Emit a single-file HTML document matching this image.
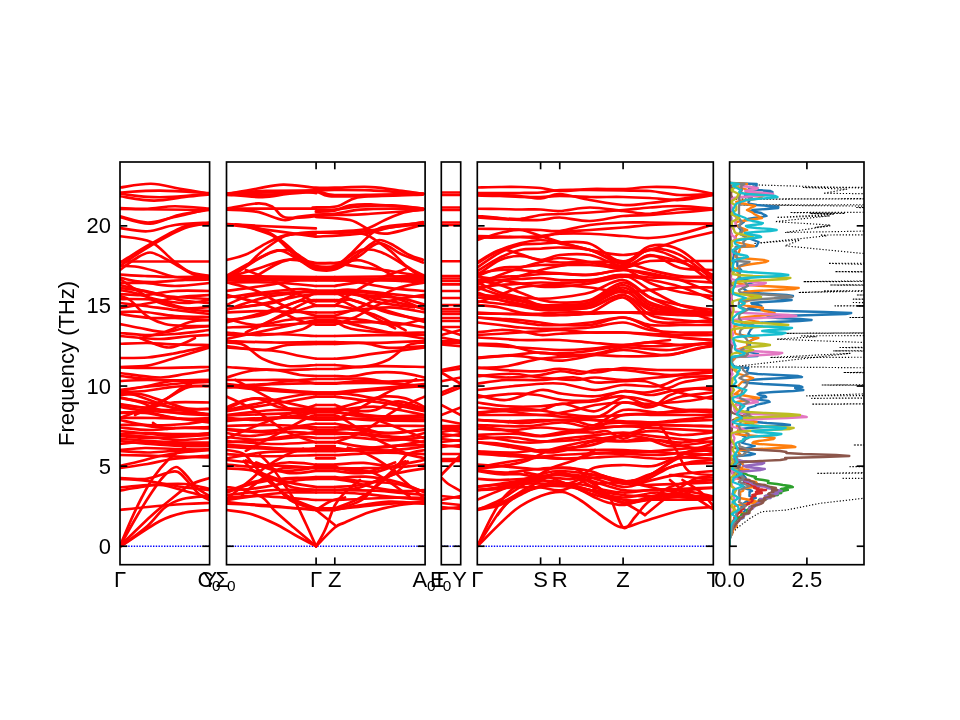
<!DOCTYPE html><html><head><meta charset="utf-8"><style>html,body{margin:0;padding:0;background:#fff;width:960px;height:720px;overflow:hidden}svg{display:block;will-change:transform}text{font-family:"Liberation Sans",sans-serif;fill:#000}</style></head><body>
<svg width="960" height="720" viewBox="0 0 960 720">
<rect width="960" height="720" fill="#fff"/>
<defs>
<clipPath id="c0"><rect x="120.00" y="162.00" width="89.60" height="402.70"/></clipPath>
<clipPath id="c1"><rect x="226.50" y="162.00" width="198.60" height="402.70"/></clipPath>
<clipPath id="c2"><rect x="441.30" y="162.00" width="19.40" height="402.70"/></clipPath>
<clipPath id="c3"><rect x="477.30" y="162.00" width="236.00" height="402.70"/></clipPath>
<clipPath id="c4"><rect x="729.60" y="162.00" width="134.40" height="402.70"/></clipPath>
</defs>
<g clip-path="url(#c0)">
<line x1="120.00" y1="546.25" x2="209.60" y2="546.25" stroke="#0000ff" stroke-width="1.4" stroke-dasharray="1.4 1.35"/>
<g fill="none" stroke="#ff0000" stroke-width="2.70" stroke-linecap="round" stroke-linejoin="round">
<path d="M120.00 187.50 C125.17 186.88 141.00 183.54 151.00 183.75 C161.00 183.96 170.23 187.08 180.00 188.75 C189.77 190.42 204.67 192.92 209.60 193.75"/>
<path d="M120.00 192.50 C126.67 192.18 145.07 190.50 160.00 190.60 C174.93 190.70 201.33 192.68 209.60 193.10"/>
<path d="M120.00 193.75 C124.58 194.28 138.75 196.38 147.50 196.90 C156.25 197.43 162.15 197.43 172.50 196.90 C182.85 196.38 203.42 194.28 209.60 193.75"/>
<path d="M120.00 196.25 C125.62 196.97 142.92 200.49 153.75 200.60 C164.58 200.71 175.69 197.93 185.00 196.90 C194.31 195.87 205.50 194.82 209.60 194.40"/>
<path d="M120.00 208.10 C124.58 208.21 138.33 209.06 147.50 208.75 C156.67 208.44 164.65 206.25 175.00 206.25 C185.35 206.25 203.83 208.33 209.60 208.75"/>
<path d="M120.00 209.00 L209.60 210.00"/>
<path d="M120.00 216.25 C124.58 217.29 138.75 222.29 147.50 222.50 C156.25 222.71 162.15 219.79 172.50 217.50 C182.85 215.21 203.42 210.21 209.60 208.75"/>
<path d="M120.00 217.00 C125.00 218.12 140.21 224.08 150.00 223.75 C159.79 223.42 168.82 217.33 178.75 215.00 C188.68 212.67 204.46 210.62 209.60 209.75"/>
<path d="M120.00 228.10 C124.58 228.62 138.33 231.77 147.50 231.25 C156.67 230.73 164.65 226.46 175.00 225.00 C185.35 223.54 203.83 222.92 209.60 222.50"/>
<path d="M120.00 236.25 C125.17 237.19 142.25 237.94 151.00 241.90 C159.75 245.86 166.00 254.98 172.50 260.00 C179.00 265.02 183.82 269.33 190.00 272.00 C196.18 274.67 206.33 275.33 209.60 276.00"/>
<path d="M120.00 263.00 C121.25 262.17 122.33 261.21 127.50 258.00 C132.67 254.79 141.42 249.04 151.00 243.75 C160.58 238.46 175.23 229.69 185.00 226.25 C194.77 222.81 205.50 223.62 209.60 223.10"/>
<path d="M120.00 266.00 C121.67 264.83 124.83 262.42 130.00 259.00 C135.17 255.58 141.83 250.67 151.00 245.50 C160.17 240.33 175.23 231.62 185.00 228.00 C194.77 224.38 205.50 224.50 209.60 223.80"/>
<path d="M120.00 270.00 C122.50 268.17 130.00 261.92 135.00 259.00 C140.00 256.08 144.83 252.50 150.00 252.50 C155.17 252.50 161.00 256.58 166.00 259.00 C171.00 261.42 175.17 264.33 180.00 267.00 C184.83 269.67 190.07 273.33 195.00 275.00 C199.93 276.67 207.17 276.67 209.60 277.00"/>
<path d="M120.00 261.50 L209.60 261.50"/>
<path d="M120.00 266.00 C122.50 266.08 129.17 265.67 135.00 266.50 C140.83 267.33 148.33 269.25 155.00 271.00 C161.67 272.75 165.90 275.83 175.00 277.00 C184.10 278.17 203.83 277.83 209.60 278.00"/>
<path d="M120.00 274.50 C124.17 274.75 135.83 275.58 145.00 276.00 C154.17 276.42 164.23 276.92 175.00 277.00 C185.77 277.08 203.83 276.58 209.60 276.50"/>
<path d="M120.00 277.50 C122.50 278.08 129.17 280.25 135.00 281.00 C140.83 281.75 146.67 282.17 155.00 282.00 C163.33 281.83 175.90 280.42 185.00 280.00 C194.10 279.58 205.50 279.58 209.60 279.50"/>
<path d="M120.00 279.00 C122.50 280.67 129.17 285.33 135.00 289.00 C140.83 292.67 148.33 298.00 155.00 301.00 C161.67 304.00 168.33 305.50 175.00 307.00 C181.67 308.50 189.23 309.33 195.00 310.00 C200.77 310.67 207.17 310.83 209.60 311.00"/>
<path d="M120.00 283.00 C124.17 283.00 135.83 282.50 145.00 283.00 C154.17 283.50 164.23 286.00 175.00 286.00 C185.77 286.00 203.83 283.50 209.60 283.00"/>
<path d="M120.00 285.00 C123.33 285.83 132.50 288.17 140.00 290.00 C147.50 291.83 153.40 294.50 165.00 296.00 C176.60 297.50 202.17 298.50 209.60 299.00"/>
<path d="M120.00 290.00 C122.50 290.50 129.17 291.50 135.00 293.00 C140.83 294.50 146.67 297.33 155.00 299.00 C163.33 300.67 175.90 302.83 185.00 303.00 C194.10 303.17 205.50 300.50 209.60 300.00"/>
<path d="M120.00 294.00 C124.17 294.17 135.83 295.50 145.00 295.00 C154.17 294.50 164.23 291.67 175.00 291.00 C185.77 290.33 203.83 291.00 209.60 291.00"/>
<path d="M120.00 296.00 C121.67 296.67 126.67 297.67 130.00 300.00 C133.33 302.33 136.67 307.00 140.00 310.00 C143.33 313.00 145.83 315.67 150.00 318.00 C154.17 320.33 159.17 322.67 165.00 324.00 C170.83 325.33 177.57 325.67 185.00 326.00 C192.43 326.33 205.50 326.00 209.60 326.00"/>
<path d="M120.00 299.00 C125.83 299.17 144.17 298.50 155.00 300.00 C165.83 301.50 175.90 306.83 185.00 308.00 C194.10 309.17 205.50 307.17 209.60 307.00"/>
<path d="M120.00 303.00 C124.17 303.50 135.83 304.83 145.00 306.00 C154.17 307.17 164.23 308.67 175.00 310.00 C185.77 311.33 203.83 313.33 209.60 314.00"/>
<path d="M120.00 312.00 C124.17 312.00 135.83 311.33 145.00 312.00 C154.17 312.67 164.23 315.17 175.00 316.00 C185.77 316.83 203.83 316.83 209.60 317.00"/>
<path d="M120.00 314.00 C125.00 314.67 140.83 317.33 150.00 318.00 C159.17 318.67 165.07 317.67 175.00 318.00 C184.93 318.33 203.83 319.67 209.60 320.00"/>
<path d="M120.00 324.00 C123.33 324.67 132.50 326.67 140.00 328.00 C147.50 329.33 157.50 332.00 165.00 332.00 C172.50 332.00 177.57 329.00 185.00 328.00 C192.43 327.00 205.50 326.33 209.60 326.00"/>
<path d="M120.00 333.00 C124.17 333.33 135.83 334.83 145.00 335.00 C154.17 335.17 164.23 334.83 175.00 334.00 C185.77 333.17 203.83 330.67 209.60 330.00"/>
<path d="M120.00 336.00 C126.67 336.50 148.33 339.00 160.00 339.00 C171.67 339.00 181.73 336.67 190.00 336.00 C198.27 335.33 206.33 335.17 209.60 335.00"/>
<path d="M120.00 288.00 C125.00 288.67 140.00 290.00 150.00 292.00 C160.00 294.00 170.07 298.17 180.00 300.00 C189.93 301.83 204.67 302.50 209.60 303.00"/>
<path d="M120.00 308.00 C125.00 307.17 140.00 304.83 150.00 303.00 C160.00 301.17 170.07 298.33 180.00 297.00 C189.93 295.67 204.67 295.33 209.60 295.00"/>
<path d="M140.00 338.00 C144.17 337.00 156.67 334.67 165.00 332.00 C173.33 329.33 182.57 324.00 190.00 322.00 C197.43 320.00 206.33 320.33 209.60 320.00"/>
<path d="M120.00 343.75 C124.58 343.62 138.75 342.89 147.50 343.00 C156.25 343.11 162.15 344.07 172.50 344.40 C182.85 344.73 203.42 344.90 209.60 345.00"/>
<path d="M140.00 338.00 C142.50 339.00 150.21 342.42 155.00 344.00 C159.79 345.58 164.25 347.50 168.75 347.50 C173.25 347.50 177.62 345.58 182.00 344.00 C186.38 342.42 192.83 339.00 195.00 338.00"/>
<path d="M120.00 358.00 C124.58 357.92 138.75 358.21 147.50 357.50 C156.25 356.79 162.15 355.67 172.50 353.75 C182.85 351.83 203.42 347.29 209.60 346.00"/>
<path d="M120.00 367.00 C124.58 366.77 138.75 366.98 147.50 365.60 C156.25 364.23 162.15 361.77 172.50 358.75 C182.85 355.73 203.42 349.38 209.60 347.50"/>
<path d="M120.00 367.50 C126.67 367.58 145.07 368.08 160.00 368.00 C174.93 367.92 201.33 367.17 209.60 367.00"/>
<path d="M120.00 373.00 C126.67 373.75 149.17 377.33 160.00 377.50 C170.83 377.67 176.73 375.25 185.00 374.00 C193.27 372.75 205.50 370.67 209.60 370.00"/>
<path d="M120.00 376.00 C126.67 376.67 145.07 379.33 160.00 380.00 C174.93 380.67 201.33 380.00 209.60 380.00"/>
<path d="M120.00 381.00 C124.58 380.83 132.57 380.00 147.50 380.00 C162.43 380.00 199.25 380.83 209.60 381.00"/>
<path d="M120.00 391.00 C124.58 390.17 138.75 387.67 147.50 386.00 C156.25 384.33 162.15 382.00 172.50 381.00 C182.85 380.00 203.42 380.17 209.60 380.00"/>
<path d="M120.00 392.50 C122.50 392.92 127.71 392.92 135.00 395.00 C142.29 397.08 155.42 402.33 163.75 405.00 C172.08 407.67 177.36 409.33 185.00 411.00 C192.64 412.67 205.50 414.33 209.60 415.00"/>
<path d="M120.00 397.50 C123.50 398.33 134.33 400.42 141.00 402.50 C147.67 404.58 152.67 408.08 160.00 410.00 C167.33 411.92 176.73 413.17 185.00 414.00 C193.27 414.83 205.50 414.83 209.60 415.00"/>
<path d="M120.00 405.00 C124.58 405.42 138.75 407.92 147.50 407.50 C156.25 407.08 162.15 403.33 172.50 402.50 C182.85 401.67 203.42 402.50 209.60 402.50"/>
<path d="M120.00 412.50 C124.58 412.50 138.75 411.67 147.50 412.50 C156.25 413.33 162.15 415.83 172.50 417.50 C182.85 419.17 203.42 421.67 209.60 422.50"/>
<path d="M120.00 420.00 C124.58 420.83 136.67 424.33 147.50 425.00 C158.33 425.67 174.65 424.83 185.00 424.00 C195.35 423.17 205.50 420.67 209.60 420.00"/>
<path d="M120.00 427.50 C125.00 427.92 140.00 429.92 150.00 430.00 C160.00 430.08 170.07 428.25 180.00 428.00 C189.93 427.75 204.67 428.42 209.60 428.50"/>
<path d="M120.00 431.00 C125.00 431.50 140.00 433.17 150.00 434.00 C160.00 434.83 170.07 436.17 180.00 436.00 C189.93 435.83 204.67 433.50 209.60 433.00"/>
<path d="M120.00 435.00 C125.00 435.33 140.00 436.17 150.00 437.00 C160.00 437.83 170.07 439.83 180.00 440.00 C189.93 440.17 204.67 438.33 209.60 438.00"/>
<path d="M120.00 438.75 C125.00 439.12 139.17 440.38 150.00 441.00 C160.83 441.62 175.07 442.25 185.00 442.50 C194.93 442.75 205.50 442.50 209.60 442.50"/>
<path d="M120.00 441.00 C125.00 441.50 140.00 443.17 150.00 444.00 C160.00 444.83 170.07 445.67 180.00 446.00 C189.93 446.33 204.67 446.00 209.60 446.00"/>
<path d="M120.00 451.00 C124.58 451.25 138.75 452.50 147.50 452.50 C156.25 452.50 162.15 451.58 172.50 451.00 C182.85 450.42 203.42 449.33 209.60 449.00"/>
<path d="M120.00 455.00 C126.67 455.17 145.07 455.58 160.00 456.00 C174.93 456.42 201.33 457.25 209.60 457.50"/>
<path d="M120.00 466.00 C123.50 465.17 134.33 462.67 141.00 461.00 C147.67 459.33 152.67 457.50 160.00 456.00 C167.33 454.50 176.73 453.00 185.00 452.00 C193.27 451.00 205.50 450.33 209.60 450.00"/>
<path d="M120.00 468.00 C124.58 467.33 138.75 465.50 147.50 464.00 C156.25 462.50 162.15 460.42 172.50 459.00 C182.85 457.58 203.42 456.08 209.60 455.50"/>
<path d="M120.00 478.00 C124.17 478.17 137.17 479.83 145.00 479.00 C152.83 478.17 161.50 474.17 167.00 473.00 C172.50 471.83 174.17 470.17 178.00 472.00 C181.83 473.83 186.33 480.17 190.00 484.00 C193.67 487.83 196.73 492.33 200.00 495.00 C203.27 497.67 208.00 499.17 209.60 500.00"/>
<path d="M120.00 546.00 C122.83 541.00 131.67 525.00 137.00 516.00 C142.33 507.00 147.50 498.67 152.00 492.00 C156.50 485.33 160.00 480.17 164.00 476.00 C168.00 471.83 172.33 467.17 176.00 467.00 C179.67 466.83 182.50 471.50 186.00 475.00 C189.50 478.50 193.07 484.50 197.00 488.00 C200.93 491.50 207.50 494.67 209.60 496.00"/>
<path d="M120.00 479.00 C124.58 479.33 136.67 479.58 147.50 481.00 C158.33 482.42 174.65 486.00 185.00 487.50 C195.35 489.00 205.50 489.58 209.60 490.00"/>
<path d="M120.00 487.50 C124.58 487.08 136.67 485.58 147.50 485.00 C158.33 484.42 174.65 483.33 185.00 484.00 C195.35 484.67 205.50 488.17 209.60 489.00"/>
<path d="M120.00 510.00 C124.58 509.50 136.67 508.00 147.50 507.00 C158.33 506.00 174.65 504.67 185.00 504.00 C195.35 503.33 205.50 503.17 209.60 503.00"/>
<path d="M120.00 490.60 C122.50 490.17 128.33 488.93 135.00 488.00 C141.67 487.07 151.67 484.50 160.00 485.00 C168.33 485.50 176.73 488.92 185.00 491.00 C193.27 493.08 205.50 496.42 209.60 497.50"/>
<path d="M121.25 546.00 C127.71 541.83 149.38 526.58 160.00 521.00 C170.62 515.42 176.73 514.33 185.00 512.50 C193.27 510.67 205.50 510.42 209.60 510.00"/>
<path d="M121.25 546.00 C125.62 542.67 140.21 532.42 147.50 526.00 C154.79 519.58 159.17 512.00 165.00 507.50 C170.83 503.00 175.07 500.92 182.50 499.00 C189.93 497.08 205.08 496.50 209.60 496.00"/>
<path d="M120.00 546.00 C121.83 541.67 127.33 528.17 131.00 520.00 C134.67 511.83 138.33 504.00 142.00 497.00 C145.67 490.00 148.67 484.17 153.00 478.00 C157.33 471.83 162.67 465.17 168.00 460.00 C173.33 454.83 182.17 449.17 185.00 447.00"/>
<path d="M120.00 546.00 C125.00 541.17 141.67 524.67 150.00 517.00 C158.33 509.33 163.33 505.33 170.00 500.00 C176.67 494.67 183.40 488.67 190.00 485.00 C196.60 481.33 206.33 479.17 209.60 478.00"/>
<path d="M120.00 390.00 C122.50 389.67 129.17 388.67 135.00 388.00 C140.83 387.33 146.67 386.83 155.00 386.00 C163.33 385.17 176.00 383.67 185.00 383.00 C194.00 382.33 205.00 382.17 209.00 382.00"/>
<path d="M120.00 392.00 C124.17 391.83 137.50 391.67 145.00 391.00 C152.50 390.33 158.33 388.83 165.00 388.00 C171.67 387.17 177.67 386.33 185.00 386.00 C192.33 385.67 205.00 386.00 209.00 386.00"/>
<path d="M120.00 395.00 C123.33 394.83 133.33 393.17 140.00 394.00 C146.67 394.83 152.50 397.67 160.00 400.00 C167.50 402.33 176.83 406.50 185.00 408.00 C193.17 409.50 205.00 408.83 209.00 409.00"/>
<path d="M120.00 398.00 C124.17 398.67 137.50 400.67 145.00 402.00 C152.50 403.33 158.33 404.67 165.00 406.00 C171.67 407.33 177.67 408.50 185.00 410.00 C192.33 411.50 205.00 414.17 209.00 415.00"/>
<path d="M135.00 415.00 C139.17 413.00 151.67 407.83 160.00 403.00 C168.33 398.17 179.83 389.00 185.00 386.00 C190.17 383.00 190.00 385.17 191.00 385.00"/>
<path d="M120.00 404.00 C124.17 404.67 137.50 407.00 145.00 408.00 C152.50 409.00 158.33 409.67 165.00 410.00 C171.67 410.33 177.67 410.17 185.00 410.00 C192.33 409.83 205.00 409.17 209.00 409.00"/>
<path d="M120.00 407.00 C123.33 407.50 132.50 409.17 140.00 410.00 C147.50 410.83 155.83 411.50 165.00 412.00 C174.17 412.50 187.67 412.67 195.00 413.00 C202.33 413.33 206.67 413.83 209.00 414.00"/>
<path d="M120.00 413.00 C124.17 413.00 135.83 412.17 145.00 413.00 C154.17 413.83 164.33 416.83 175.00 418.00 C185.67 419.17 203.33 419.67 209.00 420.00"/>
<path d="M120.00 418.00 C125.83 418.00 144.17 417.83 155.00 418.00 C165.83 418.17 176.00 419.00 185.00 419.00 C194.00 419.00 205.00 418.17 209.00 418.00"/>
<path d="M120.00 425.00 C123.33 425.00 134.17 424.67 140.00 425.00 C145.83 425.33 149.17 426.50 155.00 427.00 C160.83 427.50 166.00 428.00 175.00 428.00 C184.00 428.00 203.33 427.17 209.00 427.00"/>
<path d="M120.00 434.00 C124.17 433.83 135.83 433.00 145.00 433.00 C154.17 433.00 164.33 433.83 175.00 434.00 C185.67 434.17 203.33 434.00 209.00 434.00"/>
<path d="M120.00 436.00 C124.17 436.33 135.83 437.83 145.00 438.00 C154.17 438.17 164.33 437.50 175.00 437.00 C185.67 436.50 203.33 435.33 209.00 435.00"/>
<path d="M120.00 444.00 C124.17 443.67 135.83 442.00 145.00 442.00 C154.17 442.00 164.33 443.67 175.00 444.00 C185.67 444.33 203.33 444.00 209.00 444.00"/>
<path d="M120.00 450.00 C124.17 449.67 135.83 448.17 145.00 448.00 C154.17 447.83 164.33 448.67 175.00 449.00 C185.67 449.33 203.33 449.83 209.00 450.00"/>
<path d="M153.00 423.00 C154.17 423.67 157.67 426.00 160.00 427.00 C162.33 428.00 164.50 428.83 167.00 429.00 C169.50 429.17 173.67 428.17 175.00 428.00"/>
<path d="M120.00 418.00 C123.50 416.67 133.33 413.17 141.00 410.00 C148.67 406.83 158.25 402.75 166.00 399.00 C173.75 395.25 180.23 389.67 187.50 387.50 C194.77 385.33 205.92 386.25 209.60 386.00"/>
</g></g>
<g clip-path="url(#c1)">
<line x1="226.50" y1="546.25" x2="425.10" y2="546.25" stroke="#0000ff" stroke-width="1.4" stroke-dasharray="1.4 1.35"/>
<g fill="none" stroke="#ff0000" stroke-width="2.70" stroke-linecap="round" stroke-linejoin="round">
<path d="M226.50 276.00 L316.10 277.00"/>
<path d="M425.10 276.00 L334.80 277.00"/>
<path d="M316.10 277.00 L334.80 277.00"/>
<path d="M226.50 278.00 L316.10 279.00"/>
<path d="M425.10 278.00 L334.80 279.00"/>
<path d="M316.10 279.00 L334.80 279.00"/>
<path d="M226.50 280.00 L316.10 280.50"/>
<path d="M425.10 280.00 L334.80 280.50"/>
<path d="M316.10 280.50 L334.80 280.50"/>
<path d="M226.50 282.50 C234.58 282.50 260.07 281.92 275.00 282.50 C289.93 283.08 309.25 285.42 316.10 286.00"/>
<path d="M425.10 282.50 C416.95 282.13 391.27 279.72 376.22 280.30 C361.17 280.89 341.70 285.05 334.80 286.00"/>
<path d="M316.10 286.00 L334.80 286.00"/>
<path d="M226.50 291.00 C232.50 290.17 250.25 287.83 262.50 286.00 C274.75 284.17 291.07 281.00 300.00 280.00 C308.93 279.00 313.42 280.00 316.10 280.00"/>
<path d="M425.10 291.00 C419.05 290.47 401.16 289.47 388.82 287.80 C376.47 286.14 360.03 282.31 351.03 281.01 C342.02 279.71 337.50 280.17 334.80 280.00"/>
<path d="M316.10 280.00 L334.80 280.00"/>
<path d="M226.50 297.50 C232.50 296.67 250.25 293.92 262.50 292.50 C274.75 291.08 291.07 289.25 300.00 289.00 C308.93 288.75 313.42 290.67 316.10 291.00"/>
<path d="M425.10 297.50 C419.05 296.89 401.16 295.14 388.82 293.85 C376.47 292.56 360.03 290.23 351.03 289.76 C342.02 289.28 337.50 290.79 334.80 291.00"/>
<path d="M316.10 291.00 L334.80 291.00"/>
<path d="M226.50 305.00 C230.42 303.50 239.83 298.08 250.00 296.00 C260.17 293.92 276.48 293.33 287.50 292.50 C298.52 291.67 311.33 291.25 316.10 291.00"/>
<path d="M425.10 305.00 C421.15 303.88 411.66 299.94 401.42 298.30 C391.17 296.66 374.73 296.36 363.62 295.14 C352.52 293.93 339.60 291.69 334.80 291.00"/>
<path d="M316.10 291.00 L334.80 291.00"/>
<path d="M226.50 309.00 C231.42 308.33 243.75 307.17 256.00 305.00 C268.25 302.83 289.98 297.83 300.00 296.00 C310.02 294.17 313.42 294.33 316.10 294.00"/>
<path d="M425.10 309.00 C420.14 307.86 407.72 304.62 395.37 302.16 C383.02 299.70 361.12 295.59 351.03 294.23 C340.93 292.87 337.50 294.04 334.80 294.00"/>
<path d="M316.10 294.00 L334.80 294.00"/>
<path d="M237.50 307.50 C243.75 306.67 264.58 305.00 275.00 302.50 C285.42 300.00 293.15 294.25 300.00 292.50 C306.85 290.75 313.42 292.08 316.10 292.00"/>
<path d="M414.01 307.27 C407.72 306.37 386.72 304.40 376.22 301.88 C365.72 299.36 357.93 293.81 351.03 292.17 C344.12 290.52 337.50 292.03 334.80 292.00"/>
<path d="M316.10 292.00 L334.80 292.00"/>
<path d="M226.50 312.50 C232.50 312.25 247.57 311.00 262.50 311.00 C277.43 311.00 307.17 312.25 316.10 312.50"/>
<path d="M425.10 312.50 C419.05 311.65 403.87 307.42 388.82 307.42 C373.77 307.42 343.80 311.65 334.80 312.50"/>
<path d="M316.10 312.50 L334.80 312.50"/>
<path d="M226.50 320.00 C232.50 319.17 250.25 318.17 262.50 315.00 C274.75 311.83 291.07 302.58 300.00 301.00 C308.93 299.42 313.42 304.75 316.10 305.50"/>
<path d="M425.10 320.00 C419.05 318.81 401.16 316.22 388.82 312.86 C376.47 309.49 360.03 301.02 351.03 299.80 C342.02 298.57 337.50 304.55 334.80 305.50"/>
<path d="M316.10 305.50 L334.80 305.50"/>
<path d="M226.50 318.75 C231.42 319.79 245.83 324.79 256.00 325.00 C266.17 325.21 277.48 321.25 287.50 320.00 C297.52 318.75 311.33 317.92 316.10 317.50"/>
<path d="M425.10 318.75 C420.14 319.80 405.62 324.82 395.37 325.04 C385.12 325.25 373.72 321.29 363.62 320.04 C353.53 318.78 339.60 317.92 334.80 317.50"/>
<path d="M316.10 317.50 L334.80 317.50"/>
<path d="M226.50 327.50 C232.50 327.25 247.57 326.83 262.50 326.00 C277.43 325.17 307.17 323.08 316.10 322.50"/>
<path d="M425.10 327.50 C419.05 326.65 403.87 323.22 388.82 322.39 C373.77 321.56 343.80 322.48 334.80 322.50"/>
<path d="M316.10 322.50 L334.80 322.50"/>
<path d="M226.50 332.50 C232.50 332.92 250.25 335.42 262.50 335.00 C274.75 334.58 291.07 332.33 300.00 330.00 C308.93 327.67 313.42 322.50 316.10 321.00"/>
<path d="M425.10 332.50 C419.05 332.53 401.16 333.34 388.82 332.70 C376.47 332.07 360.03 330.66 351.03 328.71 C342.02 326.76 337.50 322.29 334.80 321.00"/>
<path d="M316.10 321.00 L334.80 321.00"/>
<path d="M226.50 335.00 C234.58 334.83 260.07 333.83 275.00 334.00 C289.93 334.17 309.25 335.67 316.10 336.00"/>
<path d="M425.10 335.00 C416.95 335.03 391.27 335.02 376.22 335.19 C361.17 335.36 341.70 335.86 334.80 336.00"/>
<path d="M316.10 336.00 L334.80 336.00"/>
<path d="M226.50 341.00 C234.58 341.25 260.07 342.33 275.00 342.50 C289.93 342.67 309.25 342.08 316.10 342.00"/>
<path d="M425.10 341.00 C416.95 341.31 391.27 342.69 376.22 342.86 C361.17 343.02 341.70 342.14 334.80 342.00"/>
<path d="M316.10 342.00 L334.80 342.00"/>
<path d="M226.50 346.00 C232.50 346.67 252.33 350.17 262.50 350.00 C272.67 349.83 278.57 346.00 287.50 345.00 C296.43 344.00 311.33 344.17 316.10 344.00"/>
<path d="M425.10 346.00 C419.05 346.31 399.06 348.35 388.82 347.87 C378.57 347.39 372.63 343.76 363.62 343.11 C354.62 342.47 339.60 343.85 334.80 344.00"/>
<path d="M316.10 344.00 L334.80 344.00"/>
<path d="M226.50 342.50 C229.38 342.92 237.75 342.29 243.75 345.00 C249.75 347.71 255.21 355.25 262.50 358.75 C269.79 362.25 278.57 364.96 287.50 366.00 C296.43 367.04 311.33 365.17 316.10 365.00"/>
<path d="M425.10 342.50 C422.20 342.98 413.76 342.58 407.72 345.41 C401.67 348.23 396.17 355.90 388.82 359.43 C381.47 362.96 372.63 365.67 363.62 366.60 C354.62 367.53 339.60 365.27 334.80 365.00"/>
<path d="M316.10 365.00 L334.80 365.00"/>
<path d="M226.50 347.50 C234.58 348.08 262.75 349.58 275.00 351.00 C287.25 352.42 293.15 354.71 300.00 356.00 C306.85 357.29 313.42 358.29 316.10 358.75"/>
<path d="M425.10 347.50 C416.95 348.49 388.57 351.82 376.22 353.45 C363.88 355.09 357.93 356.44 351.03 357.32 C344.12 358.21 337.50 358.51 334.80 358.75"/>
<path d="M316.10 358.75 L334.80 358.75"/>
<path d="M226.50 367.00 C234.58 367.50 260.07 369.67 275.00 370.00 C289.93 370.33 309.25 369.17 316.10 369.00"/>
<path d="M425.10 367.00 C416.95 366.85 391.27 365.75 376.22 366.09 C361.17 366.42 341.70 368.51 334.80 369.00"/>
<path d="M316.10 369.00 L334.80 369.00"/>
<path d="M226.50 377.50 C230.42 376.42 241.92 372.25 250.00 371.00 C258.08 369.75 266.67 369.33 275.00 370.00 C283.33 370.67 293.15 374.00 300.00 375.00 C306.85 376.00 313.42 375.83 316.10 376.00"/>
<path d="M425.10 377.50 C421.15 376.72 409.56 373.64 401.42 372.80 C393.27 371.95 384.62 371.84 376.22 372.43 C367.82 373.01 357.93 375.71 351.03 376.31 C344.12 376.90 337.50 376.05 334.80 376.00"/>
<path d="M316.10 376.00 L334.80 376.00"/>
<path d="M226.50 380.00 C232.50 380.00 251.29 380.00 262.50 380.00 C273.71 380.00 284.82 379.38 293.75 380.00 C302.68 380.62 312.38 383.12 316.10 383.75"/>
<path d="M425.10 380.00 C419.05 380.25 400.11 381.32 388.82 381.51 C377.52 381.70 366.33 380.75 357.32 381.12 C348.32 381.49 338.55 383.31 334.80 383.75"/>
<path d="M316.10 383.75 L334.80 383.75"/>
<path d="M226.50 386.00 C232.50 386.67 250.25 388.92 262.50 390.00 C274.75 391.08 291.07 392.08 300.00 392.50 C308.93 392.92 313.42 392.50 316.10 392.50"/>
<path d="M425.10 386.00 C419.05 386.46 401.16 387.81 388.82 388.78 C376.47 389.75 360.03 391.20 351.03 391.82 C342.02 392.44 337.50 392.39 334.80 392.50"/>
<path d="M316.10 392.50 L334.80 392.50"/>
<path d="M226.50 387.50 C232.50 387.08 252.33 386.08 262.50 385.00 C272.67 383.92 278.57 382.00 287.50 381.00 C296.43 380.00 311.33 379.33 316.10 379.00"/>
<path d="M425.10 387.50 C419.05 386.65 399.06 383.84 388.82 382.37 C378.57 380.90 372.63 379.24 363.62 378.68 C354.62 378.11 339.60 378.95 334.80 379.00"/>
<path d="M316.10 379.00 L334.80 379.00"/>
<path d="M226.50 409.00 C230.42 407.33 244.00 400.50 250.00 399.00 C256.00 397.50 257.33 398.58 262.50 400.00 C267.67 401.42 272.07 406.00 281.00 407.50 C289.93 409.00 310.25 408.75 316.10 409.00"/>
<path d="M425.10 409.00 C421.15 407.78 407.46 402.60 401.42 401.68 C395.37 400.77 394.03 401.94 388.82 403.48 C383.61 405.03 379.18 410.03 370.17 410.95 C361.17 411.87 340.70 409.32 334.80 409.00"/>
<path d="M316.10 409.00 L334.80 409.00"/>
<path d="M226.50 410.00 C232.50 408.75 250.25 405.00 262.50 402.50 C274.75 400.00 291.07 396.42 300.00 395.00 C308.93 393.58 313.42 394.17 316.10 394.00"/>
<path d="M425.10 410.00 C419.05 408.54 401.16 403.87 388.82 401.25 C376.47 398.64 360.03 395.51 351.03 394.30 C342.02 393.09 337.50 394.05 334.80 394.00"/>
<path d="M316.10 394.00 L334.80 394.00"/>
<path d="M226.50 415.00 C234.58 414.17 260.07 410.67 275.00 410.00 C289.93 409.33 309.25 410.83 316.10 411.00"/>
<path d="M425.10 415.00 C416.95 413.63 391.27 407.44 376.22 406.77 C361.17 406.10 341.70 410.29 334.80 411.00"/>
<path d="M316.10 411.00 L334.80 411.00"/>
<path d="M226.50 417.50 C232.50 417.92 247.57 420.83 262.50 420.00 C277.43 419.17 307.17 413.75 316.10 412.50"/>
<path d="M425.10 417.50 C419.05 417.40 403.87 417.76 388.82 416.93 C373.77 416.09 343.80 413.24 334.80 412.50"/>
<path d="M316.10 412.50 L334.80 412.50"/>
<path d="M226.50 421.00 C234.58 420.42 260.07 418.08 275.00 417.50 C289.93 416.92 309.25 417.50 316.10 417.50"/>
<path d="M425.10 421.00 C416.95 420.88 391.27 420.84 376.22 420.26 C361.17 419.67 341.70 417.96 334.80 417.50"/>
<path d="M316.10 417.50 L334.80 417.50"/>
<path d="M226.50 426.00 C234.58 425.83 260.07 424.75 275.00 425.00 C289.93 425.25 309.25 427.08 316.10 427.50"/>
<path d="M425.10 426.00 C416.95 425.97 391.27 425.57 376.22 425.82 C361.17 426.07 341.70 427.22 334.80 427.50"/>
<path d="M316.10 427.50 L334.80 427.50"/>
<path d="M226.50 429.00 C232.50 429.33 250.25 431.17 262.50 431.00 C274.75 430.83 291.07 428.17 300.00 428.00 C308.93 427.83 313.42 429.67 316.10 430.00"/>
<path d="M425.10 429.00 C419.05 429.72 401.16 433.29 388.82 433.34 C376.47 433.39 360.03 429.87 351.03 429.31 C342.02 428.76 337.50 429.89 334.80 430.00"/>
<path d="M316.10 430.00 L334.80 430.00"/>
<path d="M226.50 433.00 C230.42 433.50 239.83 436.17 250.00 436.00 C260.17 435.83 276.48 432.33 287.50 432.00 C298.52 431.67 311.33 433.67 316.10 434.00"/>
<path d="M425.10 433.00 C421.15 433.72 411.66 437.26 401.42 437.35 C391.17 437.44 374.73 434.11 363.62 433.55 C352.52 432.99 339.60 433.92 334.80 434.00"/>
<path d="M316.10 434.00 L334.80 434.00"/>
<path d="M226.50 437.00 C232.50 437.50 250.25 440.00 262.50 440.00 C274.75 440.00 291.07 437.33 300.00 437.00 C308.93 436.67 313.42 437.83 316.10 438.00"/>
<path d="M425.10 437.00 C419.05 437.55 401.16 440.25 388.82 440.28 C376.47 440.30 360.03 437.53 351.03 437.16 C342.02 436.78 337.50 437.86 334.80 438.00"/>
<path d="M316.10 438.00 L334.80 438.00"/>
<path d="M226.50 441.00 C234.58 441.50 260.07 443.83 275.00 444.00 C289.93 444.17 309.25 442.33 316.10 442.00"/>
<path d="M425.10 441.00 C416.95 442.13 391.27 447.59 376.22 447.75 C361.17 447.92 341.70 442.96 334.80 442.00"/>
<path d="M316.10 442.00 L334.80 442.00"/>
<path d="M226.50 445.00 C232.50 445.33 250.25 446.17 262.50 447.00 C274.75 447.83 291.07 449.83 300.00 450.00 C308.93 450.17 313.42 448.33 316.10 448.00"/>
<path d="M425.10 445.00 C419.05 445.18 401.16 445.33 388.82 446.07 C376.47 446.82 360.03 449.16 351.03 449.48 C342.02 449.80 337.50 448.25 334.80 448.00"/>
<path d="M316.10 448.00 L334.80 448.00"/>
<path d="M226.50 450.00 C229.38 450.67 238.83 451.08 243.75 454.00 C248.67 456.92 250.79 462.33 256.00 467.50 C261.21 472.67 269.33 479.58 275.00 485.00 C280.67 490.42 283.15 495.83 290.00 500.00 C296.85 504.17 311.75 508.33 316.10 510.00"/>
<path d="M425.10 450.00 C422.20 450.71 412.67 451.26 407.72 454.24 C402.76 457.21 400.62 462.66 395.37 467.86 C390.12 473.05 381.93 480.00 376.22 485.41 C370.51 490.82 368.01 496.23 361.10 500.33 C354.20 504.43 339.18 508.39 334.80 510.00"/>
<path d="M316.10 510.00 L334.80 510.00"/>
<path d="M226.50 460.00 C230.42 460.42 244.00 461.67 250.00 462.50 C256.00 463.33 256.25 464.42 262.50 465.00 C268.75 465.58 278.57 465.50 287.50 466.00 C296.43 466.50 311.33 467.67 316.10 468.00"/>
<path d="M425.10 460.00 C421.15 460.74 407.46 463.18 401.42 464.43 C395.37 465.69 395.12 466.88 388.82 467.51 C382.52 468.14 372.63 468.14 363.62 468.22 C354.62 468.30 339.60 468.04 334.80 468.00"/>
<path d="M316.10 468.00 L334.80 468.00"/>
<path d="M243.75 461.00 C245.79 462.92 250.79 469.33 256.00 472.50 C261.21 475.67 268.71 477.50 275.00 480.00 C281.29 482.50 286.90 485.83 293.75 487.50 C300.60 489.17 312.38 489.58 316.10 490.00"/>
<path d="M407.72 461.54 C405.66 463.50 400.62 470.08 395.37 473.31 C390.12 476.55 382.56 478.46 376.22 480.94 C369.88 483.42 364.23 486.66 357.32 488.17 C350.42 489.68 338.55 489.69 334.80 490.00"/>
<path d="M316.10 490.00 L334.80 490.00"/>
<path d="M316.10 446.00 L334.80 446.00"/>
<path d="M226.50 490.00 C230.42 489.83 241.92 489.83 250.00 489.00 C258.08 488.17 266.67 486.50 275.00 485.00 C283.33 483.50 293.15 481.00 300.00 480.00 C306.85 479.00 313.42 479.17 316.10 479.00"/>
<path d="M425.10 490.00 C421.15 490.19 409.56 491.48 401.42 491.12 C393.27 490.77 384.62 489.47 376.22 487.87 C367.82 486.27 357.93 483.03 351.03 481.55 C344.12 480.07 337.50 479.42 334.80 479.00"/>
<path d="M316.10 479.00 L334.80 479.00"/>
<path d="M226.50 495.00 C230.42 494.58 241.92 493.33 250.00 492.50 C258.08 491.67 263.98 490.42 275.00 490.00 C286.02 489.58 309.25 490.00 316.10 490.00"/>
<path d="M425.10 495.00 C421.15 494.66 409.56 493.69 401.42 492.95 C393.27 492.22 387.32 491.11 376.22 490.61 C365.12 490.12 341.70 490.10 334.80 490.00"/>
<path d="M316.10 490.00 L334.80 490.00"/>
<path d="M226.50 500.00 C232.50 499.17 252.33 496.25 262.50 495.00 C272.67 493.75 278.57 492.92 287.50 492.50 C296.43 492.08 311.33 492.50 316.10 492.50"/>
<path d="M425.10 500.00 C419.05 499.43 399.06 497.58 388.82 496.56 C378.57 495.54 372.63 494.56 363.62 493.88 C354.62 493.20 339.60 492.73 334.80 492.50"/>
<path d="M316.10 492.50 L334.80 492.50"/>
<path d="M226.50 503.75 C232.50 503.96 250.25 504.17 262.50 505.00 C274.75 505.83 291.07 507.92 300.00 508.75 C308.93 509.58 313.42 509.79 316.10 510.00"/>
<path d="M425.10 503.75 C419.05 503.38 401.16 501.03 388.82 501.54 C376.47 502.05 360.03 505.40 351.03 506.81 C342.02 508.22 337.50 509.47 334.80 510.00"/>
<path d="M316.10 510.00 L334.80 510.00"/>
<path d="M316.10 546.25 C312.58 544.38 301.85 538.75 295.00 535.00 C288.15 531.25 282.50 527.29 275.00 523.75 C267.50 520.21 258.08 516.04 250.00 513.75 C241.92 511.46 230.42 510.62 226.50 510.00"/>
<path d="M316.10 546.25 C312.38 543.12 300.60 533.38 293.75 527.50 C286.90 521.62 280.21 516.00 275.00 511.00 C269.79 506.00 267.71 501.00 262.50 497.50 C257.29 494.00 249.75 491.75 243.75 490.00 C237.75 488.25 229.38 487.50 226.50 487.00"/>
<path d="M316.10 546.25 C314.42 542.54 309.73 531.88 306.00 524.00 C302.27 516.12 297.92 506.33 293.75 499.00 C289.58 491.67 284.96 485.67 281.00 480.00 C277.04 474.33 273.50 469.17 270.00 465.00 C266.50 460.83 261.67 456.67 260.00 455.00"/>
<path d="M316.10 546.25 C317.58 543.54 321.85 536.88 325.00 530.00 C328.15 523.12 331.67 511.25 335.00 505.00 C338.33 498.75 340.83 496.67 345.00 492.50 C349.17 488.33 357.50 482.08 360.00 480.00"/>
<path d="M316.10 546.25 C319.22 543.12 329.98 531.46 334.80 527.50 C339.62 523.54 339.13 525.08 345.00 522.50 C350.87 519.92 360.83 514.92 370.00 512.00 C379.17 509.08 390.82 506.50 400.00 505.00 C409.18 503.50 420.92 503.33 425.10 503.00"/>
<path d="M316.10 510.00 C318.58 508.50 326.18 503.08 331.00 501.00 C335.82 498.92 342.67 498.08 345.00 497.50"/>
<path d="M316.10 510.00 L334.80 525.00"/>
<path d="M227.08 193.96 C231.94 193.09 246.88 190.31 256.25 188.75 C265.62 187.19 273.40 184.76 283.33 184.58 C293.26 184.41 307.29 187.19 315.83 187.71 C324.38 188.23 325.42 187.81 334.58 187.71 C343.75 187.60 359.58 186.56 370.83 187.08 C382.08 187.60 393.40 189.69 402.08 190.83 C410.76 191.98 419.44 193.44 422.92 193.96"/>
<path d="M227.08 193.33 C233.68 192.92 251.88 191.32 266.67 190.83 C281.46 190.35 304.51 190.56 315.83 190.42 C327.15 190.28 325.42 190.00 334.58 190.00 C343.75 190.00 356.11 189.83 370.83 190.42 C385.56 191.01 414.24 193.02 422.92 193.54"/>
<path d="M227.08 194.58 C232.99 195.00 252.43 197.19 262.50 197.08 C272.57 196.98 278.61 194.83 287.50 193.96 C296.39 193.09 308.89 191.53 315.83 191.88 C322.78 192.22 320.00 195.35 329.17 196.04 C338.33 196.74 355.21 196.28 370.83 196.04 C386.46 195.80 414.24 194.83 422.92 194.58"/>
<path d="M227.08 195.00 C231.94 194.65 244.44 193.44 256.25 192.92 C268.06 192.40 287.99 192.22 297.92 191.88 C307.85 191.53 309.72 190.31 315.83 190.83 C321.94 191.35 323.68 194.38 334.58 195.00 C345.49 195.62 366.53 194.72 381.25 194.58 C395.97 194.44 415.97 194.24 422.92 194.17"/>
<path d="M227.08 208.54 C232.29 207.67 250.69 203.58 258.33 203.33 C265.97 203.09 268.40 204.72 272.92 207.08 C277.43 209.44 278.26 215.97 285.42 217.50 C292.57 219.03 310.76 216.46 315.83 216.25"/>
<path d="M227.08 208.54 L315.83 208.54"/>
<path d="M315.83 209.58 C318.96 209.58 327.15 210.10 334.58 209.58 C342.01 209.06 350.90 207.15 360.42 206.46 C369.93 205.76 381.25 205.07 391.67 205.42 C402.08 205.76 417.71 208.02 422.92 208.54"/>
<path d="M227.08 209.58 C231.94 209.93 246.88 209.93 256.25 211.67 C265.62 213.40 276.39 219.13 283.33 220.00 C290.28 220.87 292.50 217.74 297.92 216.88 C303.33 216.01 309.72 215.31 315.83 214.79 C321.94 214.27 327.15 214.62 334.58 213.75 C342.01 212.88 350.90 210.45 360.42 209.58 C369.93 208.72 381.25 208.61 391.67 208.54 C402.08 208.47 417.71 209.06 422.92 209.17"/>
<path d="M315.83 211.67 C318.96 211.49 328.89 211.67 334.58 210.62 C340.28 209.58 343.96 206.46 350.00 205.42 C356.04 204.38 358.68 203.85 370.83 204.38 C382.99 204.90 414.24 207.85 422.92 208.54"/>
<path d="M315.83 214.79 C321.53 214.79 340.83 214.97 350.00 214.79 C359.17 214.62 358.68 214.55 370.83 213.75 C382.99 212.95 414.24 210.62 422.92 210.00"/>
<path d="M227.08 224.17 C233.68 224.51 251.88 225.56 266.67 226.25 C281.46 226.94 307.64 227.99 315.83 228.33"/>
<path d="M315.83 232.50 C321.53 232.50 340.83 232.85 350.00 232.50 C359.17 232.15 358.68 232.15 370.83 230.42 C382.99 228.68 414.24 223.47 422.92 222.08"/>
<path d="M227.08 224.58 C231.94 225.21 241.46 226.32 256.25 228.33 C271.04 230.35 305.90 235.28 315.83 236.67"/>
<path d="M315.83 236.67 C321.53 236.32 340.83 235.28 350.00 234.58 C359.17 233.89 363.89 233.72 370.83 232.50 C377.78 231.28 382.99 228.68 391.67 227.29 C400.35 225.90 417.71 224.69 422.92 224.17"/>
<path d="M315.83 216.88 C321.53 217.40 340.83 217.74 350.00 220.00 C359.17 222.26 364.58 228.16 370.83 230.42 C377.08 232.67 378.82 234.51 387.50 233.54 C396.18 232.57 417.01 226.08 422.92 224.58"/>
<path d="M235.42 224.38 C239.93 225.24 254.51 226.63 262.50 229.58 C270.49 232.53 276.39 236.88 283.33 242.08 C290.28 247.29 298.75 256.84 304.17 260.83 C309.58 264.83 310.76 265.17 315.83 266.04 C320.90 266.91 328.89 267.95 334.58 266.04 C340.28 264.13 344.65 259.27 350.00 254.58 C355.35 249.90 361.46 242.43 366.67 237.92 C371.88 233.40 373.61 229.86 381.25 227.50 C388.89 225.14 405.56 224.44 412.50 223.75 C419.44 223.06 421.18 223.40 422.92 223.33"/>
<path d="M245.83 226.46 C250.35 228.02 265.28 231.49 272.92 235.83 C280.56 240.17 285.76 247.64 291.67 252.50 C297.57 257.36 304.31 262.40 308.33 265.00 C312.36 267.60 311.46 267.60 315.83 268.12 C320.21 268.65 328.19 270.03 334.58 268.12 C340.97 266.22 348.12 260.66 354.17 256.67 C360.21 252.67 366.67 246.94 370.83 244.17 C375.00 241.39 375.69 240.00 379.17 240.00 C382.64 240.00 386.81 241.74 391.67 244.17 C396.53 246.60 403.13 251.98 408.33 254.58 C413.54 257.19 420.49 258.92 422.92 259.79"/>
<path d="M227.08 259.79 C230.21 258.92 239.24 257.36 245.83 254.58 C252.43 251.81 260.42 246.25 266.67 243.12 C272.92 240.00 277.08 237.40 283.33 235.83 C289.58 234.27 298.75 234.10 304.17 233.75 C309.58 233.40 313.89 233.75 315.83 233.75"/>
<path d="M227.08 275.42 C230.90 273.33 241.67 267.08 250.00 262.92 C258.33 258.75 269.79 251.46 277.08 250.42 C284.38 249.38 288.54 254.06 293.75 256.67 C298.96 259.27 304.65 263.89 308.33 266.04 C312.01 268.19 311.46 268.99 315.83 269.58 C320.21 270.17 327.50 271.74 334.58 269.58 C341.67 267.43 350.90 261.08 358.33 256.67 C365.76 252.26 371.88 243.47 379.17 243.12 C386.46 242.78 394.79 251.35 402.08 254.58 C409.38 257.81 419.44 261.18 422.92 262.50"/>
<path d="M227.08 277.50 C231.94 276.11 246.18 272.12 256.25 269.17 C266.32 266.22 277.57 260.76 287.50 259.79 C297.43 258.82 307.99 262.74 315.83 263.33 C323.68 263.92 327.15 262.71 334.58 263.33 C342.01 263.96 350.90 265.76 360.42 267.08 C369.93 268.40 381.25 269.69 391.67 271.25 C402.08 272.81 417.71 275.59 422.92 276.46"/>
<path d="M227.08 309.58 C233.68 307.50 251.88 300.21 266.67 297.08 C281.46 293.96 307.64 291.88 315.83 290.83"/>
<path d="M424.51 309.54 C417.86 307.10 399.53 298.06 384.62 294.94 C369.71 291.81 343.33 291.50 335.07 290.81"/>
<path d="M316.10 290.83 L334.80 290.83"/>
<path d="M227.08 322.08 C233.68 320.35 254.86 315.14 266.67 311.67 C278.47 308.19 289.72 304.44 297.92 301.25 C306.11 298.06 312.85 293.96 315.83 292.50"/>
<path d="M424.51 322.05 C417.86 320.04 396.52 313.64 384.62 310.00 C372.72 306.37 361.38 303.17 353.13 300.25 C344.87 297.33 338.08 293.78 335.07 292.48"/>
<path d="M316.10 292.50 L334.80 292.50"/>
<path d="M245.83 332.50 C251.04 330.07 266.67 322.08 277.08 317.92 C287.50 313.75 301.88 309.51 308.33 307.50 C314.79 305.49 314.58 306.11 315.83 305.83"/>
<path d="M405.62 330.39 C400.37 327.76 384.62 318.59 374.12 314.62 C363.62 310.66 349.14 308.07 342.63 306.60 C336.12 305.13 336.33 305.93 335.07 305.80"/>
<path d="M316.10 305.83 L334.80 305.83"/>
<path d="M227.08 282.50 C231.94 283.89 246.18 286.67 256.25 290.83 C266.32 295.00 277.57 303.33 287.50 307.50 C297.43 311.67 311.11 314.44 315.83 315.83"/>
<path d="M424.51 282.46 C419.61 283.54 405.27 285.11 395.12 288.99 C384.97 292.86 373.63 301.23 363.62 305.70 C353.62 310.17 339.83 314.13 335.07 315.81"/>
<path d="M316.10 315.83 L334.80 315.83"/>
<path d="M227.08 295.00 C233.68 296.74 254.86 301.25 266.67 305.42 C278.47 309.58 289.72 316.81 297.92 320.00 C306.11 323.19 312.85 323.82 315.83 324.58"/>
<path d="M424.51 294.93 C417.86 296.16 396.52 298.41 384.62 302.27 C372.72 306.13 361.38 314.39 353.13 318.10 C344.87 321.81 338.08 323.48 335.07 324.55"/>
<path d="M316.10 324.58 L334.80 324.58"/>
<path d="M245.83 270.00 C251.04 272.08 266.67 277.64 277.08 282.50 C287.50 287.36 301.88 296.04 308.33 299.17 C314.79 302.29 314.58 300.90 315.83 301.25"/>
<path d="M405.62 268.89 C400.37 270.87 384.62 275.79 374.12 280.76 C363.62 285.73 349.14 295.28 342.63 298.69 C336.12 302.10 336.33 300.81 335.07 301.23"/>
<path d="M316.10 301.25 L334.80 301.25"/>
<path d="M256.25 328.33 C261.46 325.56 278.82 316.18 287.50 311.67 C296.18 307.15 303.61 303.16 308.33 301.25 C313.06 299.34 314.58 300.38 315.83 300.21"/>
<path d="M395.12 328.33 C389.87 325.56 372.37 316.18 363.62 311.67 C354.88 307.15 347.39 303.16 342.63 301.25 C337.87 299.34 336.33 300.38 335.07 300.21"/>
<path d="M316.10 300.21 L334.80 300.21"/>
<path d="M227.08 338.75 C233.68 337.36 251.88 333.54 266.67 330.42 C281.46 327.29 307.64 321.74 315.83 320.00"/>
<path d="M424.51 338.77 C417.86 337.56 399.53 334.61 384.62 331.49 C369.71 328.36 343.33 321.92 335.07 320.01"/>
<path d="M316.10 320.00 L334.80 320.00"/>
<path d="M227.08 386.25 C233.68 385.90 251.88 384.69 266.67 384.17 C281.46 383.65 307.64 383.30 315.83 383.12"/>
<path d="M424.51 386.23 C417.86 385.71 399.53 383.62 384.62 383.10 C369.71 382.58 343.33 383.11 335.07 383.11"/>
<path d="M316.10 383.12 L334.80 383.12"/>
<path d="M227.08 384.17 C237.15 385.21 272.71 389.03 287.50 390.42 C302.29 391.81 311.11 392.15 315.83 392.50"/>
<path d="M424.51 384.15 C414.36 385.04 378.53 388.15 363.62 389.54 C348.72 390.93 339.83 392.00 335.07 392.49"/>
<path d="M316.10 392.50 L334.80 392.50"/>
<path d="M227.08 407.08 C230.21 405.87 239.24 401.18 245.83 399.79 C252.43 398.40 259.72 398.23 266.67 398.75 C273.61 399.27 279.31 401.18 287.50 402.92 C295.69 404.65 311.11 408.12 315.83 409.17"/>
<path d="M424.51 407.04 C421.36 405.59 412.26 400.10 405.62 398.33 C398.97 396.57 391.62 396.02 384.62 396.46 C377.62 396.89 371.88 398.84 363.62 400.96 C355.36 403.07 339.83 407.78 335.07 409.14"/>
<path d="M316.10 409.17 L334.80 409.17"/>
<path d="M227.08 411.25 C233.68 410.21 251.88 407.43 266.67 405.00 C281.46 402.57 307.64 398.06 315.83 396.67"/>
<path d="M424.51 411.21 C417.86 409.87 399.53 405.59 384.62 403.16 C369.71 400.73 343.33 397.73 335.07 396.65"/>
<path d="M316.10 396.67 L334.80 396.67"/>
<path d="M227.08 415.42 C237.15 415.07 272.71 414.03 287.50 413.33 C302.29 412.64 311.11 411.60 315.83 411.25"/>
<path d="M424.51 415.49 C414.36 415.62 378.53 416.98 363.62 416.28 C348.72 415.58 339.83 412.12 335.07 411.28"/>
<path d="M316.10 411.25 L334.80 411.25"/>
<path d="M227.08 419.58 C237.15 419.24 272.71 417.50 287.50 417.50 C302.29 417.50 311.11 419.24 315.83 419.58"/>
<path d="M424.51 419.61 C414.36 419.42 378.53 418.50 363.62 418.50 C348.72 418.50 339.83 419.41 335.07 419.59"/>
<path d="M316.10 419.58 L334.80 419.58"/>
<path d="M227.08 430.00 C233.68 430.35 256.60 432.43 266.67 432.08 C276.74 431.74 279.31 429.31 287.50 427.92 C295.69 426.53 311.11 424.44 315.83 423.75"/>
<path d="M424.51 430.02 C417.86 430.51 394.77 433.17 384.62 432.94 C374.47 432.72 371.88 430.18 363.62 428.65 C355.36 427.12 339.83 424.57 335.07 423.76"/>
<path d="M316.10 423.75 L334.80 423.75"/>
<path d="M227.08 442.50 C231.94 442.15 241.46 442.15 256.25 440.42 C271.04 438.68 305.90 433.47 315.83 432.08"/>
<path d="M424.51 442.45 C419.61 441.73 410.02 439.87 395.12 438.14 C380.21 436.41 345.08 433.07 335.07 432.06"/>
<path d="M316.10 432.08 L334.80 432.08"/>
<path d="M227.08 446.67 C233.68 447.01 251.88 448.40 266.67 448.75 C281.46 449.10 307.64 448.75 315.83 448.75"/>
<path d="M424.51 446.70 C417.86 447.35 399.53 450.22 384.62 450.56 C369.71 450.90 343.33 449.07 335.07 448.77"/>
<path d="M316.10 448.75 L334.80 448.75"/>
<path d="M235.42 380.00 C240.62 382.78 256.25 391.11 266.67 396.67 C277.08 402.22 289.72 409.51 297.92 413.33 C306.11 417.15 312.85 418.54 315.83 419.58"/>
<path d="M416.11 379.17 C410.86 381.64 395.12 388.58 384.62 394.01 C374.12 399.44 361.38 407.47 353.13 411.73 C344.87 415.99 338.08 418.25 335.07 419.56"/>
<path d="M316.10 419.58 L334.80 419.58"/>
<path d="M227.08 396.67 C231.94 399.10 246.18 405.35 256.25 411.25 C266.32 417.15 277.57 426.88 287.50 432.08 C297.43 437.29 311.11 440.76 315.83 442.50"/>
<path d="M424.51 396.65 C419.61 398.94 405.27 404.65 395.12 410.42 C384.97 416.19 373.63 425.92 363.62 431.27 C353.62 436.62 339.83 440.62 335.07 442.49"/>
<path d="M316.10 442.50 L334.80 442.50"/>
<path d="M245.83 450.83 C251.04 448.06 266.67 439.72 277.08 434.17 C287.50 428.61 301.88 420.62 308.33 417.50 C314.79 414.38 314.58 415.76 315.83 415.42"/>
<path d="M405.62 453.29 C400.37 450.74 384.62 443.79 374.12 438.00 C363.62 432.21 349.14 422.31 342.63 418.55 C336.12 414.80 336.33 415.97 335.07 415.45"/>
<path d="M316.10 415.42 L334.80 415.42"/>
<path d="M227.08 438.33 C233.68 435.56 251.88 427.22 266.67 421.67 C281.46 416.11 307.64 407.78 315.83 405.00"/>
<path d="M424.51 438.36 C417.86 435.76 399.53 428.33 384.62 422.77 C369.71 417.21 343.33 407.97 335.07 405.01"/>
<path d="M316.10 405.00 L334.80 405.00"/>
<path d="M227.08 464.58 C231.94 464.93 246.18 467.01 256.25 466.67 C266.32 466.32 277.57 462.85 287.50 462.50 C297.43 462.15 311.11 464.24 315.83 464.58"/>
<path d="M424.51 464.59 C419.61 465.00 405.27 467.35 395.12 467.06 C384.97 466.78 373.63 463.30 363.62 462.88 C353.62 462.47 339.83 464.30 335.07 464.59"/>
<path d="M316.10 464.58 L334.80 464.58"/>
<path d="M245.83 460.42 C251.04 462.15 266.67 469.44 277.08 470.83 C287.50 472.22 301.88 469.62 308.33 468.75 C314.79 467.88 314.58 466.15 315.83 465.62"/>
<path d="M405.62 461.34 C400.37 463.17 384.62 470.98 374.12 472.28 C363.62 473.58 349.14 470.25 342.63 469.15 C336.12 468.04 336.33 466.22 335.07 465.64"/>
<path d="M316.10 465.62 L334.80 465.62"/>
<path d="M256.25 462.50 C261.46 464.24 277.57 471.53 287.50 472.92 C297.43 474.31 311.11 471.18 315.83 470.83"/>
<path d="M395.12 462.50 C389.87 464.24 373.63 471.53 363.62 472.92 C353.62 474.31 339.83 471.18 335.07 470.83"/>
<path d="M316.10 470.83 L334.80 470.83"/>
<path d="M227.08 491.67 C231.94 489.93 246.18 483.33 256.25 481.25 C266.32 479.17 277.57 479.86 287.50 479.17 C297.43 478.47 311.11 477.43 315.83 477.08"/>
<path d="M424.51 491.72 C419.61 490.37 405.27 485.33 395.12 483.62 C384.97 481.91 373.63 482.56 363.62 481.48 C353.62 480.39 339.83 477.84 335.07 477.11"/>
<path d="M316.10 477.08 L334.80 477.08"/>
<path d="M227.08 497.92 C231.94 497.57 241.46 495.49 256.25 495.83 C271.04 496.18 305.90 499.31 315.83 500.00"/>
<path d="M424.51 497.96 C419.61 497.93 410.02 497.40 395.12 497.74 C380.21 498.08 345.08 499.64 335.07 500.02"/>
<path d="M316.10 500.00 L334.80 500.00"/>
<path d="M227.08 502.08 C233.68 502.78 251.88 505.03 266.67 506.25 C281.46 507.47 307.64 508.85 315.83 509.38"/>
<path d="M424.51 502.04 C417.86 502.38 399.53 502.89 384.62 504.11 C369.71 505.33 343.33 508.48 335.07 509.35"/>
<path d="M316.10 509.38 L334.80 509.38"/>
<path d="M256.25 470.83 C261.46 475.00 277.57 489.58 287.50 495.83 C297.43 502.08 311.11 506.25 315.83 508.33"/>
<path d="M395.12 470.83 C389.87 475.00 373.63 489.58 363.62 495.83 C353.62 502.08 339.83 506.25 335.07 508.33"/>
<path d="M316.10 508.33 L334.80 508.33"/>
<path d="M316.10 458.33 L334.80 458.33"/>
<path d="M227.08 454.17 C233.68 454.51 251.88 456.08 266.67 456.25 C281.46 456.42 307.64 455.38 315.83 455.21"/>
<path d="M424.51 454.09 C417.86 453.83 399.53 452.38 384.62 452.56 C369.71 452.74 343.33 454.74 335.07 455.17"/>
<path d="M316.10 455.21 L334.80 455.21"/>
<path d="M227.08 458.33 C233.68 457.29 251.88 453.30 266.67 452.08 C281.46 450.87 307.64 451.22 315.83 451.04"/>
<path d="M424.51 458.30 C417.86 457.02 399.53 451.84 384.62 450.63 C369.71 449.41 343.33 450.96 335.07 451.03"/>
<path d="M316.10 451.04 L334.80 451.04"/>
<path d="M226.56 492.50 C230.94 491.05 242.97 486.12 252.82 483.75 C262.66 481.38 275.06 479.20 285.63 478.28 C296.21 477.37 311.15 478.28 316.26 478.28"/>
<path d="M425.04 492.50 C420.63 490.80 408.50 484.91 398.58 482.27 C388.66 479.63 376.16 477.32 365.51 476.66 C354.85 475.99 339.78 478.01 334.64 478.28"/>
<path d="M316.10 478.28 L334.80 478.28"/>
<path d="M226.56 499.07 C230.21 496.15 242.24 486.67 248.44 481.57 C254.64 476.46 257.56 472.82 263.75 468.44 C269.95 464.06 279.07 458.60 285.63 455.31 C292.19 452.03 300.22 449.84 303.13 448.75"/>
<path d="M425.04 499.06 C421.36 495.88 409.24 485.43 402.99 479.96 C396.74 474.48 393.80 470.65 387.55 466.21 C381.31 461.76 372.12 456.37 365.51 453.29 C358.89 450.21 350.81 448.66 347.87 447.74"/>
<path d="M241.88 494.69 C247.35 490.68 264.48 475.19 274.69 470.63 C284.90 466.07 296.21 467.71 303.13 467.35 C310.06 466.98 314.07 468.26 316.26 468.44"/>
<path d="M409.60 496.51 C404.09 492.78 386.82 478.75 376.53 474.15 C366.24 469.54 354.85 469.85 347.87 468.90 C340.89 467.95 336.84 468.52 334.64 468.44"/>
<path d="M316.10 468.44 L334.80 468.44"/>
<path d="M226.56 468.44 C230.94 468.80 242.97 468.44 252.82 470.63 C262.66 472.82 275.06 478.83 285.63 481.57 C296.21 484.30 311.15 486.12 316.26 487.04"/>
<path d="M425.04 468.45 C420.63 469.21 408.50 470.40 398.58 473.03 C388.66 475.65 376.16 481.87 365.51 484.21 C354.85 486.54 339.78 486.56 334.64 487.04"/>
<path d="M316.10 487.04 L334.80 487.04"/>
<path d="M227.00 276.00 C230.00 274.50 239.50 270.83 245.00 267.00 C250.50 263.17 255.00 257.17 260.00 253.00 C265.00 248.83 270.83 244.83 275.00 242.00 C279.17 239.17 280.83 237.50 285.00 236.00 C289.17 234.50 294.83 233.67 300.00 233.00 C305.17 232.33 313.33 232.17 316.00 232.00"/>
<path d="M424.60 275.97 C421.57 274.33 412.00 270.16 406.46 266.10 C400.91 262.05 396.38 255.89 391.34 251.63 C386.30 247.37 380.42 243.35 376.22 240.53 C372.02 237.71 370.34 236.07 366.14 234.69 C361.94 233.30 356.25 232.65 351.03 232.21 C345.80 231.76 337.50 232.03 334.80 232.00"/>
<path d="M316.10 232.00 L334.80 232.00"/>
<path d="M250.00 280.00 C254.17 277.50 268.33 268.42 275.00 265.00 C281.67 261.58 285.83 260.33 290.00 259.50 C294.17 258.67 295.67 259.42 300.00 260.00 C304.33 260.58 313.33 262.50 316.00 263.00"/>
<path d="M401.42 280.91 C397.22 278.47 382.94 269.64 376.22 266.23 C369.50 262.83 365.30 261.41 361.10 260.49 C356.90 259.56 355.41 260.25 351.03 260.67 C346.64 261.08 337.50 262.61 334.80 263.00"/>
<path d="M316.10 263.00 L334.80 263.00"/>
<path d="M227.00 280.00 C230.83 277.33 242.83 268.50 250.00 264.00 C257.17 259.50 264.17 255.33 270.00 253.00 C275.83 250.67 280.83 250.00 285.00 250.00 C289.17 250.00 289.83 250.17 295.00 253.00 C300.17 255.83 312.50 264.67 316.00 267.00"/>
<path d="M424.60 279.99 C420.73 277.22 408.64 268.02 401.42 263.39 C394.19 258.75 387.14 254.52 381.26 252.17 C375.38 249.81 370.34 249.21 366.14 249.26 C361.94 249.30 361.29 249.48 356.06 252.44 C350.84 255.39 338.34 264.57 334.80 267.00"/>
<path d="M316.10 267.00 L334.80 267.00"/>
<path d="M312.50 207.50 C316.67 207.29 330.00 207.92 337.50 206.25 C345.00 204.58 347.50 199.38 357.50 197.50 C367.50 195.62 386.46 195.62 397.50 195.00 C408.54 194.38 419.38 193.96 423.75 193.75"/>
<path d="M315.00 232.50 C319.38 232.29 332.71 231.88 341.25 231.25 C349.79 230.62 358.96 230.62 366.25 228.75 C373.54 226.88 378.75 222.71 385.00 220.00 C391.25 217.29 397.29 214.33 403.75 212.50 C410.21 210.67 420.42 209.58 423.75 209.00"/>
<path d="M226.50 193.75 C230.42 193.96 241.92 194.90 250.00 195.00 C258.08 195.10 266.67 194.90 275.00 194.38 C283.33 193.85 293.15 192.08 300.00 191.88 C306.85 191.67 313.44 192.92 316.12 193.12"/>
</g></g>
<g clip-path="url(#c2)">
<line x1="441.30" y1="546.25" x2="460.70" y2="546.25" stroke="#0000ff" stroke-width="1.4" stroke-dasharray="1.4 1.35"/>
<g fill="none" stroke="#ff0000" stroke-width="2.70" stroke-linecap="round" stroke-linejoin="round">
<path d="M441.30 192.50 L460.70 192.50"/>
<path d="M441.30 195.00 L460.70 195.00"/>
<path d="M441.30 207.50 L460.70 207.50"/>
<path d="M441.30 210.00 L460.70 210.00"/>
<path d="M441.30 222.50 L460.70 222.50"/>
<path d="M441.30 225.00 L460.70 225.00"/>
<path d="M441.30 261.25 L460.70 261.25"/>
<path d="M441.30 276.00 L460.70 276.00"/>
<path d="M441.30 278.50 L460.70 278.50"/>
<path d="M441.30 281.00 L460.70 281.00"/>
<path d="M441.30 284.40 L460.70 284.40"/>
<path d="M441.30 291.00 L460.70 291.00"/>
<path d="M441.30 298.00 L460.70 298.00"/>
<path d="M441.30 305.00 L460.70 305.00"/>
<path d="M441.30 309.00 L460.70 309.00"/>
<path d="M441.30 311.50 L460.70 311.50"/>
<path d="M441.30 314.00 L460.70 314.00"/>
<path d="M441.30 318.00 L460.70 318.00"/>
<path d="M441.30 321.00 L460.70 321.00"/>
<path d="M441.30 327.00 L460.70 327.00"/>
<path d="M441.30 328.75 L460.70 335.00"/>
<path d="M441.30 335.00 L460.70 330.00"/>
<path d="M441.30 337.50 L460.70 341.00"/>
<path d="M441.30 341.00 L460.70 341.00"/>
<path d="M441.30 343.00 L460.70 343.00"/>
<path d="M441.30 344.40 L460.70 346.25"/>
<path d="M441.30 370.00 L460.70 366.25"/>
<path d="M441.30 371.25 L460.70 368.75"/>
<path d="M441.30 372.50 L460.70 383.75"/>
<path d="M441.30 381.25 L460.70 377.50"/>
<path d="M441.30 392.50 L460.70 385.00"/>
<path d="M441.30 395.00 L460.70 387.50"/>
<path d="M441.30 405.00 L460.70 415.00"/>
<path d="M441.30 415.00 L460.70 407.50"/>
<path d="M441.30 420.00 L460.70 423.75"/>
<path d="M441.30 427.50 L460.70 427.50"/>
<path d="M441.30 429.00 L460.70 429.00"/>
<path d="M441.30 426.00 L460.70 426.00"/>
<path d="M441.30 428.00 L460.70 432.00"/>
<path d="M441.30 432.00 L460.70 429.00"/>
<path d="M441.30 434.00 L460.70 436.00"/>
<path d="M441.30 437.00 L460.70 434.00"/>
<path d="M441.30 439.00 L460.70 441.00"/>
<path d="M441.30 442.00 L460.70 440.00"/>
<path d="M441.30 445.00 L460.70 447.00"/>
<path d="M441.30 447.00 L460.70 445.00"/>
<path d="M441.30 454.00 L460.70 454.00"/>
<path d="M441.30 459.00 L460.70 459.00"/>
<path d="M441.30 461.00 L460.70 461.00"/>
<path d="M441.30 475.00 L460.70 455.00"/>
<path d="M441.30 477.50 C442.42 478.54 444.77 481.50 448.00 483.75 C451.23 486.00 458.58 489.79 460.70 491.00"/>
<path d="M441.30 496.00 L460.70 498.00"/>
<path d="M441.30 500.00 L460.70 496.00"/>
<path d="M441.30 503.00 L460.70 505.00"/>
<path d="M441.30 507.00 L460.70 509.00"/>
<path d="M441.30 509.00 L460.70 507.00"/>
</g></g>
<g clip-path="url(#c3)">
<line x1="477.30" y1="546.25" x2="713.30" y2="546.25" stroke="#0000ff" stroke-width="1.4" stroke-dasharray="1.4 1.35"/>
<g fill="none" stroke="#ff0000" stroke-width="2.70" stroke-linecap="round" stroke-linejoin="round">
<path d="M477.30 187.50 C481.08 187.42 492.88 187.08 500.00 187.00 C507.12 186.92 513.23 186.83 520.00 187.00 C526.77 187.17 533.98 187.33 540.60 188.00 C547.23 188.67 551.52 190.83 559.75 191.00 C567.98 191.17 579.44 189.33 590.00 189.00 C600.56 188.67 613.10 189.33 623.10 189.00 C633.10 188.67 640.52 187.17 650.00 187.00 C659.48 186.83 669.45 186.88 680.00 188.00 C690.55 189.12 707.75 192.79 713.30 193.75"/>
<path d="M477.30 193.00 C481.08 193.00 492.88 193.00 500.00 193.00 C507.12 193.00 513.23 193.08 520.00 193.00 C526.77 192.92 533.98 193.00 540.60 192.50 C547.23 192.00 551.52 190.42 559.75 190.00 C567.98 189.58 579.44 189.92 590.00 190.00 C600.56 190.08 613.10 190.33 623.10 190.50 C633.10 190.67 640.52 190.25 650.00 191.00 C659.48 191.75 669.45 194.50 680.00 195.00 C690.55 195.50 707.75 194.17 713.30 194.00"/>
<path d="M477.30 194.40 C481.08 194.50 492.88 194.73 500.00 195.00 C507.12 195.27 513.23 195.42 520.00 196.00 C526.77 196.58 533.98 198.83 540.60 198.50 C547.23 198.17 551.52 193.75 559.75 194.00 C567.98 194.25 579.44 198.17 590.00 200.00 C600.56 201.83 613.10 204.50 623.10 205.00 C633.10 205.50 640.52 204.00 650.00 203.00 C659.48 202.00 669.45 200.43 680.00 199.00 C690.55 197.57 707.75 195.17 713.30 194.40"/>
<path d="M477.30 195.50 C481.08 195.58 492.88 195.75 500.00 196.00 C507.12 196.25 513.23 196.83 520.00 197.00 C526.77 197.17 533.98 197.17 540.60 197.00 C547.23 196.83 551.52 196.00 559.75 196.00 C567.98 196.00 579.44 196.83 590.00 197.00 C600.56 197.17 613.10 196.83 623.10 197.00 C633.10 197.17 640.52 197.50 650.00 198.00 C659.48 198.50 669.45 200.50 680.00 200.00 C690.55 199.50 707.75 195.83 713.30 195.00"/>
<path d="M477.30 208.75 C481.08 208.79 492.88 208.88 500.00 209.00 C507.12 209.12 513.23 209.42 520.00 209.50 C526.77 209.58 533.98 209.25 540.60 209.50 C547.23 209.75 551.52 211.33 559.75 211.00 C567.98 210.67 579.44 207.50 590.00 207.50 C600.56 207.50 613.10 209.96 623.10 211.00 C633.10 212.04 640.52 214.08 650.00 213.75 C659.48 213.42 669.45 209.83 680.00 209.00 C690.55 208.17 707.75 208.79 713.30 208.75"/>
<path d="M477.30 216.00 C481.08 216.33 492.88 217.50 500.00 218.00 C507.12 218.50 513.23 219.50 520.00 219.00 C526.77 218.50 533.98 215.83 540.60 215.00 C547.23 214.17 551.52 214.42 559.75 214.00 C567.98 213.58 579.44 213.17 590.00 212.50 C600.56 211.83 613.10 210.83 623.10 210.00 C633.10 209.17 640.52 208.17 650.00 207.50 C659.48 206.83 669.45 205.79 680.00 206.00 C690.55 206.21 707.75 208.29 713.30 208.75"/>
<path d="M477.30 217.50 C481.08 217.75 492.88 218.58 500.00 219.00 C507.12 219.42 513.23 219.83 520.00 220.00 C526.77 220.17 533.98 220.42 540.60 220.00 C547.23 219.58 551.52 217.33 559.75 217.50 C567.98 217.67 579.44 221.25 590.00 221.00 C600.56 220.75 613.10 217.00 623.10 216.00 C633.10 215.00 640.52 215.58 650.00 215.00 C659.48 214.42 669.45 213.42 680.00 212.50 C690.55 211.58 707.75 210.00 713.30 209.50"/>
<path d="M477.30 228.75 C481.08 228.79 492.88 228.88 500.00 229.00 C507.12 229.12 513.23 229.33 520.00 229.50 C526.77 229.67 533.98 229.75 540.60 230.00 C547.23 230.25 551.52 231.83 559.75 231.00 C567.98 230.17 579.44 226.42 590.00 225.00 C600.56 223.58 613.10 222.92 623.10 222.50 C633.10 222.08 640.52 222.42 650.00 222.50 C659.48 222.58 669.45 222.79 680.00 223.00 C690.55 223.21 707.75 223.62 713.30 223.75"/>
<path d="M477.30 236.00 C481.08 236.08 492.88 236.33 500.00 236.50 C507.12 236.67 513.23 236.83 520.00 237.00 C526.77 237.17 533.98 238.25 540.60 237.50 C547.23 236.75 551.52 233.75 559.75 232.50 C567.98 231.25 579.44 230.83 590.00 230.00 C600.56 229.17 613.10 228.33 623.10 227.50 C633.10 226.67 640.52 225.58 650.00 225.00 C659.48 224.42 669.45 224.21 680.00 224.00 C690.55 223.79 707.75 223.79 713.30 223.75"/>
<path d="M477.30 237.50 C481.08 237.50 492.88 237.58 500.00 237.50 C507.12 237.42 513.23 237.25 520.00 237.00 C526.77 236.75 533.98 236.54 540.60 236.00 C547.23 235.46 551.52 234.12 559.75 233.75 C567.98 233.38 579.44 233.38 590.00 233.75 C600.56 234.12 613.10 235.29 623.10 236.00 C633.10 236.71 640.52 238.33 650.00 238.00 C659.48 237.67 669.45 236.27 680.00 234.00 C690.55 231.73 707.75 226.00 713.30 224.40"/>
<path d="M477.30 240.00 C481.08 238.83 492.88 234.67 500.00 233.00 C507.12 231.33 513.23 229.50 520.00 230.00 C526.77 230.50 533.98 234.00 540.60 236.00 C547.23 238.00 551.52 239.67 559.75 242.00 C567.98 244.33 579.44 247.83 590.00 250.00 C600.56 252.17 613.10 255.00 623.10 255.00 C633.10 255.00 640.52 252.50 650.00 250.00 C659.48 247.50 669.45 243.00 680.00 240.00 C690.55 237.00 707.75 233.33 713.30 232.00"/>
<path d="M477.30 267.50 C481.08 265.00 492.88 256.25 500.00 252.50 C507.12 248.75 513.23 246.46 520.00 245.00 C526.77 243.54 533.98 244.17 540.60 243.75 C547.23 243.33 551.52 242.50 559.75 242.50 C567.98 242.50 579.44 240.42 590.00 243.75 C600.56 247.08 613.10 262.12 623.10 262.50 C633.10 262.88 640.52 248.08 650.00 246.00 C659.48 243.92 669.45 244.75 680.00 250.00 C690.55 255.25 707.75 272.92 713.30 277.50"/>
<path d="M477.30 271.00 C481.08 268.75 492.88 261.00 500.00 257.50 C507.12 254.00 513.23 251.46 520.00 250.00 C526.77 248.54 533.98 249.17 540.60 248.75 C547.23 248.33 551.52 247.29 559.75 247.50 C567.98 247.71 579.44 247.25 590.00 250.00 C600.56 252.75 613.10 264.17 623.10 264.00 C633.10 263.83 640.52 250.50 650.00 249.00 C659.48 247.50 669.45 249.83 680.00 255.00 C690.55 260.17 707.75 275.83 713.30 280.00"/>
<path d="M477.30 262.50 C481.08 260.42 492.88 251.42 500.00 250.00 C507.12 248.58 513.23 252.33 520.00 254.00 C526.77 255.67 533.98 259.83 540.60 260.00 C547.23 260.17 551.52 255.83 559.75 255.00 C567.98 254.17 579.44 253.17 590.00 255.00 C600.56 256.83 613.10 265.83 623.10 266.00 C633.10 266.17 640.52 256.67 650.00 256.00 C659.48 255.33 669.45 258.83 680.00 262.00 C690.55 265.17 707.75 272.83 713.30 275.00"/>
<path d="M477.30 275.00 C481.08 272.50 492.88 263.17 500.00 260.00 C507.12 256.83 513.23 256.00 520.00 256.00 C526.77 256.00 533.98 258.92 540.60 260.00 C547.23 261.08 551.52 262.08 559.75 262.50 C567.98 262.92 579.44 261.46 590.00 262.50 C600.56 263.54 613.10 270.00 623.10 268.75 C633.10 267.50 640.52 255.12 650.00 255.00 C659.48 254.88 669.45 265.50 680.00 268.00 C690.55 270.50 707.75 269.67 713.30 270.00"/>
<path d="M477.30 276.00 C481.08 274.67 492.88 269.50 500.00 268.00 C507.12 266.50 513.23 267.50 520.00 267.00 C526.77 266.50 533.98 265.33 540.60 265.00 C547.23 264.67 551.52 265.00 559.75 265.00 C567.98 265.00 579.44 264.58 590.00 265.00 C600.56 265.42 613.10 268.17 623.10 267.50 C633.10 266.83 640.52 262.08 650.00 261.00 C659.48 259.92 669.45 261.00 680.00 261.00 C690.55 261.00 707.75 261.00 713.30 261.00"/>
<path d="M477.30 280.00 C481.08 279.50 492.88 277.67 500.00 277.00 C507.12 276.33 513.23 276.50 520.00 276.00 C526.77 275.50 533.98 274.38 540.60 274.00 C547.23 273.62 551.52 273.58 559.75 273.75 C567.98 273.92 579.44 275.62 590.00 275.00 C600.56 274.38 613.10 270.00 623.10 270.00 C633.10 270.00 640.52 273.33 650.00 275.00 C659.48 276.67 669.45 278.75 680.00 280.00 C690.55 281.25 707.75 282.08 713.30 282.50"/>
<path d="M477.30 282.50 C481.08 282.08 492.88 280.58 500.00 280.00 C507.12 279.42 513.23 279.33 520.00 279.00 C526.77 278.67 533.98 277.83 540.60 278.00 C547.23 278.17 551.52 279.67 559.75 280.00 C567.98 280.33 579.44 280.83 590.00 280.00 C600.56 279.17 613.10 275.42 623.10 275.00 C633.10 274.58 640.52 277.08 650.00 277.50 C659.48 277.92 669.45 277.50 680.00 277.50 C690.55 277.50 707.75 277.50 713.30 277.50"/>
<path d="M477.30 290.00 C481.08 288.67 492.88 284.33 500.00 282.00 C507.12 279.67 513.23 278.00 520.00 276.00 C526.77 274.00 533.98 271.67 540.60 270.00 C547.23 268.33 551.52 267.33 559.75 266.00 C567.98 264.67 579.44 262.58 590.00 262.00 C600.56 261.42 613.10 261.17 623.10 262.50 C633.10 263.83 640.52 267.75 650.00 270.00 C659.48 272.25 669.45 274.83 680.00 276.00 C690.55 277.17 707.75 276.83 713.30 277.00"/>
<path d="M477.30 285.00 C481.08 283.33 492.88 277.83 500.00 275.00 C507.12 272.17 513.23 270.17 520.00 268.00 C526.77 265.83 533.98 263.67 540.60 262.00 C547.23 260.33 551.52 258.00 559.75 258.00 C567.98 258.00 579.44 260.33 590.00 262.00 C600.56 263.67 613.10 264.50 623.10 268.00 C633.10 271.50 640.52 279.00 650.00 283.00 C659.48 287.00 669.45 289.83 680.00 292.00 C690.55 294.17 707.75 295.33 713.30 296.00"/>
<path d="M477.30 280.00 C481.08 280.83 492.88 282.92 500.00 285.00 C507.12 287.08 513.23 290.00 520.00 292.50 C526.77 295.00 533.98 298.33 540.60 300.00 C547.23 301.67 551.52 302.50 559.75 302.50 C567.98 302.50 579.44 303.33 590.00 300.00 C600.56 296.67 613.10 282.92 623.10 282.50 C633.10 282.08 640.52 293.75 650.00 297.50 C659.48 301.25 669.45 302.92 680.00 305.00 C690.55 307.08 707.75 309.17 713.30 310.00"/>
<path d="M477.30 282.50 C481.08 284.17 492.88 290.00 500.00 292.50 C507.12 295.00 513.23 295.42 520.00 297.50 C526.77 299.58 533.98 303.54 540.60 305.00 C547.23 306.46 551.52 306.67 559.75 306.25 C567.98 305.83 579.44 306.04 590.00 302.50 C600.56 298.96 613.10 285.00 623.10 285.00 C633.10 285.00 640.52 298.33 650.00 302.50 C659.48 306.67 669.45 308.33 680.00 310.00 C690.55 311.67 707.75 312.08 713.30 312.50"/>
<path d="M477.30 287.50 C481.08 288.75 492.88 292.92 500.00 295.00 C507.12 297.08 513.23 298.12 520.00 300.00 C526.77 301.88 533.98 305.00 540.60 306.25 C547.23 307.50 551.52 307.71 559.75 307.50 C567.98 307.29 579.44 307.92 590.00 305.00 C600.56 302.08 613.10 289.17 623.10 290.00 C633.10 290.83 640.52 305.83 650.00 310.00 C659.48 314.17 669.45 314.17 680.00 315.00 C690.55 315.83 707.75 315.00 713.30 315.00"/>
<path d="M477.30 292.50 C481.08 293.75 492.88 297.92 500.00 300.00 C507.12 302.08 513.23 303.75 520.00 305.00 C526.77 306.25 533.98 306.88 540.60 307.50 C547.23 308.12 551.52 308.75 559.75 308.75 C567.98 308.75 579.44 309.79 590.00 307.50 C600.56 305.21 613.10 293.75 623.10 295.00 C633.10 296.25 640.52 310.83 650.00 315.00 C659.48 319.17 669.45 318.75 680.00 320.00 C690.55 321.25 707.75 322.08 713.30 322.50"/>
<path d="M477.30 305.00 C481.08 305.42 492.88 306.25 500.00 307.50 C507.12 308.75 513.23 311.25 520.00 312.50 C526.77 313.75 533.98 314.58 540.60 315.00 C547.23 315.42 551.52 315.42 559.75 315.00 C567.98 314.58 579.44 315.42 590.00 312.50 C600.56 309.58 613.10 296.25 623.10 297.50 C633.10 298.75 640.52 315.83 650.00 320.00 C659.48 324.17 669.45 322.50 680.00 322.50 C690.55 322.50 707.75 320.42 713.30 320.00"/>
<path d="M477.30 313.75 C481.08 313.75 492.88 313.75 500.00 313.75 C507.12 313.75 513.23 313.75 520.00 313.75 C526.77 313.75 533.98 313.96 540.60 313.75 C547.23 313.54 551.52 312.71 559.75 312.50 C567.98 312.29 579.44 312.50 590.00 312.50 C600.56 312.50 613.10 312.29 623.10 312.50 C633.10 312.71 640.52 313.33 650.00 313.75 C659.48 314.17 669.45 314.79 680.00 315.00 C690.55 315.21 707.75 315.00 713.30 315.00"/>
<path d="M477.30 317.50 C481.08 317.71 492.88 318.33 500.00 318.75 C507.12 319.17 513.23 319.38 520.00 320.00 C526.77 320.62 533.98 321.67 540.60 322.50 C547.23 323.33 551.52 325.00 559.75 325.00 C567.98 325.00 579.44 323.75 590.00 322.50 C600.56 321.25 613.10 317.08 623.10 317.50 C633.10 317.92 640.52 323.75 650.00 325.00 C659.48 326.25 669.45 325.00 680.00 325.00 C690.55 325.00 707.75 325.00 713.30 325.00"/>
<path d="M477.30 322.50 C481.08 322.92 492.88 324.17 500.00 325.00 C507.12 325.83 513.23 326.88 520.00 327.50 C526.77 328.12 533.98 328.54 540.60 328.75 C547.23 328.96 551.52 328.96 559.75 328.75 C567.98 328.54 579.44 328.54 590.00 327.50 C600.56 326.46 613.10 322.08 623.10 322.50 C633.10 322.92 640.52 328.33 650.00 330.00 C659.48 331.67 669.45 332.08 680.00 332.50 C690.55 332.92 707.75 332.50 713.30 332.50"/>
<path d="M477.30 335.00 C481.08 334.79 492.88 334.17 500.00 333.75 C507.12 333.33 513.23 332.92 520.00 332.50 C526.77 332.08 533.98 331.67 540.60 331.25 C547.23 330.83 551.52 329.79 559.75 330.00 C567.98 330.21 579.44 332.08 590.00 332.50 C600.56 332.92 613.10 332.08 623.10 332.50 C633.10 332.92 640.52 334.17 650.00 335.00 C659.48 335.83 669.45 336.67 680.00 337.50 C690.55 338.33 707.75 339.58 713.30 340.00"/>
<path d="M477.30 337.50 C481.08 337.71 492.88 338.33 500.00 338.75 C507.12 339.17 513.23 339.79 520.00 340.00 C526.77 340.21 533.98 340.00 540.60 340.00 C547.23 340.00 551.52 339.58 559.75 340.00 C567.98 340.42 579.44 341.67 590.00 342.50 C600.56 343.33 613.10 345.00 623.10 345.00 C633.10 345.00 640.52 342.50 650.00 342.50 C659.48 342.50 669.45 345.00 680.00 345.00 C690.55 345.00 707.75 342.92 713.30 342.50"/>
<path d="M477.30 302.50 C481.08 301.25 492.88 297.50 500.00 295.00 C507.12 292.50 513.23 289.08 520.00 287.50 C526.77 285.92 533.98 285.92 540.60 285.50 C547.23 285.08 551.52 284.67 559.75 285.00 C567.98 285.33 579.44 286.25 590.00 287.50 C600.56 288.75 613.10 292.08 623.10 292.50 C633.10 292.92 640.52 290.83 650.00 290.00 C659.48 289.17 669.45 287.92 680.00 287.50 C690.55 287.08 707.75 287.50 713.30 287.50"/>
<path d="M477.30 287.50 C481.08 287.08 492.88 285.62 500.00 285.00 C507.12 284.38 513.23 284.17 520.00 283.75 C526.77 283.33 533.98 282.62 540.60 282.50 C547.23 282.38 551.52 283.21 559.75 283.00 C567.98 282.79 579.44 282.58 590.00 281.25 C600.56 279.92 613.10 273.54 623.10 275.00 C633.10 276.46 640.52 285.00 650.00 290.00 C659.48 295.00 669.45 301.25 680.00 305.00 C690.55 308.75 707.75 311.25 713.30 312.50"/>
<path d="M477.30 295.00 C481.08 295.21 492.88 295.83 500.00 296.25 C507.12 296.67 513.23 297.08 520.00 297.50 C526.77 297.92 533.98 298.75 540.60 298.75 C547.23 298.75 551.52 298.54 559.75 297.50 C567.98 296.46 579.44 295.42 590.00 292.50 C600.56 289.58 613.10 279.17 623.10 280.00 C633.10 280.83 640.52 292.50 650.00 297.50 C659.48 302.50 669.45 306.25 680.00 310.00 C690.55 313.75 707.75 318.33 713.30 320.00"/>
<path d="M477.30 345.00 C481.08 345.21 492.88 345.83 500.00 346.25 C507.12 346.67 513.23 347.08 520.00 347.50 C526.77 347.92 533.98 348.33 540.60 348.75 C547.23 349.17 551.52 350.00 559.75 350.00 C567.98 350.00 579.44 349.58 590.00 348.75 C600.56 347.92 613.10 345.42 623.10 345.00 C633.10 344.58 640.52 346.25 650.00 346.25 C659.48 346.25 669.45 345.42 680.00 345.00 C690.55 344.58 707.75 343.96 713.30 343.75"/>
<path d="M477.30 263.33 C481.08 261.11 492.88 253.33 500.00 250.00 C507.12 246.67 513.23 245.00 520.00 243.33 C526.77 241.67 533.98 240.00 540.60 240.00 C547.23 240.00 551.52 241.67 559.75 243.33 C567.98 245.00 579.44 247.00 590.00 250.00 C600.56 253.00 613.10 261.33 623.10 261.33 C633.10 261.33 640.52 250.22 650.00 250.00 C659.48 249.78 669.45 254.44 680.00 260.00 C690.55 265.56 707.75 279.44 713.30 283.33"/>
<path d="M477.30 273.33 C481.08 272.78 492.88 270.56 500.00 270.00 C507.12 269.44 513.23 269.67 520.00 270.00 C526.77 270.33 533.98 271.44 540.60 272.00 C547.23 272.56 551.52 272.89 559.75 273.33 C567.98 273.78 579.44 275.22 590.00 274.67 C600.56 274.11 613.10 270.22 623.10 270.00 C633.10 269.78 640.52 271.67 650.00 273.33 C659.48 275.00 669.45 276.67 680.00 280.00 C690.55 283.33 707.75 291.11 713.30 293.33"/>
<path d="M477.30 276.67 C481.08 277.22 492.88 278.89 500.00 280.00 C507.12 281.11 513.23 282.22 520.00 283.33 C526.77 284.44 533.98 286.11 540.60 286.67 C547.23 287.22 551.52 287.22 559.75 286.67 C567.98 286.11 579.44 285.00 590.00 283.33 C600.56 281.67 613.10 277.22 623.10 276.67 C633.10 276.11 640.52 278.33 650.00 280.00 C659.48 281.67 669.45 283.33 680.00 286.67 C690.55 290.00 707.75 297.78 713.30 300.00"/>
<path d="M477.25 343.75 C482.08 343.96 495.69 343.44 506.25 345.00 C516.81 346.56 529.17 351.88 540.62 353.12 C552.08 354.38 565.94 353.02 575.00 352.50 C584.06 351.98 586.98 351.15 595.00 350.00 C603.02 348.85 614.79 346.88 623.12 345.62 C631.46 344.38 637.19 343.44 645.00 342.50 C652.81 341.56 665.83 340.42 670.00 340.00"/>
<path d="M477.25 358.12 C483.12 357.60 501.94 355.94 512.50 355.00 C523.06 354.06 532.29 352.50 540.62 352.50 C548.96 352.50 553.44 354.79 562.50 355.00 C571.56 355.21 584.90 355.00 595.00 353.75 C605.10 352.50 614.79 348.33 623.12 347.50 C631.46 346.67 637.19 348.33 645.00 348.75 C652.81 349.17 661.67 350.62 670.00 350.00 C678.33 349.38 687.92 346.25 695.00 345.00 C702.08 343.75 709.58 342.92 712.50 342.50"/>
<path d="M477.25 357.50 C483.12 357.19 501.94 355.42 512.50 355.62 C523.06 355.83 532.29 357.92 540.62 358.75 C548.96 359.58 553.44 361.25 562.50 360.62 C571.56 360.00 584.90 356.77 595.00 355.00 C605.10 353.23 613.75 350.21 623.12 350.00 C632.50 349.79 643.44 352.92 651.25 353.75 C659.06 354.58 662.71 355.83 670.00 355.00 C677.29 354.17 687.92 350.21 695.00 348.75 C702.08 347.29 709.58 346.67 712.50 346.25"/>
<path d="M477.25 368.12 C482.08 367.81 495.69 367.81 506.25 366.25 C516.81 364.69 529.17 360.42 540.62 358.75 C552.08 357.08 565.94 356.88 575.00 356.25 C584.06 355.62 586.98 355.00 595.00 355.00 C603.02 355.00 612.71 356.15 623.12 356.25 C633.54 356.35 647.60 356.25 657.50 355.62 C667.40 355.00 673.33 354.27 682.50 352.50 C691.67 350.73 707.50 346.25 712.50 345.00"/>
<path d="M477.25 367.50 C483.12 368.02 501.94 370.00 512.50 370.62 C523.06 371.25 532.71 371.56 540.62 371.25 C548.54 370.94 550.94 368.54 560.00 368.75 C569.06 368.96 584.48 372.60 595.00 372.50 C605.52 372.40 612.71 368.54 623.12 368.12 C633.54 367.71 642.60 369.69 657.50 370.00 C672.40 370.31 703.33 370.00 712.50 370.00"/>
<path d="M477.25 375.00 C482.08 375.42 495.69 377.50 506.25 377.50 C516.81 377.50 531.67 376.04 540.62 375.00 C549.58 373.96 553.23 371.46 560.00 371.25 C566.77 371.04 575.42 373.96 581.25 373.75 C587.08 373.54 588.02 370.62 595.00 370.00 C601.98 369.38 610.62 369.17 623.12 370.00 C635.62 370.83 655.10 374.79 670.00 375.00 C684.90 375.21 705.42 371.88 712.50 371.25"/>
<path d="M477.25 376.25 C483.12 375.83 501.94 373.54 512.50 373.75 C523.06 373.96 530.21 376.46 540.62 377.50 C551.04 378.54 565.94 380.00 575.00 380.00 C584.06 380.00 586.98 377.50 595.00 377.50 C603.02 377.50 612.71 380.00 623.12 380.00 C633.54 380.00 647.60 378.33 657.50 377.50 C667.40 376.67 673.33 375.83 682.50 375.00 C691.67 374.17 707.50 372.92 712.50 372.50"/>
<path d="M477.25 383.75 C482.08 383.12 495.69 380.62 506.25 380.00 C516.81 379.38 529.17 380.42 540.62 380.00 C552.08 379.58 565.94 377.08 575.00 377.50 C584.06 377.92 586.98 381.88 595.00 382.50 C603.02 383.12 614.79 381.46 623.12 381.25 C631.46 381.04 637.19 379.79 645.00 381.25 C652.81 382.71 661.67 387.50 670.00 390.00 C678.33 392.50 687.92 394.79 695.00 396.25 C702.08 397.71 709.58 398.33 712.50 398.75"/>
<path d="M477.25 390.00 C483.12 389.38 501.94 387.29 512.50 386.25 C523.06 385.21 532.29 384.17 540.62 383.75 C548.96 383.33 553.44 382.71 562.50 383.75 C571.56 384.79 584.90 389.79 595.00 390.00 C605.10 390.21 612.71 385.62 623.12 385.00 C633.54 384.38 647.60 387.50 657.50 386.25 C667.40 385.00 673.33 379.17 682.50 377.50 C691.67 375.83 707.50 376.46 712.50 376.25"/>
<path d="M477.25 395.00 C482.08 395.83 495.69 400.83 506.25 400.00 C516.81 399.17 531.25 391.04 540.62 390.00 C550.00 388.96 553.44 392.71 562.50 393.75 C571.56 394.79 584.90 396.67 595.00 396.25 C605.10 395.83 614.79 391.88 623.12 391.25 C631.46 390.62 637.19 393.12 645.00 392.50 C652.81 391.88 663.75 389.17 670.00 387.50 C676.25 385.83 675.42 384.17 682.50 382.50 C689.58 380.83 707.50 378.33 712.50 377.50"/>
<path d="M477.25 397.50 C483.12 396.88 502.46 394.17 512.50 393.75 C522.54 393.33 529.17 393.96 537.50 395.00 C545.83 396.04 552.92 399.17 562.50 400.00 C572.08 400.83 584.90 401.46 595.00 400.00 C605.10 398.54 613.75 392.08 623.12 391.25 C632.50 390.42 642.40 395.21 651.25 395.00 C660.10 394.79 666.04 391.25 676.25 390.00 C686.46 388.75 706.46 387.92 712.50 387.50"/>
<path d="M477.25 402.50 C482.08 403.12 495.69 405.62 506.25 406.25 C516.81 406.88 529.17 406.88 540.62 406.25 C552.08 405.62 565.94 403.33 575.00 402.50 C584.06 401.67 586.98 402.29 595.00 401.25 C603.02 400.21 613.75 395.42 623.12 396.25 C632.50 397.08 643.44 406.46 651.25 406.25 C659.06 406.04 662.71 397.92 670.00 395.00 C677.29 392.08 687.92 389.58 695.00 388.75 C702.08 387.92 709.58 389.79 712.50 390.00"/>
<path d="M477.25 407.50 C483.12 407.92 501.94 409.58 512.50 410.00 C523.06 410.42 532.29 411.04 540.62 410.00 C548.96 408.96 553.44 403.54 562.50 403.75 C571.56 403.96 584.90 412.29 595.00 411.25 C605.10 410.21 614.79 399.38 623.12 397.50 C631.46 395.62 637.19 398.33 645.00 400.00 C652.81 401.67 661.67 405.62 670.00 407.50 C678.33 409.38 687.92 410.42 695.00 411.25 C702.08 412.08 709.58 412.29 712.50 412.50"/>
<path d="M477.25 412.50 C482.08 412.29 495.69 410.83 506.25 411.25 C516.81 411.67 529.17 415.21 540.62 415.00 C552.08 414.79 565.94 411.67 575.00 410.00 C584.06 408.33 586.98 406.25 595.00 405.00 C603.02 403.75 614.79 402.71 623.12 402.50 C631.46 402.29 637.19 403.75 645.00 403.75 C652.81 403.75 661.67 403.12 670.00 402.50 C678.33 401.88 687.92 401.04 695.00 400.00 C702.08 398.96 709.58 396.88 712.50 396.25"/>
<path d="M477.25 415.00 C483.12 415.00 501.94 415.00 512.50 415.00 C523.06 415.00 526.88 414.58 540.62 415.00 C554.38 415.42 581.25 419.58 595.00 417.50 C608.75 415.42 614.38 404.17 623.12 402.50 C631.88 400.83 640.73 407.50 647.50 407.50 C654.27 407.50 657.92 404.38 663.75 402.50 C669.58 400.62 674.38 397.92 682.50 396.25 C690.62 394.58 707.50 393.12 712.50 392.50"/>
<path d="M477.25 420.00 C483.12 420.21 501.94 421.25 512.50 421.25 C523.06 421.25 530.21 420.00 540.62 420.00 C551.04 420.00 565.94 420.42 575.00 421.25 C584.06 422.08 586.98 426.88 595.00 425.00 C603.02 423.12 612.71 412.08 623.12 410.00 C633.54 407.92 647.60 412.50 657.50 412.50 C667.40 412.50 673.33 410.42 682.50 410.00 C691.67 409.58 707.50 410.00 712.50 410.00"/>
<path d="M477.25 425.00 C485.21 425.21 510.79 426.67 525.00 426.25 C539.21 425.83 550.83 422.29 562.50 422.50 C574.17 422.71 584.90 428.75 595.00 427.50 C605.10 426.25 612.71 417.08 623.12 415.00 C633.54 412.92 647.60 415.00 657.50 415.00 C667.40 415.00 673.33 415.00 682.50 415.00 C691.67 415.00 707.50 415.00 712.50 415.00"/>
<path d="M595.00 420.00 C599.69 420.21 612.71 420.83 623.12 421.25 C633.54 421.67 647.60 422.50 657.50 422.50 C667.40 422.50 673.33 421.67 682.50 421.25 C691.67 420.83 707.50 420.21 712.50 420.00"/>
<path d="M595.00 425.00 C599.69 424.58 612.71 422.50 623.12 422.50 C633.54 422.50 642.60 424.38 657.50 425.00 C672.40 425.62 703.33 426.04 712.50 426.25"/>
<path d="M477.25 428.75 C483.12 428.96 501.94 430.21 512.50 430.00 C523.06 429.79 530.21 427.50 540.62 427.50 C551.04 427.50 565.94 430.00 575.00 430.00 C584.06 430.00 586.98 428.12 595.00 427.50 C603.02 426.88 612.71 426.67 623.12 426.25 C633.54 425.83 642.60 425.00 657.50 425.00 C672.40 425.00 703.33 426.04 712.50 426.25"/>
<path d="M477.25 435.00 C483.12 434.79 501.94 433.54 512.50 433.75 C523.06 433.96 530.21 436.46 540.62 436.25 C551.04 436.04 565.94 433.12 575.00 432.50 C584.06 431.88 589.58 432.71 595.00 432.50 C600.42 432.29 602.81 430.21 607.50 431.25 C612.19 432.29 617.92 438.54 623.12 438.75 C628.33 438.96 633.02 433.75 638.75 432.50 C644.48 431.25 650.21 430.83 657.50 431.25 C664.79 431.67 673.33 434.79 682.50 435.00 C691.67 435.21 707.50 432.92 712.50 432.50"/>
<path d="M477.25 438.75 C483.12 438.54 501.94 437.08 512.50 437.50 C523.06 437.92 530.21 440.83 540.62 441.25 C551.04 441.67 565.94 440.62 575.00 440.00 C584.06 439.38 586.98 437.29 595.00 437.50 C603.02 437.71 612.71 440.83 623.12 441.25 C633.54 441.67 647.60 439.79 657.50 440.00 C667.40 440.21 673.33 442.92 682.50 442.50 C691.67 442.08 707.50 438.33 712.50 437.50"/>
<path d="M477.25 442.50 C481.04 442.71 492.04 442.92 500.00 443.75 C507.96 444.58 516.67 446.04 525.00 447.50 C533.33 448.96 541.67 452.50 550.00 452.50 C558.33 452.50 567.50 449.38 575.00 447.50 C582.50 445.62 586.98 442.29 595.00 441.25 C603.02 440.21 614.79 441.67 623.12 441.25 C631.46 440.83 637.19 437.92 645.00 438.75 C652.81 439.58 661.67 445.42 670.00 446.25 C678.33 447.08 687.92 444.58 695.00 443.75 C702.08 442.92 709.58 441.67 712.50 441.25"/>
<path d="M477.25 451.25 C483.12 451.46 501.94 452.71 512.50 452.50 C523.06 452.29 530.21 450.42 540.62 450.00 C551.04 449.58 565.94 450.00 575.00 450.00 C584.06 450.00 586.98 450.00 595.00 450.00 C603.02 450.00 613.75 449.79 623.12 450.00 C632.50 450.21 641.35 451.46 651.25 451.25 C661.15 451.04 672.29 449.38 682.50 448.75 C692.71 448.12 707.50 447.71 712.50 447.50"/>
<path d="M477.25 453.75 C483.12 454.17 501.94 455.62 512.50 456.25 C523.06 456.88 530.21 457.08 540.62 457.50 C551.04 457.92 565.94 459.38 575.00 458.75 C584.06 458.12 586.98 454.58 595.00 453.75 C603.02 452.92 612.71 453.54 623.12 453.75 C633.54 453.96 647.60 455.21 657.50 455.00 C667.40 454.79 673.33 453.33 682.50 452.50 C691.67 451.67 707.50 450.42 712.50 450.00"/>
<path d="M477.25 467.50 C483.12 466.46 501.94 462.92 512.50 461.25 C523.06 459.58 532.29 457.92 540.62 457.50 C548.96 457.08 553.44 458.75 562.50 458.75 C571.56 458.75 584.90 457.92 595.00 457.50 C605.10 457.08 612.71 456.04 623.12 456.25 C633.54 456.46 647.60 458.54 657.50 458.75 C667.40 458.96 673.33 457.50 682.50 457.50 C691.67 457.50 707.50 458.54 712.50 458.75"/>
<path d="M477.25 468.75 C481.04 468.33 492.04 467.50 500.00 466.25 C507.96 465.00 516.67 463.96 525.00 461.25 C533.33 458.54 541.67 452.92 550.00 450.00 C558.33 447.08 567.50 445.42 575.00 443.75 C582.50 442.08 585.42 441.88 595.00 440.00 C604.58 438.12 622.08 435.42 632.50 432.50 C642.92 429.58 653.33 424.17 657.50 422.50"/>
<path d="M477.25 478.75 C481.04 478.96 492.04 480.00 500.00 480.00 C507.96 480.00 516.67 479.17 525.00 478.75 C533.33 478.33 541.67 477.50 550.00 477.50 C558.33 477.50 567.50 480.42 575.00 478.75 C582.50 477.08 586.98 469.79 595.00 467.50 C603.02 465.21 613.75 465.21 623.12 465.00 C632.50 464.79 643.44 467.08 651.25 466.25 C659.06 465.42 662.71 462.71 670.00 460.00 C677.29 457.29 687.92 451.88 695.00 450.00 C702.08 448.12 709.58 448.96 712.50 448.75"/>
<path d="M477.25 486.25 C483.12 485.83 501.94 484.79 512.50 483.75 C523.06 482.71 532.29 479.79 540.62 480.00 C548.96 480.21 553.44 485.83 562.50 485.00 C571.56 484.17 584.90 475.62 595.00 475.00 C605.10 474.38 614.79 480.83 623.12 481.25 C631.46 481.67 637.19 480.62 645.00 477.50 C652.81 474.38 663.75 465.83 670.00 462.50 C676.25 459.17 675.42 458.96 682.50 457.50 C689.58 456.04 707.50 454.38 712.50 453.75"/>
<path d="M477.25 490.00 C483.12 489.58 501.94 487.92 512.50 487.50 C523.06 487.08 532.29 487.08 540.62 487.50 C548.96 487.92 553.44 491.67 562.50 490.00 C571.56 488.33 584.90 478.54 595.00 477.50 C605.10 476.46 614.79 483.33 623.12 483.75 C631.46 484.17 637.19 482.71 645.00 480.00 C652.81 477.29 662.71 470.42 670.00 467.50 C677.29 464.58 681.67 463.75 688.75 462.50 C695.83 461.25 708.54 460.42 712.50 460.00"/>
<path d="M477.25 510.00 C481.04 508.33 492.04 504.38 500.00 500.00 C507.96 495.62 516.67 488.96 525.00 483.75 C533.33 478.54 541.67 472.71 550.00 468.75 C558.33 464.79 567.50 463.12 575.00 460.00 C582.50 456.88 591.67 451.67 595.00 450.00"/>
<path d="M497.50 515.00 C500.00 512.08 505.83 502.92 512.50 497.50 C519.17 492.08 529.17 486.67 537.50 482.50 C545.83 478.33 552.92 471.67 562.50 472.50 C572.08 473.33 584.90 484.17 595.00 487.50 C605.10 490.83 613.75 492.08 623.12 492.50 C632.50 492.92 641.35 490.62 651.25 490.00 C661.15 489.38 672.29 489.17 682.50 488.75 C692.71 488.33 707.50 487.71 712.50 487.50"/>
<path d="M477.25 470.00 C482.08 470.42 495.69 472.71 506.25 472.50 C516.81 472.29 529.17 469.38 540.62 468.75 C552.08 468.12 565.94 466.04 575.00 468.75 C584.06 471.46 588.54 480.00 595.00 485.00 C601.46 490.00 609.06 495.83 613.75 498.75 C618.44 501.67 618.96 502.29 623.12 502.50 C627.29 502.71 633.02 501.25 638.75 500.00 C644.48 498.75 650.21 495.83 657.50 495.00 C664.79 494.17 673.33 494.58 682.50 495.00 C691.67 495.42 707.50 497.08 712.50 497.50"/>
<path d="M525.00 472.50 C529.17 473.33 541.67 475.00 550.00 477.50 C558.33 480.00 567.50 484.58 575.00 487.50 C582.50 490.42 586.98 492.50 595.00 495.00 C603.02 497.50 614.79 499.17 623.12 502.50 C631.46 505.83 641.35 512.92 645.00 515.00"/>
<path d="M660.00 425.00 C662.71 429.17 671.46 442.29 676.25 450.00 C681.04 457.71 682.71 467.08 688.75 471.25 C694.79 475.42 708.54 474.38 712.50 475.00"/>
<path d="M645.00 515.00 C649.17 511.67 661.67 501.04 670.00 495.00 C678.33 488.96 687.92 481.67 695.00 478.75 C702.08 475.83 709.58 477.71 712.50 477.50"/>
<path d="M670.00 475.00 C672.08 475.21 675.42 475.42 682.50 476.25 C689.58 477.08 707.50 479.38 712.50 480.00"/>
<path d="M595.00 473.75 C599.69 475.00 614.79 480.62 623.12 481.25 C631.46 481.88 637.19 480.62 645.00 477.50 C652.81 474.38 663.75 466.46 670.00 462.50 C676.25 458.54 675.42 456.88 682.50 453.75 C689.58 450.62 707.50 445.42 712.50 443.75"/>
<path d="M477.30 546.25 C483.58 540.21 504.45 518.38 515.00 510.00 C525.55 501.62 532.68 499.00 540.60 496.00 C548.52 493.00 555.93 491.33 562.50 492.00 C569.07 492.67 574.58 496.83 580.00 500.00 C585.42 503.17 590.42 507.67 595.00 511.00 C599.58 514.33 602.82 517.25 607.50 520.00 C612.18 522.75 616.85 527.33 623.10 527.50 C629.35 527.67 635.10 523.92 645.00 521.00 C654.90 518.08 671.25 512.33 682.50 510.00 C693.75 507.67 707.50 507.50 712.50 507.00"/>
<path d="M477.30 546.25 C481.08 540.38 494.13 518.88 500.00 511.00 C505.87 503.12 507.33 502.67 512.50 499.00 C517.67 495.33 524.75 491.17 531.00 489.00 C537.25 486.83 542.67 486.17 550.00 486.00 C557.33 485.83 567.50 486.08 575.00 488.00 C582.50 489.92 589.58 495.08 595.00 497.50 C600.42 499.92 602.82 501.25 607.50 502.50 C612.18 503.75 617.89 505.25 623.10 505.00 C628.31 504.75 633.02 502.25 638.75 501.00 C644.48 499.75 648.96 499.33 657.50 497.50 C666.04 495.67 680.70 491.58 690.00 490.00 C699.30 488.42 709.42 488.33 713.30 488.00"/>
<path d="M477.30 546.25 C479.75 541.21 487.38 524.38 492.00 516.00 C496.62 507.62 499.50 501.83 505.00 496.00 C510.50 490.17 517.50 484.50 525.00 481.00 C532.50 477.50 540.83 475.50 550.00 475.00 C559.17 474.50 572.50 476.33 580.00 478.00 C587.50 479.67 590.00 481.67 595.00 485.00 C600.00 488.33 605.32 490.92 610.00 498.00 C614.68 505.08 618.93 524.33 623.10 527.50 C627.27 530.67 631.35 520.75 635.00 517.00 C638.65 513.25 641.25 508.67 645.00 505.00 C648.75 501.33 653.33 498.00 657.50 495.00 C661.67 492.00 664.58 489.17 670.00 487.00 C675.42 484.83 682.78 483.17 690.00 482.00 C697.22 480.83 709.42 480.33 713.30 480.00"/>
<path d="M477.25 510.00 C481.04 509.17 492.04 507.92 500.00 505.00 C507.96 502.08 517.71 495.83 525.00 492.50 C532.29 489.17 535.42 486.46 543.75 485.00 C552.08 483.54 566.46 483.33 575.00 483.75 C583.54 484.17 591.67 486.46 595.00 487.50 C598.33 488.54 590.31 488.75 595.00 490.00 C599.69 491.25 614.79 493.96 623.12 495.00 C631.46 496.04 635.10 496.04 645.00 496.25 C654.90 496.46 671.25 496.04 682.50 496.25 C693.75 496.46 707.50 497.29 712.50 497.50"/>
<path d="M477.25 490.00 C481.04 489.79 492.04 489.79 500.00 488.75 C507.96 487.71 514.58 484.38 525.00 483.75 C535.42 483.12 550.83 483.75 562.50 485.00 C574.17 486.25 589.58 490.00 595.00 491.25 C600.42 492.50 590.31 491.46 595.00 492.50 C599.69 493.54 612.71 497.50 623.12 497.50 C633.54 497.50 647.60 492.50 657.50 492.50 C667.40 492.50 673.33 496.46 682.50 497.50 C691.67 498.54 707.50 498.54 712.50 498.75"/>
<path d="M670.00 480.00 C672.08 481.67 678.33 487.08 682.50 490.00 C686.67 492.92 690.00 494.38 695.00 497.50 C700.00 500.62 709.58 506.88 712.50 508.75"/>
<path d="M682.50 480.00 C685.62 482.08 696.25 488.33 701.25 492.50 C706.25 496.67 710.62 502.92 712.50 505.00"/>
<path d="M595.00 483.75 C599.69 483.54 614.79 482.29 623.12 482.50 C631.46 482.71 635.10 484.79 645.00 485.00 C654.90 485.21 671.25 484.17 682.50 483.75 C693.75 483.33 707.50 482.71 712.50 482.50"/>
<path d="M477.30 464.60 C481.08 464.87 492.88 465.67 500.00 466.20 C507.12 466.73 513.23 467.26 520.00 467.80 C526.77 468.33 533.98 469.39 540.60 469.39 C547.23 469.39 551.52 467.53 559.75 467.80 C567.98 468.06 579.44 468.59 590.00 470.99 C600.56 473.39 613.10 481.64 623.10 482.17 C633.10 482.71 640.52 477.11 650.00 474.19 C659.48 471.26 669.45 466.46 680.00 464.60 C690.55 462.74 707.75 463.27 713.30 463.00"/>
<path d="M477.30 470.99 C481.08 471.52 492.88 473.65 500.00 474.19 C507.12 474.72 513.23 473.65 520.00 474.19 C526.77 474.72 533.98 477.38 540.60 477.38 C547.23 477.38 551.52 474.19 559.75 474.19 C567.98 474.19 579.44 475.25 590.00 477.38 C600.56 479.51 613.10 486.43 623.10 486.96 C633.10 487.50 640.52 482.71 650.00 480.58 C659.48 478.45 669.45 475.78 680.00 474.19 C690.55 472.59 707.75 471.52 713.30 470.99"/>
<path d="M477.30 490.16 C481.08 489.63 492.88 488.30 500.00 486.96 C507.12 485.63 513.23 483.77 520.00 482.17 C526.77 480.58 533.98 478.71 540.60 477.38 C547.23 476.05 551.52 473.65 559.75 474.19 C567.98 474.72 579.44 477.91 590.00 480.58 C600.56 483.24 613.10 488.56 623.10 490.16 C633.10 491.76 640.52 490.16 650.00 490.16 C659.48 490.16 669.45 489.09 680.00 490.16 C690.55 491.22 707.75 495.48 713.30 496.55"/>
<path d="M477.30 486.96 C481.08 486.43 492.88 484.83 500.00 483.77 C507.12 482.71 513.23 482.17 520.00 480.58 C526.77 478.98 533.98 475.78 540.60 474.19 C547.23 472.59 551.52 470.99 559.75 470.99 C567.98 470.99 579.44 472.59 590.00 474.19 C600.56 475.78 613.10 478.45 623.10 480.58 C633.10 482.71 640.52 484.83 650.00 486.96 C659.48 489.09 669.45 491.22 680.00 493.35 C690.55 495.48 707.75 498.68 713.30 499.74"/>
<path d="M477.30 499.74 C481.08 498.15 492.88 492.82 500.00 490.16 C507.12 487.50 513.23 485.37 520.00 483.77 C526.77 482.17 533.98 480.84 540.60 480.58 C547.23 480.31 551.52 480.58 559.75 482.17 C567.98 483.77 579.44 487.23 590.00 490.16 C600.56 493.09 613.10 498.15 623.10 499.74 C633.10 501.34 640.52 500.28 650.00 499.74 C659.48 499.21 669.45 497.08 680.00 496.55 C690.55 496.02 707.75 496.55 713.30 496.55"/>
<path d="M477.30 509.33 C481.08 508.26 492.88 505.60 500.00 502.94 C507.12 500.28 513.23 496.02 520.00 493.35 C526.77 490.69 533.98 488.56 540.60 486.96 C547.23 485.37 551.52 483.24 559.75 483.77 C567.98 484.30 579.44 486.96 590.00 490.16 C600.56 493.35 613.10 501.34 623.10 502.94 C633.10 504.54 640.52 500.28 650.00 499.74 C659.48 499.21 669.45 499.74 680.00 499.74 C690.55 499.74 707.75 499.74 713.30 499.74"/>
<path d="M477.30 451.82 C481.08 452.09 492.88 452.89 500.00 453.42 C507.12 453.95 513.23 454.48 520.00 455.02 C526.77 455.55 533.98 456.61 540.60 456.61 C547.23 456.61 551.52 455.55 559.75 455.02 C567.98 454.48 579.44 453.95 590.00 453.42 C600.56 452.89 613.10 452.09 623.10 451.82 C633.10 451.55 640.52 451.55 650.00 451.82 C659.48 452.09 669.45 452.89 680.00 453.42 C690.55 453.95 707.75 454.75 713.30 455.02"/>
<path d="M477.30 442.24 C481.08 442.77 492.88 444.37 500.00 445.43 C507.12 446.50 513.23 447.56 520.00 448.63 C526.77 449.69 533.98 451.82 540.60 451.82 C547.23 451.82 551.52 449.69 559.75 448.63 C567.98 447.56 579.44 447.56 590.00 445.43 C600.56 443.30 613.10 436.91 623.10 435.85 C633.10 434.78 640.52 437.44 650.00 439.04 C659.48 440.64 669.45 443.30 680.00 445.43 C690.55 447.56 707.75 450.76 713.30 451.82"/>
<path d="M477.30 435.85 C481.08 436.38 492.88 437.98 500.00 439.04 C507.12 440.11 513.23 441.70 520.00 442.24 C526.77 442.77 533.98 442.77 540.60 442.24 C547.23 441.70 551.52 440.11 559.75 439.04 C567.98 437.98 579.44 436.91 590.00 435.85 C600.56 434.78 613.10 432.65 623.10 432.65 C633.10 432.65 640.52 434.78 650.00 435.85 C659.48 436.91 669.45 437.98 680.00 439.04 C690.55 440.11 707.75 441.70 713.30 442.24"/>
<path d="M477.30 426.26 C481.08 426.79 492.88 428.39 500.00 429.46 C507.12 430.52 513.23 431.59 520.00 432.65 C526.77 433.72 533.98 435.85 540.60 435.85 C547.23 435.85 551.52 433.72 559.75 432.65 C567.98 431.59 579.44 430.52 590.00 429.46 C600.56 428.39 613.10 426.53 623.10 426.26 C633.10 426.00 640.52 427.33 650.00 427.86 C659.48 428.39 669.45 428.92 680.00 429.46 C690.55 429.99 707.75 430.79 713.30 431.05"/>
<path d="M477.30 419.87 C481.08 420.14 492.88 420.94 500.00 421.47 C507.12 422.00 513.23 423.07 520.00 423.07 C526.77 423.07 533.98 422.00 540.60 421.47 C547.23 420.94 551.52 420.14 559.75 419.87 C567.98 419.61 579.44 419.34 590.00 419.87 C600.56 420.40 613.10 422.53 623.10 423.07 C633.10 423.60 640.52 423.60 650.00 423.07 C659.48 422.53 669.45 420.94 680.00 419.87 C690.55 418.81 707.75 417.21 713.30 416.68"/>
<path d="M477.30 413.48 C481.08 412.95 492.88 411.09 500.00 410.29 C507.12 409.49 513.23 408.69 520.00 408.69 C526.77 408.69 533.98 409.49 540.60 410.29 C547.23 411.09 551.52 412.42 559.75 413.48 C567.98 414.55 579.44 416.41 590.00 416.68 C600.56 416.94 613.10 415.61 623.10 415.08 C633.10 414.55 640.52 414.01 650.00 413.48 C659.48 412.95 669.45 412.42 680.00 411.88 C690.55 411.35 707.75 410.55 713.30 410.29"/>
<path d="M477.30 295.00 C481.08 295.42 492.88 296.46 500.00 297.50 C507.12 298.54 513.23 300.00 520.00 301.25 C526.77 302.50 533.98 304.38 540.60 305.00 C547.23 305.62 551.52 305.42 559.75 305.00 C567.98 304.58 579.44 305.42 590.00 302.50 C600.56 299.58 613.10 287.08 623.10 287.50 C633.10 287.92 640.52 301.25 650.00 305.00 C659.48 308.75 669.45 308.75 680.00 310.00 C690.55 311.25 707.75 312.08 713.30 312.50"/>
<path d="M477.30 297.50 C481.08 297.92 492.88 298.96 500.00 300.00 C507.12 301.04 513.23 302.50 520.00 303.75 C526.77 305.00 533.98 306.88 540.60 307.50 C547.23 308.12 551.52 307.92 559.75 307.50 C567.98 307.08 579.44 307.71 590.00 305.00 C600.56 302.29 613.10 290.83 623.10 291.25 C633.10 291.67 640.52 304.17 650.00 307.50 C659.48 310.83 669.45 310.21 680.00 311.25 C690.55 312.29 707.75 313.33 713.30 313.75"/>
<path d="M477.30 301.25 C481.08 301.67 492.88 302.92 500.00 303.75 C507.12 304.58 513.23 305.21 520.00 306.25 C526.77 307.29 533.98 309.38 540.60 310.00 C547.23 310.62 551.52 310.42 559.75 310.00 C567.98 309.58 579.44 310.00 590.00 307.50 C600.56 305.00 613.10 294.58 623.10 295.00 C633.10 295.42 640.52 307.08 650.00 310.00 C659.48 312.92 669.45 311.67 680.00 312.50 C690.55 313.33 707.75 314.58 713.30 315.00"/>
<path d="M477.30 317.50 C481.08 317.92 492.88 319.17 500.00 320.00 C507.12 320.83 513.23 321.67 520.00 322.50 C526.77 323.33 533.98 324.58 540.60 325.00 C547.23 325.42 551.52 325.00 559.75 325.00 C567.98 325.00 579.44 326.25 590.00 325.00 C600.56 323.75 613.10 317.08 623.10 317.50 C633.10 317.92 640.52 324.17 650.00 327.50 C659.48 330.83 669.45 335.42 680.00 337.50 C690.55 339.58 707.75 339.58 713.30 340.00"/>
<path d="M477.30 312.50 C481.08 312.71 492.88 313.42 500.00 313.75 C507.12 314.08 513.23 314.29 520.00 314.50 C526.77 314.71 533.98 314.92 540.60 315.00 C547.23 315.08 551.52 315.21 559.75 315.00 C567.98 314.79 579.44 314.17 590.00 313.75 C600.56 313.33 613.10 312.71 623.10 312.50 C633.10 312.29 640.52 312.50 650.00 312.50 C659.48 312.50 669.45 312.50 680.00 312.50 C690.55 312.50 707.75 312.50 713.30 312.50"/>
<path d="M477.30 332.50 C481.08 332.08 492.88 330.21 500.00 330.00 C507.12 329.79 513.23 330.42 520.00 331.25 C526.77 332.08 533.98 334.58 540.60 335.00 C547.23 335.42 551.52 334.17 559.75 333.75 C567.98 333.33 579.44 332.71 590.00 332.50 C600.56 332.29 613.10 332.29 623.10 332.50 C633.10 332.71 640.52 333.33 650.00 333.75 C659.48 334.17 669.45 334.79 680.00 335.00 C690.55 335.21 707.75 335.00 713.30 335.00"/>
</g></g>
<g clip-path="url(#c4)">
<path d="M730.83 184.17 L930.00 190.00 L930.00 187.10 L803.33 187.50 L846.67 189.17 L823.33 193.33 L930.00 194.17 L930.00 198.77 L731.67 199.17 L930.00 198.33 L930.00 204.60 L738.33 205.00 L930.00 206.67 L930.00 207.10 L856.67 207.50 L930.00 209.17 L930.00 212.10 L790.00 212.50 L845.00 213.33 L810.00 213.33 L833.33 214.17 L776.67 217.50 L830.00 215.83 L775.00 221.67 L830.00 225.00 L815.00 227.50 L830.00 225.83 L785.00 232.50 L930.00 230.00 L930.00 234.60 L820.00 235.00 L826.67 235.83 L755.00 243.33 L800.00 240.00 L785.00 245.83 L930.00 260.00 L930.00 262.93 L828.33 263.33 L930.00 266.67 L930.00 271.27 L835.00 271.67 L930.00 272.50 L930.00 281.27 L803.33 281.67 L930.00 280.00 L930.00 284.60 L830.00 285.00 L930.00 285.83 L930.00 290.43 L823.33 290.83 L848.33 290.83 L798.33 292.50 L930.00 290.00 L930.00 294.60 L856.67 295.00 L930.00 295.00 L930.00 298.77 L853.33 299.17 L930.00 300.00 L930.00 302.10 L853.33 302.50 L930.00 303.33 L930.00 305.43 L835.00 305.83 L930.00 305.83 L930.00 317.10 L850.00 317.50 L930.00 317.50 L930.00 332.93 L783.33 333.33 L930.00 332.50 L930.00 335.43 L801.67 335.83 L816.67 336.67 L776.67 339.17 L930.00 345.00 L930.00 347.10 L840.00 347.50 L930.00 348.33 L930.00 350.43 L833.33 350.83 L930.00 351.67 L930.00 357.10 L770.00 357.50 L850.00 353.33 L733.33 366.67 L930.00 368.33 L930.00 372.10 L843.33 372.50 L930.00 373.33 L930.00 384.60 L821.67 385.00 L930.00 385.83 L930.00 395.43 L806.67 395.83 L930.00 391.67 L930.00 397.93 L811.67 398.33 L930.00 397.50 L930.00 403.77 L811.67 404.17 L930.00 403.33 L930.00 444.60 L853.33 445.00 L930.00 445.00 L930.00 466.27 L850.00 466.67 L930.00 466.67 L930.00 472.93 L816.67 473.33 L930.00 471.67 L930.00 477.93 L841.67 478.33 L930.00 479.17 L930.00 497.83 L863.33 498.33 L820.00 503.33 L786.67 510.00 L761.67 511.67 L750.00 518.33 L736.67 528.33 L730.83 535.00" fill="none" stroke="#000000" stroke-width="1.15" stroke-dasharray="1.2 1.9" stroke-linejoin="round"/>
<path d="M729.62 182.00 L729.75 183.00 L756.73 184.00 L756.65 185.00 L756.59 186.00 L752.10 187.00 L749.03 188.00 L750.29 189.00 L758.64 190.00 L770.44 191.00 L772.59 192.00 L763.08 193.00 L750.25 194.00 L744.99 195.00 L745.48 196.00 L748.39 197.00 L751.90 198.00 L751.01 199.00 L750.12 200.00 L749.24 201.00 L748.45 202.00 L748.53 203.00 L750.54 204.00 L756.98 205.00 L768.32 206.00 L778.36 207.00 L778.27 208.00 L766.41 209.00 L752.60 210.00 L750.08 211.00 L755.75 212.00 L761.19 213.00 L762.95 214.00 L765.07 215.00 L766.57 216.00 L761.92 217.00 L753.79 218.00 L747.75 219.00 L745.05 220.00 L744.19 221.00 L743.90 222.00 L742.34 223.00 L741.10 224.00 L739.54 225.00 L737.81 226.00 L738.47 227.00 L739.21 228.00 L739.96 229.00 L740.71 230.00 L740.56 231.00 L740.41 232.00 L740.26 233.00 L740.10 234.00 L742.06 235.00 L744.01 236.00 L745.97 237.00 L747.92 238.00 L750.62 239.00 L753.32 240.00 L756.01 241.00 L758.71 242.00 L758.19 243.00 L757.66 244.00 L757.14 245.00 L756.62 246.00 L739.05 247.00 L737.68 248.00 L736.32 249.00 L734.96 250.00 L734.76 251.00 L734.55 252.00 L734.35 253.00 L734.15 254.00 L733.90 255.00 L733.66 256.00 L733.41 257.00 L733.17 258.00 L733.05 259.00 L732.93 260.00 L732.81 261.00 L737.34 262.00 L737.34 263.00 L737.34 264.00 L737.33 265.00 L737.33 266.00 L738.33 267.00 L739.33 268.00 L740.34 269.00 L741.34 270.00 L740.77 271.00 L740.20 272.00 L739.64 273.00 L739.07 274.00 L739.28 275.00 L739.48 276.00 L739.69 277.00 L739.90 278.00 L743.46 279.00 L747.02 280.00 L750.58 281.00 L754.14 282.00 L751.25 283.00 L748.36 284.00 L745.47 285.00 L742.59 286.00 L742.84 287.00 L743.27 288.00 L744.10 289.00 L745.40 290.00 L746.87 291.00 L749.45 292.00 L755.31 293.00 L768.86 294.00 L786.70 295.00 L793.04 296.00 L782.69 297.00 L775.07 298.00 L783.82 299.00 L791.67 300.00 L782.60 301.00 L763.83 302.00 L751.32 303.00 L751.93 304.00 L758.81 305.00 L761.54 306.00 L756.52 307.00 L749.36 308.00 L747.31 309.00 L756.48 310.00 L784.68 311.00 L824.00 312.00 L851.28 313.00 L845.72 314.00 L813.48 315.00 L780.50 316.00 L767.56 317.00 L777.98 318.00 L800.10 319.00 L811.67 320.00 L799.32 321.00 L772.50 322.00 L754.65 323.00 L749.21 324.00 L750.66 325.00 L754.28 326.00 L753.28 327.00 L752.33 328.00 L751.39 329.00 L750.45 330.00 L749.91 331.00 L749.37 332.00 L748.83 333.00 L748.29 334.00 L749.91 335.00 L751.53 336.00 L753.14 337.00 L754.76 338.00 L753.38 339.00 L752.00 340.00 L750.63 341.00 L749.25 342.00 L749.49 343.00 L749.72 344.00 L749.96 345.00 L750.19 346.00 L747.53 347.00 L744.86 348.00 L742.19 349.00 L739.52 350.00 L744.16 351.00 L748.79 352.00 L753.43 353.00 L758.06 354.00 L757.84 355.00 L757.62 356.00 L735.16 357.00 L735.12 358.00 L734.14 359.00 L733.17 360.00 L732.20 361.00 L731.22 362.00 L731.79 363.00 L732.36 364.00 L733.03 365.00 L734.11 366.00 L735.82 367.00 L748.31 368.00 L747.99 369.00 L747.68 370.00 L746.70 371.00 L746.44 372.00 L748.27 373.00 L757.65 374.00 L778.14 375.00 L798.39 376.00 L802.07 377.00 L786.02 378.00 L764.22 379.00 L749.74 380.00 L743.94 381.00 L743.11 382.00 L749.86 383.00 L762.98 384.00 L782.59 385.00 L799.67 386.00 L802.46 387.00 L795.07 388.00 L796.92 389.00 L803.33 390.00 L793.49 391.00 L773.53 392.00 L759.78 393.00 L757.49 394.00 L759.52 395.00 L764.99 396.00 L766.23 397.00 L759.79 398.00 L756.33 399.00 L761.46 400.00 L768.44 401.00 L769.66 402.00 L765.42 403.00 L759.79 404.00 L756.22 405.00 L754.91 406.00 L751.25 407.00 L748.09 408.00 L747.68 409.00 L748.33 410.00 L747.21 411.00 L745.19 412.00 L743.96 413.00 L743.78 414.00 L746.51 415.00 L749.45 416.00 L752.40 417.00 L755.35 418.00 L753.54 419.00 L751.99 420.00 L751.75 421.00 L755.62 422.00 L766.87 423.00 L782.22 424.00 L790.00 425.00 L781.69 426.00 L763.92 427.00 L749.07 428.00 L741.50 429.00 L738.57 430.00 L738.43 431.00 L738.63 432.00 L738.89 433.00 L739.15 434.00 L741.19 435.00 L743.25 436.00 L745.17 437.00 L747.18 438.00 L744.97 439.00 L745.00 440.00 L744.16 441.00 L741.15 442.00 L742.56 443.00 L746.28 444.00 L750.55 445.00 L754.81 446.00 L750.74 447.00 L746.67 448.00 L742.59 449.00 L738.52 450.00 L742.63 451.00 L746.74 452.00 L750.85 453.00 L754.96 454.00 L750.96 455.00 L738.28 456.00 L736.28 457.00 L734.28 458.00 L736.53 459.00 L738.79 460.00 L741.04 461.00 L743.29 462.00 L742.09 463.00 L740.89 464.00 L739.69 465.00 L738.49 466.00 L737.84 467.00 L737.18 468.00 L736.52 469.00 L742.12 470.00 L742.19 471.00 L742.26 472.00 L742.34 473.00 L742.41 474.00 L743.24 475.00 L744.08 476.00 L744.91 477.00 L745.75 478.00 L745.32 479.00 L744.90 480.00 L744.47 481.00 L744.05 482.00 L742.78 483.00 L741.52 484.00 L740.26 485.00 L741.92 486.00 L744.12 487.00 L743.66 488.00 L746.81 489.00 L750.31 490.00 L752.16 491.00 L749.33 492.00 L749.82 493.00 L749.38 494.00 L749.51 495.00 L749.34 496.00 L752.53 497.00 L755.94 498.00 L753.20 499.00 L750.46 500.00 L747.26 501.00 L745.42 502.00 L744.36 503.00 L743.16 504.00 L743.72 505.00 L741.28 506.00 L742.27 507.00 L741.54 508.00 L743.73 509.00 L745.89 510.00 L744.75 511.00 L743.65 512.00 L742.59 513.00 L741.57 514.00 L742.17 515.00 L742.69 516.00 L743.12 517.00 L743.46 518.00 L740.61 519.00 L737.97 520.00 L735.55 521.00 L733.33 522.00 L734.27 523.00 L735.07 524.00 L735.73 525.00 L736.26 526.00 L734.87 527.00 L733.62 528.00 L732.51 529.00 L731.54 530.00 L731.82 531.00 L732.00 532.00 L732.07 533.00 L732.03 534.00 L731.40 535.00 L730.86 536.00 L730.41 537.00 L730.05 538.00 L729.82 539.00 L729.60 540.00 L729.60 541.00 L729.60 542.00 L729.60 543.00 L729.60 544.00 L729.60 545.00 L729.60 546.00" fill="none" stroke="#1f77b4" stroke-width="2.30"  stroke-linejoin="round"/>
<path d="M729.98 182.00 L730.57 183.00 L747.10 184.00 L740.67 185.00 L734.24 186.00 L737.78 187.00 L741.32 188.00 L744.88 189.00 L748.55 190.00 L745.95 191.00 L745.84 192.00 L750.75 193.00 L759.78 194.00 L765.00 195.00 L762.07 196.00 L759.48 197.00 L761.91 198.00 L754.98 199.00 L747.88 200.00 L741.03 201.00 L736.20 202.00 L740.31 203.00 L746.10 204.00 L749.98 205.00 L755.20 206.00 L752.95 207.00 L750.70 208.00 L749.03 209.00 L746.91 210.00 L748.98 211.00 L751.45 212.00 L753.05 213.00 L754.06 214.00 L756.05 215.00 L758.05 216.00 L760.04 217.00 L762.03 218.00 L755.38 219.00 L748.74 220.00 L742.09 221.00 L735.44 222.00 L735.78 223.00 L736.11 224.00 L736.46 225.00 L736.81 226.00 L739.45 227.00 L742.02 228.00 L744.64 229.00 L747.25 230.00 L744.42 231.00 L741.67 232.00 L740.84 233.00 L737.98 234.00 L736.59 235.00 L735.99 236.00 L735.79 237.00 L735.71 238.00 L735.61 239.00 L735.51 240.00 L735.42 241.00 L735.32 242.00 L740.01 243.00 L744.70 244.00 L749.39 245.00 L754.08 246.00 L739.48 247.00 L739.56 248.00 L739.65 249.00 L739.74 250.00 L739.36 251.00 L738.98 252.00 L738.60 253.00 L738.22 254.00 L736.68 255.00 L735.44 256.00 L735.62 257.00 L739.86 258.00 L752.24 259.00 L764.40 260.00 L768.18 261.00 L765.91 262.00 L759.54 263.00 L752.01 264.00 L745.74 265.00 L740.77 266.00 L739.30 267.00 L738.04 268.00 L736.74 269.00 L735.37 270.00 L736.30 271.00 L737.26 272.00 L738.21 273.00 L739.17 274.00 L738.96 275.00 L738.76 276.00 L738.56 277.00 L738.36 278.00 L737.35 279.00 L736.35 280.00 L735.35 281.00 L734.37 282.00 L736.59 283.00 L740.02 284.00 L747.51 285.00 L762.82 286.00 L783.13 287.00 L798.75 288.00 L795.04 289.00 L774.33 290.00 L754.50 291.00 L744.48 292.00 L741.98 293.00 L742.43 294.00 L746.22 295.00 L750.13 296.00 L754.04 297.00 L757.95 298.00 L754.68 299.00 L751.40 300.00 L748.13 301.00 L744.86 302.00 L743.24 303.00 L742.08 304.00 L742.63 305.00 L747.08 306.00 L757.29 307.00 L763.03 308.00 L762.65 309.00 L761.55 310.00 L764.12 311.00 L770.28 312.00 L774.69 313.00 L773.93 314.00 L767.37 315.00 L757.18 316.00 L747.79 317.00 L740.60 318.00 L744.79 319.00 L749.42 320.00 L754.10 321.00 L758.79 322.00 L752.65 323.00 L746.52 324.00 L740.38 325.00 L734.24 326.00 L734.33 327.00 L734.42 328.00 L734.51 329.00 L734.61 330.00 L734.67 331.00 L734.80 332.00 L735.17 333.00 L736.17 334.00 L740.71 335.00 L746.61 336.00 L752.50 337.00 L758.40 338.00 L755.43 339.00 L752.47 340.00 L749.51 341.00 L746.55 342.00 L746.83 343.00 L747.12 344.00 L747.41 345.00 L747.70 346.00 L744.78 347.00 L741.86 348.00 L738.94 349.00 L736.01 350.00 L737.05 351.00 L738.08 352.00 L739.12 353.00 L740.15 354.00 L744.02 355.00 L747.88 356.00 L734.98 357.00 L734.94 358.00 L734.19 359.00 L732.96 360.00 L731.72 361.00 L730.58 362.00 L730.57 363.00 L730.57 364.00 L730.58 365.00 L730.63 366.00 L730.77 367.00 L734.37 368.00 L734.32 369.00 L734.27 370.00 L735.57 371.00 L736.88 372.00 L738.18 373.00 L739.48 374.00 L742.92 375.00 L746.35 376.00 L749.78 377.00 L753.21 378.00 L750.37 379.00 L747.53 380.00 L744.69 381.00 L741.85 382.00 L740.88 383.00 L739.91 384.00 L738.94 385.00 L737.97 386.00 L738.56 387.00 L739.16 388.00 L739.75 389.00 L740.34 390.00 L738.97 391.00 L737.61 392.00 L736.24 393.00 L734.87 394.00 L740.89 395.00 L746.92 396.00 L752.94 397.00 L758.97 398.00 L753.49 399.00 L748.02 400.00 L742.54 401.00 L737.06 402.00 L736.64 403.00 L736.23 404.00 L735.81 405.00 L735.39 406.00 L735.63 407.00 L735.88 408.00 L736.12 409.00 L736.37 410.00 L740.39 411.00 L744.41 412.00 L748.43 413.00 L752.45 414.00 L748.45 415.00 L744.46 416.00 L740.47 417.00 L736.48 418.00 L741.49 419.00 L746.51 420.00 L751.53 421.00 L756.55 422.00 L751.60 423.00 L746.66 424.00 L741.71 425.00 L736.76 426.00 L737.28 427.00 L737.80 428.00 L738.32 429.00 L738.84 430.00 L737.71 431.00 L736.60 432.00 L735.64 433.00 L735.49 434.00 L744.21 435.00 L756.05 436.00 L768.18 437.00 L774.62 438.00 L773.41 439.00 L766.38 440.00 L758.44 441.00 L753.67 442.00 L752.43 443.00 L758.78 444.00 L774.54 445.00 L792.07 446.00 L795.45 447.00 L779.65 448.00 L757.53 449.00 L742.09 450.00 L737.63 451.00 L737.56 452.00 L738.72 453.00 L740.09 454.00 L739.43 455.00 L736.47 456.00 L736.61 457.00 L735.77 458.00 L735.92 459.00 L737.46 460.00 L739.43 461.00 L741.39 462.00 L741.97 463.00 L742.55 464.00 L743.13 465.00 L743.71 466.00 L742.56 467.00 L741.41 468.00 L740.26 469.00 L748.62 470.00 L745.47 471.00 L742.32 472.00 L739.17 473.00 L736.02 474.00 L735.58 475.00 L735.14 476.00 L734.70 477.00 L734.26 478.00 L739.69 479.00 L745.11 480.00 L750.54 481.00 L755.97 482.00 L756.66 483.00 L757.36 484.00 L758.06 485.00 L758.76 486.00 L752.75 487.00 L746.74 488.00 L742.30 489.00 L743.41 490.00 L742.74 491.00 L740.26 492.00 L739.86 493.00 L740.29 494.00 L740.16 495.00 L740.04 496.00 L739.92 497.00 L739.79 498.00 L745.00 499.00 L750.21 500.00 L754.77 501.00 L759.07 502.00 L752.20 503.00 L745.66 504.00 L739.45 505.00 L734.52 506.00 L734.37 507.00 L733.69 508.00 L734.34 509.00 L733.48 510.00 L736.46 511.00 L739.56 512.00 L742.43 513.00 L745.05 514.00 L742.73 515.00 L740.54 516.00 L738.49 517.00 L736.58 518.00 L735.88 519.00 L735.21 520.00 L734.57 521.00 L733.98 522.00 L734.89 523.00 L735.67 524.00 L736.31 525.00 L736.82 526.00 L735.72 527.00 L734.71 528.00 L733.79 529.00 L732.96 530.00 L732.83 531.00 L732.65 532.00 L732.42 533.00 L732.15 534.00 L731.38 535.00 L730.75 536.00 L730.26 537.00 L729.90 538.00 L729.74 539.00 L729.60 540.00 L729.60 541.00 L729.60 542.00 L729.60 543.00 L729.60 544.00 L729.60 545.00 L729.60 546.00" fill="none" stroke="#ff7f0e" stroke-width="2.30"  stroke-linejoin="round"/>
<path d="M729.60 182.00 L729.60 183.00 L729.92 184.00 L729.93 185.00 L729.93 186.00 L730.05 187.00 L730.17 188.00 L730.29 189.00 L730.41 190.00 L730.29 191.00 L730.17 192.00 L730.06 193.00 L729.94 194.00 L729.94 195.00 L729.94 196.00 L729.93 197.00 L729.93 198.00 L729.99 199.00 L730.06 200.00 L730.13 201.00 L730.19 202.00 L730.18 203.00 L730.16 204.00 L730.15 205.00 L730.14 206.00 L730.09 207.00 L730.05 208.00 L730.00 209.00 L729.96 210.00 L730.00 211.00 L730.03 212.00 L730.07 213.00 L730.11 214.00 L730.32 215.00 L730.54 216.00 L730.75 217.00 L730.97 218.00 L730.71 219.00 L730.45 220.00 L730.19 221.00 L729.93 222.00 L729.93 223.00 L729.94 224.00 L729.94 225.00 L729.95 226.00 L729.94 227.00 L729.93 228.00 L729.92 229.00 L729.91 230.00 L729.93 231.00 L729.94 232.00 L729.96 233.00 L729.98 234.00 L729.96 235.00 L729.95 236.00 L729.93 237.00 L729.92 238.00 L730.29 239.00 L730.66 240.00 L731.03 241.00 L731.40 242.00 L731.06 243.00 L730.72 244.00 L730.37 245.00 L730.03 246.00 L729.91 247.00 L730.05 248.00 L730.19 249.00 L730.33 250.00 L730.18 251.00 L730.03 252.00 L729.88 253.00 L729.73 254.00 L729.85 255.00 L729.97 256.00 L730.10 257.00 L730.22 258.00 L730.13 259.00 L730.04 260.00 L729.95 261.00 L730.25 262.00 L730.34 263.00 L730.42 264.00 L730.51 265.00 L730.59 266.00 L730.58 267.00 L730.56 268.00 L730.55 269.00 L730.53 270.00 L730.40 271.00 L730.26 272.00 L730.13 273.00 L730.00 274.00 L729.99 275.00 L729.98 276.00 L729.98 277.00 L729.97 278.00 L730.12 279.00 L730.27 280.00 L730.42 281.00 L730.57 282.00 L730.41 283.00 L730.25 284.00 L730.09 285.00 L729.93 286.00 L729.92 287.00 L729.92 288.00 L729.91 289.00 L729.91 290.00 L730.13 291.00 L730.35 292.00 L730.56 293.00 L730.78 294.00 L730.70 295.00 L730.63 296.00 L730.55 297.00 L730.47 298.00 L730.35 299.00 L730.23 300.00 L730.11 301.00 L729.99 302.00 L730.06 303.00 L730.13 304.00 L730.20 305.00 L730.28 306.00 L730.50 307.00 L730.72 308.00 L730.94 309.00 L731.16 310.00 L730.87 311.00 L730.58 312.00 L730.29 313.00 L730.00 314.00 L729.98 315.00 L729.96 316.00 L729.94 317.00 L729.92 318.00 L729.98 319.00 L730.03 320.00 L730.08 321.00 L730.13 322.00 L730.09 323.00 L730.04 324.00 L729.99 325.00 L729.94 326.00 L729.97 327.00 L730.01 328.00 L730.05 329.00 L730.08 330.00 L730.04 331.00 L730.00 332.00 L729.95 333.00 L729.91 334.00 L730.12 335.00 L730.34 336.00 L730.55 337.00 L730.76 338.00 L730.79 339.00 L730.82 340.00 L730.84 341.00 L730.87 342.00 L730.68 343.00 L730.48 344.00 L730.28 345.00 L730.09 346.00 L730.09 347.00 L730.09 348.00 L730.09 349.00 L730.09 350.00 L730.06 351.00 L730.04 352.00 L730.01 353.00 L729.99 354.00 L730.32 355.00 L730.64 356.00 L729.87 357.00 L729.94 358.00 L729.93 359.00 L729.92 360.00 L729.91 361.00 L729.89 362.00 L729.87 363.00 L729.84 364.00 L729.81 365.00 L729.79 366.00 L729.76 367.00 L730.24 368.00 L730.09 369.00 L729.94 370.00 L729.94 371.00 L729.94 372.00 L729.94 373.00 L729.94 374.00 L730.15 375.00 L730.36 376.00 L730.56 377.00 L730.77 378.00 L730.57 379.00 L730.36 380.00 L730.15 381.00 L729.95 382.00 L730.11 383.00 L730.27 384.00 L730.43 385.00 L730.59 386.00 L730.48 387.00 L730.36 388.00 L730.25 389.00 L730.14 390.00 L730.08 391.00 L730.02 392.00 L729.97 393.00 L729.91 394.00 L729.92 395.00 L729.93 396.00 L729.94 397.00 L729.95 398.00 L730.26 399.00 L730.56 400.00 L730.87 401.00 L731.17 402.00 L730.89 403.00 L730.61 404.00 L730.32 405.00 L730.04 406.00 L730.17 407.00 L730.30 408.00 L730.43 409.00 L730.56 410.00 L730.61 411.00 L730.66 412.00 L730.71 413.00 L730.76 414.00 L730.60 415.00 L730.44 416.00 L730.27 417.00 L730.11 418.00 L730.15 419.00 L730.18 420.00 L730.21 421.00 L730.24 422.00 L730.44 423.00 L730.63 424.00 L730.82 425.00 L731.02 426.00 L730.93 427.00 L730.85 428.00 L730.76 429.00 L730.68 430.00 L730.58 431.00 L730.48 432.00 L730.38 433.00 L730.28 434.00 L730.29 435.00 L730.30 436.00 L730.31 437.00 L730.31 438.00 L730.28 439.00 L730.24 440.00 L730.21 441.00 L730.17 442.00 L730.17 443.00 L730.16 444.00 L730.15 445.00 L730.15 446.00 L730.25 447.00 L730.35 448.00 L730.45 449.00 L730.55 450.00 L730.41 451.00 L730.26 452.00 L730.12 453.00 L729.98 454.00 L730.24 455.00 L730.05 456.00 L730.18 457.00 L730.32 458.00 L730.19 459.00 L730.06 460.00 L729.93 461.00 L729.81 462.00 L729.80 463.00 L729.80 464.00 L729.79 465.00 L730.14 466.00 L731.01 467.00 L732.50 468.00 L733.63 469.00 L735.87 470.00 L737.39 471.00 L740.88 472.00 L741.74 473.00 L745.69 474.00 L747.84 475.00 L751.10 476.00 L755.98 477.00 L754.60 478.00 L755.73 479.00 L763.29 480.00 L768.57 481.00 L768.03 482.00 L767.88 483.00 L777.07 484.00 L782.83 485.00 L790.39 486.00 L792.95 487.00 L785.03 488.00 L780.78 489.00 L787.92 490.00 L783.48 491.00 L776.34 492.00 L781.30 493.00 L774.07 494.00 L777.95 495.00 L765.16 496.00 L768.73 497.00 L767.69 498.00 L766.41 499.00 L758.78 500.00 L763.68 501.00 L761.49 502.00 L758.38 503.00 L756.44 504.00 L756.27 505.00 L754.70 506.00 L749.56 507.00 L751.52 508.00 L748.62 509.00 L747.07 510.00 L749.68 511.00 L746.90 512.00 L746.61 513.00 L742.20 514.00 L741.23 515.00 L741.36 516.00 L740.01 517.00 L738.06 518.00 L736.59 519.00 L736.52 520.00 L736.14 521.00 L734.49 522.00 L733.64 523.00 L732.85 524.00 L732.43 525.00 L731.51 526.00 L731.37 527.00 L730.57 528.00 L730.14 529.00 L729.78 530.00 L729.71 531.00 L729.73 532.00 L729.74 533.00 L729.74 534.00 L729.70 535.00 L729.67 536.00 L729.64 537.00 L729.62 538.00 L729.61 539.00 L729.60 540.00 L729.60 541.00 L729.60 542.00 L729.60 543.00 L729.60 544.00 L729.60 545.00 L729.60 546.00" fill="none" stroke="#2ca02c" stroke-width="2.30"  stroke-linejoin="round"/>
<path d="M729.60 182.00 L729.60 183.00 L730.03 184.00 L730.00 185.00 L729.97 186.00 L729.96 187.00 L729.95 188.00 L729.95 189.00 L729.94 190.00 L730.25 191.00 L730.56 192.00 L730.87 193.00 L731.18 194.00 L730.97 195.00 L730.77 196.00 L730.57 197.00 L730.37 198.00 L730.43 199.00 L730.48 200.00 L730.54 201.00 L730.59 202.00 L730.53 203.00 L730.46 204.00 L730.39 205.00 L730.33 206.00 L730.27 207.00 L730.21 208.00 L730.15 209.00 L730.10 210.00 L730.24 211.00 L730.39 212.00 L730.54 213.00 L730.69 214.00 L730.61 215.00 L730.53 216.00 L730.45 217.00 L730.37 218.00 L730.48 219.00 L730.59 220.00 L730.70 221.00 L730.81 222.00 L730.74 223.00 L730.67 224.00 L730.60 225.00 L730.53 226.00 L730.64 227.00 L730.75 228.00 L730.85 229.00 L730.96 230.00 L730.76 231.00 L730.56 232.00 L730.36 233.00 L730.16 234.00 L730.11 235.00 L730.05 236.00 L729.99 237.00 L729.93 238.00 L729.93 239.00 L729.93 240.00 L729.93 241.00 L729.93 242.00 L730.12 243.00 L730.30 244.00 L730.48 245.00 L730.67 246.00 L729.95 247.00 L729.88 248.00 L729.81 249.00 L729.74 250.00 L729.79 251.00 L729.85 252.00 L729.91 253.00 L729.97 254.00 L729.96 255.00 L729.95 256.00 L729.95 257.00 L729.94 258.00 L729.89 259.00 L729.83 260.00 L729.78 261.00 L729.91 262.00 L730.14 263.00 L730.36 264.00 L730.59 265.00 L730.81 266.00 L730.59 267.00 L730.36 268.00 L730.14 269.00 L729.91 270.00 L730.19 271.00 L730.47 272.00 L730.76 273.00 L731.04 274.00 L731.02 275.00 L731.00 276.00 L730.98 277.00 L730.96 278.00 L730.71 279.00 L730.46 280.00 L730.21 281.00 L729.96 282.00 L730.14 283.00 L730.32 284.00 L730.50 285.00 L730.67 286.00 L730.68 287.00 L730.68 288.00 L730.68 289.00 L730.69 290.00 L730.50 291.00 L730.31 292.00 L730.12 293.00 L729.92 294.00 L730.08 295.00 L730.24 296.00 L730.39 297.00 L730.55 298.00 L730.39 299.00 L730.24 300.00 L730.08 301.00 L729.92 302.00 L730.24 303.00 L730.55 304.00 L730.86 305.00 L731.17 306.00 L731.03 307.00 L730.88 308.00 L730.74 309.00 L730.59 310.00 L730.79 311.00 L730.99 312.00 L731.19 313.00 L731.39 314.00 L731.02 315.00 L730.65 316.00 L730.28 317.00 L729.91 318.00 L729.94 319.00 L729.97 320.00 L730.00 321.00 L730.03 322.00 L730.14 323.00 L730.24 324.00 L730.34 325.00 L730.45 326.00 L730.44 327.00 L730.44 328.00 L730.43 329.00 L730.43 330.00 L730.31 331.00 L730.19 332.00 L730.07 333.00 L729.95 334.00 L730.23 335.00 L730.52 336.00 L730.81 337.00 L731.10 338.00 L731.07 339.00 L731.04 340.00 L731.01 341.00 L730.98 342.00 L730.74 343.00 L730.50 344.00 L730.26 345.00 L730.02 346.00 L730.00 347.00 L729.98 348.00 L729.95 349.00 L729.93 350.00 L730.08 351.00 L730.24 352.00 L730.39 353.00 L730.54 354.00 L730.44 355.00 L730.33 356.00 L729.73 357.00 L729.70 358.00 L729.73 359.00 L729.75 360.00 L729.77 361.00 L729.79 362.00 L729.77 363.00 L729.76 364.00 L729.74 365.00 L729.73 366.00 L729.72 367.00 L730.17 368.00 L730.14 369.00 L730.11 370.00 L730.06 371.00 L730.01 372.00 L729.96 373.00 L729.91 374.00 L729.91 375.00 L729.92 376.00 L729.92 377.00 L729.93 378.00 L729.99 379.00 L730.06 380.00 L730.12 381.00 L730.19 382.00 L730.31 383.00 L730.43 384.00 L730.56 385.00 L730.68 386.00 L730.54 387.00 L730.41 388.00 L730.28 389.00 L730.14 390.00 L730.29 391.00 L730.43 392.00 L730.57 393.00 L730.72 394.00 L730.61 395.00 L730.51 396.00 L730.41 397.00 L730.31 398.00 L730.50 399.00 L730.69 400.00 L730.88 401.00 L731.08 402.00 L730.94 403.00 L730.80 404.00 L730.66 405.00 L730.52 406.00 L730.40 407.00 L730.28 408.00 L730.16 409.00 L730.04 410.00 L730.01 411.00 L729.98 412.00 L729.96 413.00 L729.93 414.00 L729.93 415.00 L729.92 416.00 L729.92 417.00 L729.91 418.00 L729.91 419.00 L729.91 420.00 L729.91 421.00 L729.91 422.00 L730.19 423.00 L730.47 424.00 L730.75 425.00 L731.02 426.00 L731.03 427.00 L731.04 428.00 L731.05 429.00 L731.06 430.00 L730.98 431.00 L730.90 432.00 L730.81 433.00 L730.73 434.00 L730.53 435.00 L730.33 436.00 L730.12 437.00 L729.92 438.00 L730.07 439.00 L730.23 440.00 L730.38 441.00 L730.53 442.00 L730.38 443.00 L730.23 444.00 L730.08 445.00 L729.93 446.00 L730.22 447.00 L730.51 448.00 L730.81 449.00 L731.10 450.00 L730.96 451.00 L730.81 452.00 L730.66 453.00 L730.52 454.00 L730.57 455.00 L730.11 456.00 L730.14 457.00 L730.16 458.00 L730.13 459.00 L730.09 460.00 L730.05 461.00 L730.01 462.00 L729.98 463.00 L729.94 464.00 L729.90 465.00 L729.87 466.00 L729.97 467.00 L730.08 468.00 L730.19 469.00 L730.99 470.00 L731.26 471.00 L731.83 472.00 L733.24 473.00 L734.04 474.00 L736.13 475.00 L737.05 476.00 L738.78 477.00 L739.99 478.00 L741.94 479.00 L744.40 480.00 L746.53 481.00 L744.40 482.00 L746.75 483.00 L748.47 484.00 L749.74 485.00 L755.54 486.00 L758.93 487.00 L754.04 488.00 L756.84 489.00 L766.11 490.00 L757.14 491.00 L755.87 492.00 L761.89 493.00 L755.49 494.00 L752.29 495.00 L755.55 496.00 L751.64 497.00 L752.02 498.00 L750.59 499.00 L752.69 500.00 L752.30 501.00 L751.23 502.00 L747.57 503.00 L748.79 504.00 L746.53 505.00 L744.90 506.00 L744.37 507.00 L743.46 508.00 L743.47 509.00 L740.23 510.00 L741.55 511.00 L740.41 512.00 L738.89 513.00 L737.83 514.00 L736.62 515.00 L737.25 516.00 L735.47 517.00 L734.23 518.00 L734.97 519.00 L733.80 520.00 L733.01 521.00 L732.08 522.00 L731.91 523.00 L731.74 524.00 L731.23 525.00 L730.51 526.00 L730.23 527.00 L730.02 528.00 L729.96 529.00 L730.00 530.00 L729.90 531.00 L729.81 532.00 L729.74 533.00 L729.67 534.00 L729.69 535.00 L729.70 536.00 L729.69 537.00 L729.67 538.00 L729.64 539.00 L729.60 540.00 L729.60 541.00 L729.60 542.00 L729.60 543.00 L729.60 544.00 L729.60 545.00 L729.60 546.00" fill="none" stroke="#d62728" stroke-width="2.30"  stroke-linejoin="round"/>
<path d="M729.60 182.00 L729.60 183.00 L730.68 184.00 L730.31 185.00 L729.93 186.00 L730.05 187.00 L730.18 188.00 L730.30 189.00 L730.42 190.00 L730.38 191.00 L730.35 192.00 L730.32 193.00 L730.28 194.00 L730.61 195.00 L730.94 196.00 L731.27 197.00 L731.60 198.00 L731.23 199.00 L730.86 200.00 L730.50 201.00 L730.13 202.00 L730.15 203.00 L730.18 204.00 L730.20 205.00 L730.22 206.00 L730.28 207.00 L730.34 208.00 L730.40 209.00 L730.46 210.00 L730.38 211.00 L730.30 212.00 L730.21 213.00 L730.13 214.00 L730.45 215.00 L730.78 216.00 L731.10 217.00 L731.42 218.00 L731.39 219.00 L731.36 220.00 L731.33 221.00 L731.30 222.00 L731.18 223.00 L731.06 224.00 L730.94 225.00 L730.82 226.00 L730.59 227.00 L730.37 228.00 L730.14 229.00 L729.91 230.00 L730.36 231.00 L730.82 232.00 L731.27 233.00 L731.72 234.00 L731.39 235.00 L731.06 236.00 L730.73 237.00 L730.40 238.00 L730.43 239.00 L730.46 240.00 L730.48 241.00 L730.51 242.00 L730.48 243.00 L730.45 244.00 L730.42 245.00 L730.39 246.00 L729.91 247.00 L729.91 248.00 L729.90 249.00 L729.90 250.00 L730.01 251.00 L730.13 252.00 L730.24 253.00 L730.36 254.00 L730.21 255.00 L730.06 256.00 L729.91 257.00 L729.77 258.00 L729.76 259.00 L729.75 260.00 L729.74 261.00 L729.93 262.00 L730.39 263.00 L730.85 264.00 L731.30 265.00 L731.76 266.00 L731.32 267.00 L730.88 268.00 L730.44 269.00 L730.01 270.00 L730.01 271.00 L730.01 272.00 L730.02 273.00 L730.02 274.00 L730.07 275.00 L730.12 276.00 L730.16 277.00 L730.21 278.00 L730.50 279.00 L730.79 280.00 L731.08 281.00 L731.37 282.00 L731.06 283.00 L730.75 284.00 L730.44 285.00 L730.12 286.00 L730.07 287.00 L730.02 288.00 L729.96 289.00 L729.91 290.00 L729.93 291.00 L729.96 292.00 L729.98 293.00 L730.01 294.00 L730.00 295.00 L730.00 296.00 L729.99 297.00 L729.98 298.00 L729.96 299.00 L729.95 300.00 L729.93 301.00 L729.91 302.00 L730.27 303.00 L730.63 304.00 L730.99 305.00 L731.35 306.00 L731.23 307.00 L731.10 308.00 L730.97 309.00 L730.85 310.00 L730.62 311.00 L730.39 312.00 L730.16 313.00 L729.93 314.00 L729.95 315.00 L729.96 316.00 L729.98 317.00 L729.99 318.00 L730.41 319.00 L730.84 320.00 L731.26 321.00 L731.68 322.00 L731.45 323.00 L731.22 324.00 L730.99 325.00 L730.76 326.00 L730.62 327.00 L730.49 328.00 L730.36 329.00 L730.22 330.00 L730.28 331.00 L730.35 332.00 L730.41 333.00 L730.47 334.00 L730.77 335.00 L731.08 336.00 L731.39 337.00 L731.69 338.00 L731.27 339.00 L730.84 340.00 L730.41 341.00 L729.99 342.00 L730.14 343.00 L730.29 344.00 L730.44 345.00 L730.58 346.00 L730.42 347.00 L730.25 348.00 L730.08 349.00 L729.91 350.00 L730.00 351.00 L730.10 352.00 L730.19 353.00 L730.29 354.00 L730.21 355.00 L730.14 356.00 L729.69 357.00 L729.68 358.00 L729.68 359.00 L729.69 360.00 L729.69 361.00 L729.70 362.00 L729.70 363.00 L729.70 364.00 L729.71 365.00 L729.71 366.00 L729.71 367.00 L730.17 368.00 L730.18 369.00 L730.19 370.00 L730.49 371.00 L730.78 372.00 L731.07 373.00 L731.36 374.00 L731.05 375.00 L730.73 376.00 L730.42 377.00 L730.11 378.00 L730.06 379.00 L730.01 380.00 L729.96 381.00 L729.91 382.00 L730.22 383.00 L730.54 384.00 L730.85 385.00 L731.16 386.00 L731.24 387.00 L731.31 388.00 L731.39 389.00 L731.46 390.00 L731.39 391.00 L731.32 392.00 L731.25 393.00 L731.18 394.00 L730.90 395.00 L730.61 396.00 L730.32 397.00 L730.04 398.00 L730.05 399.00 L730.07 400.00 L730.08 401.00 L730.10 402.00 L730.31 403.00 L730.52 404.00 L730.73 405.00 L730.94 406.00 L730.68 407.00 L730.43 408.00 L730.17 409.00 L729.92 410.00 L729.92 411.00 L729.91 412.00 L729.91 413.00 L729.91 414.00 L730.02 415.00 L730.12 416.00 L730.22 417.00 L730.32 418.00 L730.24 419.00 L730.15 420.00 L730.07 421.00 L729.98 422.00 L730.05 423.00 L730.12 424.00 L730.18 425.00 L730.25 426.00 L730.17 427.00 L730.10 428.00 L730.02 429.00 L729.94 430.00 L730.36 431.00 L730.78 432.00 L731.19 433.00 L731.61 434.00 L731.28 435.00 L730.96 436.00 L730.63 437.00 L730.31 438.00 L730.25 439.00 L730.20 440.00 L730.14 441.00 L730.09 442.00 L730.08 443.00 L730.07 444.00 L730.06 445.00 L730.04 446.00 L730.04 447.00 L730.03 448.00 L730.02 449.00 L730.02 450.00 L730.26 451.00 L730.50 452.00 L730.75 453.00 L730.99 454.00 L731.00 455.00 L730.31 456.00 L730.33 457.00 L730.48 458.00 L731.31 459.00 L734.56 460.00 L742.70 461.00 L755.10 462.00 L764.28 463.00 L762.23 464.00 L751.43 465.00 L743.36 466.00 L746.26 467.00 L757.26 468.00 L764.82 469.00 L760.76 470.00 L748.74 471.00 L737.93 472.00 L732.39 473.00 L732.70 474.00 L734.35 475.00 L735.02 476.00 L736.64 477.00 L739.95 478.00 L739.78 479.00 L744.93 480.00 L744.59 481.00 L749.49 482.00 L751.31 483.00 L752.61 484.00 L760.07 485.00 L757.43 486.00 L767.23 487.00 L766.73 488.00 L773.69 489.00 L778.23 490.00 L781.69 491.00 L771.65 492.00 L778.16 493.00 L777.48 494.00 L768.10 495.00 L764.72 496.00 L764.91 497.00 L770.65 498.00 L759.88 499.00 L760.40 500.00 L763.26 501.00 L760.11 502.00 L757.39 503.00 L759.81 504.00 L754.10 505.00 L751.50 506.00 L754.33 507.00 L749.00 508.00 L752.50 509.00 L748.77 510.00 L748.51 511.00 L748.91 512.00 L749.04 513.00 L747.79 514.00 L743.65 515.00 L744.20 516.00 L740.96 517.00 L743.01 518.00 L740.64 519.00 L739.24 520.00 L737.87 521.00 L737.76 522.00 L736.18 523.00 L735.06 524.00 L734.92 525.00 L734.92 526.00 L733.52 527.00 L733.12 528.00 L732.42 529.00 L731.85 530.00 L731.31 531.00 L730.90 532.00 L730.29 533.00 L730.05 534.00 L729.75 535.00 L729.69 536.00 L729.69 537.00 L729.67 538.00 L729.64 539.00 L729.60 540.00 L729.60 541.00 L729.60 542.00 L729.60 543.00 L729.60 544.00 L729.60 545.00 L729.60 546.00" fill="none" stroke="#9467bd" stroke-width="2.30"  stroke-linejoin="round"/>
<path d="M729.60 182.00 L729.60 183.00 L730.91 184.00 L731.25 185.00 L731.59 186.00 L731.83 187.00 L732.07 188.00 L732.30 189.00 L732.54 190.00 L732.05 191.00 L731.56 192.00 L731.07 193.00 L730.58 194.00 L731.03 195.00 L731.49 196.00 L731.94 197.00 L732.40 198.00 L731.95 199.00 L731.50 200.00 L731.05 201.00 L730.60 202.00 L730.72 203.00 L730.84 204.00 L730.97 205.00 L731.09 206.00 L731.38 207.00 L731.68 208.00 L731.98 209.00 L732.27 210.00 L731.78 211.00 L731.28 212.00 L730.79 213.00 L730.29 214.00 L730.27 215.00 L730.26 216.00 L730.24 217.00 L730.22 218.00 L730.23 219.00 L730.25 220.00 L730.26 221.00 L730.27 222.00 L730.26 223.00 L730.25 224.00 L730.23 225.00 L730.22 226.00 L730.32 227.00 L730.42 228.00 L730.52 229.00 L730.62 230.00 L730.53 231.00 L730.43 232.00 L730.34 233.00 L730.24 234.00 L730.24 235.00 L730.24 236.00 L730.23 237.00 L730.23 238.00 L730.27 239.00 L730.32 240.00 L730.36 241.00 L730.40 242.00 L730.44 243.00 L730.48 244.00 L730.51 245.00 L730.55 246.00 L730.13 247.00 L730.29 248.00 L730.44 249.00 L730.60 250.00 L730.41 251.00 L730.22 252.00 L730.03 253.00 L729.85 254.00 L729.94 255.00 L730.04 256.00 L730.13 257.00 L730.23 258.00 L730.33 259.00 L730.44 260.00 L730.54 261.00 L732.21 262.00 L732.03 263.00 L731.84 264.00 L731.65 265.00 L731.47 266.00 L731.17 267.00 L730.87 268.00 L730.56 269.00 L730.26 270.00 L730.26 271.00 L730.26 272.00 L730.26 273.00 L730.26 274.00 L730.32 275.00 L730.38 276.00 L730.44 277.00 L730.50 278.00 L730.43 279.00 L730.36 280.00 L730.29 281.00 L730.22 282.00 L730.79 283.00 L731.37 284.00 L731.95 285.00 L732.52 286.00 L732.29 287.00 L732.06 288.00 L731.82 289.00 L731.59 290.00 L731.63 291.00 L731.68 292.00 L731.72 293.00 L731.77 294.00 L731.62 295.00 L731.47 296.00 L731.33 297.00 L731.18 298.00 L731.54 299.00 L731.90 300.00 L732.26 301.00 L732.62 302.00 L732.10 303.00 L731.57 304.00 L731.05 305.00 L730.53 306.00 L730.45 307.00 L730.37 308.00 L730.30 309.00 L730.22 310.00 L730.28 311.00 L730.35 312.00 L730.41 313.00 L730.48 314.00 L730.51 315.00 L730.55 316.00 L730.58 317.00 L730.61 318.00 L730.90 319.00 L731.19 320.00 L731.48 321.00 L731.77 322.00 L731.38 323.00 L730.99 324.00 L730.61 325.00 L730.22 326.00 L730.66 327.00 L731.10 328.00 L731.53 329.00 L731.97 330.00 L731.60 331.00 L731.22 332.00 L730.84 333.00 L730.46 334.00 L730.40 335.00 L730.34 336.00 L730.28 337.00 L730.22 338.00 L730.42 339.00 L730.63 340.00 L730.83 341.00 L731.04 342.00 L731.29 343.00 L731.54 344.00 L731.80 345.00 L732.05 346.00 L731.80 347.00 L731.55 348.00 L731.30 349.00 L731.04 350.00 L731.15 351.00 L731.26 352.00 L731.37 353.00 L731.48 354.00 L731.26 355.00 L731.05 356.00 L729.85 357.00 L729.80 358.00 L729.80 359.00 L729.80 360.00 L729.79 361.00 L729.79 362.00 L729.77 363.00 L729.76 364.00 L729.74 365.00 L729.72 366.00 L729.82 367.00 L731.13 368.00 L731.59 369.00 L732.05 370.00 L731.77 371.00 L731.50 372.00 L731.22 373.00 L730.95 374.00 L730.77 375.00 L730.60 376.00 L730.42 377.00 L730.25 378.00 L730.26 379.00 L730.26 380.00 L730.27 381.00 L730.28 382.00 L730.42 383.00 L730.57 384.00 L730.71 385.00 L730.85 386.00 L730.97 387.00 L731.08 388.00 L731.20 389.00 L731.32 390.00 L731.60 391.00 L731.88 392.00 L732.15 393.00 L732.43 394.00 L731.97 395.00 L731.51 396.00 L731.06 397.00 L730.60 398.00 L730.67 399.00 L730.74 400.00 L730.81 401.00 L730.87 402.00 L730.99 403.00 L731.11 404.00 L731.22 405.00 L731.34 406.00 L731.06 407.00 L730.78 408.00 L730.50 409.00 L730.23 410.00 L730.82 411.00 L731.55 412.00 L732.82 413.00 L735.31 414.00 L738.70 415.00 L742.38 416.00 L743.08 417.00 L739.67 418.00 L735.43 419.00 L733.00 420.00 L732.41 421.00 L732.66 422.00 L732.48 423.00 L732.34 424.00 L732.20 425.00 L732.06 426.00 L732.02 427.00 L731.98 428.00 L731.94 429.00 L731.90 430.00 L731.48 431.00 L731.07 432.00 L730.66 433.00 L730.25 434.00 L730.35 435.00 L730.45 436.00 L730.55 437.00 L730.66 438.00 L730.67 439.00 L730.69 440.00 L730.71 441.00 L730.72 442.00 L730.65 443.00 L730.57 444.00 L730.50 445.00 L730.53 446.00 L731.35 447.00 L734.72 448.00 L744.39 449.00 L761.98 450.00 L779.94 451.00 L786.45 452.00 L786.17 453.00 L802.65 454.00 L836.10 455.00 L849.38 456.00 L822.88 457.00 L785.06 458.00 L786.47 459.00 L780.30 460.00 L760.59 461.00 L742.89 462.00 L734.46 463.00 L733.46 464.00 L736.14 465.00 L739.23 466.00 L739.80 467.00 L737.31 468.00 L733.97 469.00 L732.77 470.00 L731.98 471.00 L731.77 472.00 L732.24 473.00 L734.65 474.00 L735.12 475.00 L737.56 476.00 L739.51 477.00 L740.83 478.00 L743.14 479.00 L749.27 480.00 L750.45 481.00 L754.30 482.00 L753.83 483.00 L756.57 484.00 L765.23 485.00 L767.68 486.00 L770.52 487.00 L775.86 488.00 L771.88 489.00 L777.02 490.00 L771.97 491.00 L773.42 492.00 L769.58 493.00 L768.21 494.00 L770.95 495.00 L774.41 496.00 L768.31 497.00 L764.07 498.00 L763.87 499.00 L765.52 500.00 L758.69 501.00 L763.38 502.00 L762.60 503.00 L760.71 504.00 L757.77 505.00 L751.98 506.00 L752.13 507.00 L752.44 508.00 L750.97 509.00 L750.66 510.00 L748.47 511.00 L749.40 512.00 L749.53 513.00 L743.77 514.00 L743.28 515.00 L743.74 516.00 L743.45 517.00 L741.41 518.00 L739.42 519.00 L739.44 520.00 L739.06 521.00 L737.47 522.00 L737.21 523.00 L736.03 524.00 L735.50 525.00 L734.24 526.00 L734.31 527.00 L732.85 528.00 L732.76 529.00 L732.07 530.00 L731.61 531.00 L730.79 532.00 L730.42 533.00 L730.01 534.00 L729.78 535.00 L729.74 536.00 L729.70 537.00 L729.66 538.00 L729.64 539.00 L729.60 540.00 L729.60 541.00 L729.60 542.00 L729.60 543.00 L729.60 544.00 L729.60 545.00 L729.60 546.00" fill="none" stroke="#8c564b" stroke-width="2.30"  stroke-linejoin="round"/>
<path d="M729.61 182.00 L729.73 183.00 L731.98 184.00 L734.79 185.00 L741.30 186.00 L750.86 187.00 L757.81 188.00 L756.38 189.00 L748.98 190.00 L745.17 191.00 L751.58 192.00 L764.76 193.00 L773.14 194.00 L768.57 195.00 L754.54 196.00 L741.17 197.00 L733.55 198.00 L731.63 199.00 L731.40 200.00 L731.56 201.00 L731.77 202.00 L731.56 203.00 L731.35 204.00 L731.14 205.00 L730.93 206.00 L731.17 207.00 L731.40 208.00 L731.64 209.00 L731.88 210.00 L732.52 211.00 L733.16 212.00 L733.80 213.00 L734.45 214.00 L734.91 215.00 L735.37 216.00 L735.84 217.00 L736.30 218.00 L736.09 219.00 L735.88 220.00 L735.68 221.00 L735.47 222.00 L735.50 223.00 L735.53 224.00 L735.56 225.00 L735.59 226.00 L734.25 227.00 L732.91 228.00 L731.57 229.00 L730.23 230.00 L730.29 231.00 L730.36 232.00 L730.42 233.00 L730.49 234.00 L731.79 235.00 L733.09 236.00 L734.39 237.00 L735.69 238.00 L734.76 239.00 L733.83 240.00 L732.89 241.00 L731.96 242.00 L731.55 243.00 L731.13 244.00 L730.72 245.00 L730.31 246.00 L730.09 247.00 L730.30 248.00 L730.51 249.00 L730.71 250.00 L731.03 251.00 L731.35 252.00 L731.66 253.00 L731.98 254.00 L731.47 255.00 L730.96 256.00 L730.45 257.00 L729.95 258.00 L729.98 259.00 L730.02 260.00 L730.06 261.00 L730.84 262.00 L730.72 263.00 L730.60 264.00 L730.47 265.00 L730.35 266.00 L731.78 267.00 L733.22 268.00 L734.65 269.00 L736.09 270.00 L734.67 271.00 L733.25 272.00 L731.83 273.00 L730.40 274.00 L730.44 275.00 L730.47 276.00 L730.52 277.00 L730.70 278.00 L731.50 279.00 L734.83 280.00 L743.30 281.00 L756.27 282.00 L765.91 283.00 L763.73 284.00 L751.79 285.00 L739.75 286.00 L733.12 287.00 L730.83 288.00 L730.31 289.00 L730.23 290.00 L730.22 291.00 L730.22 292.00 L730.22 293.00 L730.22 294.00 L730.60 295.00 L730.97 296.00 L731.35 297.00 L731.73 298.00 L731.46 299.00 L731.19 300.00 L730.92 301.00 L730.65 302.00 L730.71 303.00 L730.78 304.00 L730.84 305.00 L730.90 306.00 L731.20 307.00 L731.49 308.00 L731.79 309.00 L732.18 310.00 L732.52 311.00 L735.45 312.00 L745.43 313.00 L765.65 314.00 L788.64 315.00 L796.33 316.00 L782.16 317.00 L759.46 318.00 L742.30 319.00 L734.39 320.00 L731.65 321.00 L730.54 322.00 L730.76 323.00 L731.02 324.00 L731.28 325.00 L731.55 326.00 L731.39 327.00 L731.23 328.00 L731.07 329.00 L730.91 330.00 L731.54 331.00 L732.16 332.00 L732.79 333.00 L733.41 334.00 L732.88 335.00 L732.35 336.00 L731.82 337.00 L731.29 338.00 L731.11 339.00 L730.94 340.00 L730.76 341.00 L730.59 342.00 L731.81 343.00 L733.04 344.00 L734.26 345.00 L735.49 346.00 L735.09 347.00 L734.87 348.00 L735.64 349.00 L739.87 350.00 L751.02 351.00 L768.77 352.00 L782.26 353.00 L779.10 354.00 L762.08 355.00 L745.25 356.00 L734.33 357.00 L731.11 358.00 L730.30 359.00 L730.13 360.00 L730.06 361.00 L730.00 362.00 L729.93 363.00 L729.86 364.00 L729.79 365.00 L729.72 366.00 L729.73 367.00 L730.32 368.00 L730.37 369.00 L730.42 370.00 L730.98 371.00 L731.54 372.00 L732.10 373.00 L732.67 374.00 L732.05 375.00 L731.44 376.00 L730.83 377.00 L730.22 378.00 L730.22 379.00 L730.22 380.00 L730.22 381.00 L730.22 382.00 L730.31 383.00 L730.39 384.00 L730.47 385.00 L730.56 386.00 L730.78 387.00 L731.00 388.00 L731.23 389.00 L731.45 390.00 L731.14 391.00 L730.83 392.00 L730.53 393.00 L730.22 394.00 L731.70 395.00 L733.22 396.00 L735.02 397.00 L737.86 398.00 L741.93 399.00 L749.28 400.00 L756.55 401.00 L757.87 402.00 L751.85 403.00 L743.34 404.00 L737.32 405.00 L734.48 406.00 L734.09 407.00 L734.20 408.00 L734.39 409.00 L734.61 410.00 L734.93 411.00 L736.12 412.00 L740.86 413.00 L754.31 414.00 L778.40 415.00 L802.41 416.00 L806.80 417.00 L787.26 418.00 L760.34 419.00 L742.06 420.00 L734.17 421.00 L731.49 422.00 L730.97 423.00 L730.75 424.00 L730.65 425.00 L731.04 426.00 L733.18 427.00 L737.45 428.00 L742.59 429.00 L745.00 430.00 L742.68 431.00 L738.05 432.00 L734.56 433.00 L733.18 434.00 L733.15 435.00 L733.52 436.00 L733.98 437.00 L734.45 438.00 L734.24 439.00 L734.03 440.00 L733.81 441.00 L733.60 442.00 L732.76 443.00 L731.92 444.00 L731.08 445.00 L730.24 446.00 L730.26 447.00 L730.28 448.00 L730.30 449.00 L730.31 450.00 L730.49 451.00 L730.67 452.00 L730.85 453.00 L731.03 454.00 L730.90 455.00 L730.19 456.00 L730.13 457.00 L730.07 458.00 L730.10 459.00 L730.13 460.00 L730.16 461.00 L730.20 462.00 L730.58 463.00 L730.97 464.00 L731.36 465.00 L731.75 466.00 L731.48 467.00 L731.21 468.00 L730.95 469.00 L731.76 470.00 L731.97 471.00 L732.18 472.00 L732.39 473.00 L732.59 474.00 L733.53 475.00 L734.47 476.00 L735.40 477.00 L736.34 478.00 L735.09 479.00 L733.84 480.00 L732.60 481.00 L731.35 482.00 L731.54 483.00 L731.73 484.00 L731.92 485.00 L732.11 486.00 L733.14 487.00 L734.18 488.00 L735.21 489.00 L736.25 490.00 L735.18 491.00 L734.12 492.00 L733.05 493.00 L731.98 494.00 L732.51 495.00 L733.04 496.00 L733.56 497.00 L734.09 498.00 L733.98 499.00 L733.88 500.00 L733.67 501.00 L733.47 502.00 L732.79 503.00 L732.14 504.00 L731.53 505.00 L730.94 506.00 L730.78 507.00 L730.63 508.00 L730.48 509.00 L730.34 510.00 L730.57 511.00 L730.78 512.00 L730.98 513.00 L731.16 514.00 L730.88 515.00 L730.63 516.00 L730.39 517.00 L730.17 518.00 L730.19 519.00 L730.20 520.00 L730.21 521.00 L730.22 522.00 L730.11 523.00 L730.00 524.00 L729.90 525.00 L729.82 526.00 L730.27 527.00 L730.66 528.00 L730.97 529.00 L731.20 530.00 L731.03 531.00 L730.86 532.00 L730.69 533.00 L730.53 534.00 L730.20 535.00 L729.94 536.00 L729.75 537.00 L729.63 538.00 L729.62 539.00 L729.60 540.00 L729.60 541.00 L729.60 542.00 L729.60 543.00 L729.60 544.00 L729.60 545.00 L729.60 546.00" fill="none" stroke="#e377c2" stroke-width="2.30"  stroke-linejoin="round"/>
<path d="M729.60 182.00 L729.60 183.00 L744.44 184.00 L742.80 185.00 L741.17 186.00 L741.36 187.00 L741.56 188.00 L741.76 189.00 L741.96 190.00 L741.46 191.00 L740.96 192.00 L740.46 193.00 L739.97 194.00 L739.71 195.00 L739.46 196.00 L739.21 197.00 L738.96 198.00 L739.22 199.00 L739.47 200.00 L739.73 201.00 L739.98 202.00 L739.76 203.00 L739.54 204.00 L739.32 205.00 L739.10 206.00 L739.07 207.00 L739.04 208.00 L739.01 209.00 L738.98 210.00 L739.00 211.00 L739.02 212.00 L739.04 213.00 L739.06 214.00 L739.02 215.00 L738.97 216.00 L738.92 217.00 L738.88 218.00 L739.61 219.00 L740.34 220.00 L741.08 221.00 L741.81 222.00 L741.10 223.00 L740.39 224.00 L739.68 225.00 L738.97 226.00 L739.90 227.00 L740.82 228.00 L741.75 229.00 L742.67 230.00 L742.02 231.00 L741.37 232.00 L740.72 233.00 L740.07 234.00 L741.95 235.00 L743.83 236.00 L745.71 237.00 L747.59 238.00 L746.48 239.00 L745.37 240.00 L744.25 241.00 L743.14 242.00 L743.60 243.00 L744.06 244.00 L744.51 245.00 L744.97 246.00 L735.56 247.00 L735.37 248.00 L735.21 249.00 L735.18 250.00 L735.68 251.00 L736.28 252.00 L736.64 253.00 L736.58 254.00 L736.39 255.00 L736.44 256.00 L736.73 257.00 L737.10 258.00 L737.23 259.00 L737.35 260.00 L737.48 261.00 L749.61 262.00 L746.97 263.00 L744.34 264.00 L741.70 265.00 L739.07 266.00 L739.20 267.00 L739.34 268.00 L739.48 269.00 L739.61 270.00 L739.61 271.00 L739.60 272.00 L739.60 273.00 L739.60 274.00 L739.50 275.00 L739.41 276.00 L739.32 277.00 L739.23 278.00 L740.65 279.00 L742.07 280.00 L743.50 281.00 L744.92 282.00 L745.66 283.00 L746.41 284.00 L747.15 285.00 L747.90 286.00 L745.65 287.00 L743.40 288.00 L741.15 289.00 L738.91 290.00 L739.07 291.00 L739.88 292.00 L743.31 293.00 L753.23 294.00 L772.07 295.00 L789.31 296.00 L792.34 297.00 L780.35 298.00 L762.66 299.00 L749.50 300.00 L742.67 301.00 L739.20 302.00 L738.97 303.00 L738.93 304.00 L738.92 305.00 L738.91 306.00 L741.02 307.00 L743.13 308.00 L745.25 309.00 L747.36 310.00 L745.40 311.00 L743.45 312.00 L741.49 313.00 L739.54 314.00 L739.37 315.00 L739.20 316.00 L739.04 317.00 L738.87 318.00 L739.65 319.00 L740.44 320.00 L741.23 321.00 L742.05 322.00 L741.58 323.00 L741.73 324.00 L742.90 325.00 L744.53 326.00 L744.88 327.00 L743.48 328.00 L741.75 329.00 L740.79 330.00 L740.24 331.00 L740.02 332.00 L739.90 333.00 L739.79 334.00 L741.30 335.00 L742.81 336.00 L744.32 337.00 L745.82 338.00 L746.47 339.00 L747.11 340.00 L747.75 341.00 L748.40 342.00 L748.49 343.00 L748.59 344.00 L748.69 345.00 L748.79 346.00 L746.89 347.00 L744.99 348.00 L743.09 349.00 L741.19 350.00 L742.90 351.00 L744.62 352.00 L746.33 353.00 L748.05 354.00 L746.94 355.00 L745.83 356.00 L732.62 357.00 L732.40 358.00 L732.31 359.00 L732.22 360.00 L732.13 361.00 L732.03 362.00 L732.10 363.00 L732.16 364.00 L732.22 365.00 L732.29 366.00 L732.29 367.00 L743.09 368.00 L743.13 369.00 L743.16 370.00 L744.30 371.00 L745.45 372.00 L746.59 373.00 L747.74 374.00 L745.65 375.00 L743.57 376.00 L741.49 377.00 L739.40 378.00 L741.50 379.00 L743.59 380.00 L745.69 381.00 L747.78 382.00 L747.43 383.00 L747.07 384.00 L746.72 385.00 L746.37 386.00 L745.41 387.00 L744.45 388.00 L743.49 389.00 L742.53 390.00 L742.23 391.00 L741.93 392.00 L741.63 393.00 L741.33 394.00 L740.91 395.00 L740.50 396.00 L740.08 397.00 L739.67 398.00 L741.95 399.00 L744.22 400.00 L746.50 401.00 L748.78 402.00 L746.71 403.00 L744.63 404.00 L742.55 405.00 L740.48 406.00 L740.08 407.00 L739.83 408.00 L739.88 409.00 L740.00 410.00 L741.54 411.00 L744.18 412.00 L746.83 413.00 L749.48 414.00 L747.76 415.00 L746.05 416.00 L744.34 417.00 L742.62 418.00 L742.15 419.00 L741.67 420.00 L741.19 421.00 L740.72 422.00 L740.26 423.00 L739.80 424.00 L739.33 425.00 L738.87 426.00 L739.26 427.00 L739.65 428.00 L740.04 429.00 L740.42 430.00 L742.47 431.00 L744.52 432.00 L746.56 433.00 L748.61 434.00 L748.56 435.00 L748.51 436.00 L748.46 437.00 L748.41 438.00 L746.06 439.00 L743.71 440.00 L741.36 441.00 L739.00 442.00 L739.17 443.00 L739.33 444.00 L739.50 445.00 L739.66 446.00 L742.10 447.00 L744.53 448.00 L746.97 449.00 L749.41 450.00 L748.01 451.00 L746.61 452.00 L745.21 453.00 L743.81 454.00 L743.27 455.00 L736.17 456.00 L735.90 457.00 L735.63 458.00 L735.30 459.00 L734.97 460.00 L734.76 461.00 L734.80 462.00 L735.00 463.00 L735.25 464.00 L735.72 465.00 L736.20 466.00 L735.71 467.00 L735.22 468.00 L734.73 469.00 L738.88 470.00 L738.88 471.00 L738.88 472.00 L738.88 473.00 L738.88 474.00 L740.16 475.00 L741.45 476.00 L742.73 477.00 L744.02 478.00 L742.74 479.00 L741.46 480.00 L740.19 481.00 L738.91 482.00 L741.57 483.00 L744.22 484.00 L746.88 485.00 L749.54 486.00 L746.96 487.00 L744.39 488.00 L741.82 489.00 L739.24 490.00 L739.15 491.00 L739.06 492.00 L738.98 493.00 L738.89 494.00 L739.15 495.00 L739.42 496.00 L739.68 497.00 L739.95 498.00 L739.83 499.00 L739.71 500.00 L739.34 501.00 L738.98 502.00 L740.80 503.00 L742.50 504.00 L744.10 505.00 L745.58 506.00 L743.48 507.00 L741.49 508.00 L739.59 509.00 L737.79 510.00 L737.39 511.00 L737.01 512.00 L736.63 513.00 L736.26 514.00 L736.27 515.00 L736.25 516.00 L736.21 517.00 L736.15 518.00 L735.59 519.00 L735.06 520.00 L734.56 521.00 L734.07 522.00 L733.75 523.00 L733.44 524.00 L733.14 525.00 L732.84 526.00 L732.61 527.00 L732.38 528.00 L732.15 529.00 L731.92 530.00 L731.94 531.00 L731.90 532.00 L731.81 533.00 L731.66 534.00 L731.26 535.00 L730.88 536.00 L730.53 537.00 L730.20 538.00 L729.88 539.00 L729.60 540.00 L729.60 541.00 L729.60 542.00 L729.60 543.00 L729.60 544.00 L729.60 545.00 L729.60 546.00" fill="none" stroke="#7f7f7f" stroke-width="2.30"  stroke-linejoin="round"/>
<path d="M729.60 182.00 L729.60 183.00 L736.40 184.00 L737.15 185.00 L737.90 186.00 L736.06 187.00 L734.21 188.00 L732.37 189.00 L730.53 190.00 L732.56 191.00 L734.59 192.00 L736.62 193.00 L738.66 194.00 L738.13 195.00 L737.60 196.00 L737.06 197.00 L736.53 198.00 L735.04 199.00 L733.54 200.00 L732.04 201.00 L730.54 202.00 L731.98 203.00 L733.42 204.00 L734.86 205.00 L736.30 206.00 L736.29 207.00 L736.29 208.00 L736.28 209.00 L736.27 210.00 L734.89 211.00 L733.52 212.00 L732.14 213.00 L730.76 214.00 L732.88 215.00 L734.99 216.00 L737.11 217.00 L739.22 218.00 L737.30 219.00 L735.38 220.00 L733.45 221.00 L731.53 222.00 L731.68 223.00 L731.83 224.00 L731.98 225.00 L732.13 226.00 L732.64 227.00 L733.15 228.00 L733.66 229.00 L734.17 230.00 L734.33 231.00 L734.71 232.00 L735.99 233.00 L739.50 234.00 L745.77 235.00 L751.86 236.00 L752.96 237.00 L748.21 238.00 L741.11 239.00 L735.70 240.00 L732.77 241.00 L731.18 242.00 L731.42 243.00 L731.74 244.00 L732.07 245.00 L732.41 246.00 L730.55 247.00 L730.37 248.00 L730.19 249.00 L730.02 250.00 L730.06 251.00 L730.10 252.00 L730.14 253.00 L730.19 254.00 L730.33 255.00 L730.47 256.00 L730.61 257.00 L730.75 258.00 L730.55 259.00 L730.36 260.00 L730.17 261.00 L730.56 262.00 L730.78 263.00 L731.00 264.00 L731.22 265.00 L731.44 266.00 L732.69 267.00 L733.94 268.00 L735.19 269.00 L736.44 270.00 L735.02 271.00 L733.62 272.00 L732.44 273.00 L732.49 274.00 L738.47 275.00 L752.91 276.00 L774.55 277.00 L790.43 278.00 L786.83 279.00 L766.99 280.00 L746.74 281.00 L735.35 282.00 L732.70 283.00 L733.04 284.00 L734.10 285.00 L735.27 286.00 L734.10 287.00 L732.93 288.00 L731.76 289.00 L730.59 290.00 L730.70 291.00 L731.17 292.00 L733.14 293.00 L738.81 294.00 L749.51 295.00 L759.36 296.00 L761.10 297.00 L754.16 298.00 L744.24 299.00 L737.15 300.00 L733.72 301.00 L732.20 302.00 L732.33 303.00 L732.56 304.00 L732.80 305.00 L733.05 306.00 L733.20 307.00 L733.34 308.00 L733.49 309.00 L733.64 310.00 L733.36 311.00 L733.08 312.00 L732.80 313.00 L732.51 314.00 L732.37 315.00 L732.23 316.00 L732.08 317.00 L731.94 318.00 L731.68 319.00 L731.81 320.00 L733.78 321.00 L741.20 322.00 L757.74 323.00 L778.40 324.00 L788.33 325.00 L778.40 326.00 L757.75 327.00 L741.24 328.00 L733.57 329.00 L731.32 330.00 L730.91 331.00 L730.88 332.00 L730.91 333.00 L730.95 334.00 L731.03 335.00 L731.12 336.00 L731.20 337.00 L731.29 338.00 L732.94 339.00 L734.83 340.00 L737.77 341.00 L743.62 342.00 L751.97 343.00 L763.85 344.00 L770.00 345.00 L763.25 346.00 L749.95 347.00 L745.14 348.00 L749.76 349.00 L753.33 350.00 L749.45 351.00 L741.40 352.00 L735.03 353.00 L732.13 354.00 L731.14 355.00 L730.86 356.00 L729.83 357.00 L729.81 358.00 L730.11 359.00 L730.41 360.00 L730.71 361.00 L731.01 362.00 L731.12 363.00 L731.23 364.00 L731.34 365.00 L731.45 366.00 L731.29 367.00 L737.28 368.00 L736.48 369.00 L735.68 370.00 L736.48 371.00 L737.28 372.00 L738.08 373.00 L738.88 374.00 L737.41 375.00 L735.94 376.00 L734.48 377.00 L733.01 378.00 L732.80 379.00 L732.58 380.00 L732.37 381.00 L732.15 382.00 L732.03 383.00 L731.91 384.00 L731.78 385.00 L731.66 386.00 L732.28 387.00 L732.91 388.00 L733.53 389.00 L734.15 390.00 L733.35 391.00 L732.54 392.00 L731.73 393.00 L730.93 394.00 L731.38 395.00 L731.84 396.00 L732.30 397.00 L732.76 398.00 L732.49 399.00 L732.23 400.00 L731.96 401.00 L731.69 402.00 L732.36 403.00 L733.02 404.00 L733.68 405.00 L734.35 406.00 L735.11 407.00 L735.87 408.00 L736.69 409.00 L737.93 410.00 L739.67 411.00 L747.51 412.00 L765.52 413.00 L788.67 414.00 L800.00 415.00 L788.36 416.00 L763.68 417.00 L743.35 418.00 L735.22 419.00 L735.19 420.00 L740.16 421.00 L747.69 422.00 L753.12 423.00 L753.04 424.00 L751.77 425.00 L759.60 426.00 L778.18 427.00 L793.74 428.00 L790.05 429.00 L769.63 430.00 L748.65 431.00 L736.71 432.00 L732.18 433.00 L730.70 434.00 L730.57 435.00 L730.57 436.00 L730.57 437.00 L730.58 438.00 L731.16 439.00 L731.74 440.00 L732.32 441.00 L732.91 442.00 L733.43 443.00 L733.95 444.00 L734.47 445.00 L734.99 446.00 L734.37 447.00 L733.75 448.00 L733.12 449.00 L732.50 450.00 L733.16 451.00 L733.82 452.00 L734.48 453.00 L735.15 454.00 L734.61 455.00 L731.84 456.00 L731.57 457.00 L731.31 458.00 L731.75 459.00 L732.20 460.00 L732.64 461.00 L733.09 462.00 L732.37 463.00 L731.65 464.00 L730.94 465.00 L730.22 466.00 L730.95 467.00 L731.69 468.00 L732.42 469.00 L736.70 470.00 L736.39 471.00 L736.07 472.00 L735.75 473.00 L735.43 474.00 L734.22 475.00 L733.02 476.00 L731.81 477.00 L730.61 478.00 L730.67 479.00 L730.74 480.00 L730.81 481.00 L730.88 482.00 L730.95 483.00 L731.01 484.00 L731.08 485.00 L731.15 486.00 L732.36 487.00 L733.57 488.00 L734.78 489.00 L735.99 490.00 L735.48 491.00 L734.98 492.00 L734.48 493.00 L733.98 494.00 L733.12 495.00 L732.27 496.00 L731.41 497.00 L730.55 498.00 L731.72 499.00 L732.90 500.00 L733.96 501.00 L734.96 502.00 L733.89 503.00 L732.87 504.00 L731.90 505.00 L730.97 506.00 L732.18 507.00 L733.30 508.00 L734.35 509.00 L735.33 510.00 L734.02 511.00 L732.79 512.00 L731.64 513.00 L730.56 514.00 L730.45 515.00 L730.34 516.00 L730.24 517.00 L730.14 518.00 L730.22 519.00 L730.28 520.00 L730.34 521.00 L730.38 522.00 L730.43 523.00 L730.47 524.00 L730.50 525.00 L730.52 526.00 L730.43 527.00 L730.35 528.00 L730.27 529.00 L730.19 530.00 L730.18 531.00 L730.17 532.00 L730.14 533.00 L730.09 534.00 L729.94 535.00 L729.81 536.00 L729.72 537.00 L729.65 538.00 L729.63 539.00 L729.60 540.00 L729.60 541.00 L729.60 542.00 L729.60 543.00 L729.60 544.00 L729.60 545.00 L729.60 546.00" fill="none" stroke="#bcbd22" stroke-width="2.30"  stroke-linejoin="round"/>
<path d="M729.60 182.00 L729.60 183.00 L738.72 184.00 L735.87 185.00 L733.01 186.00 L734.96 187.00 L736.92 188.00 L738.88 189.00 L740.84 190.00 L739.78 191.00 L739.19 192.00 L740.62 193.00 L747.23 194.00 L762.13 195.00 L775.33 196.00 L777.61 197.00 L769.09 198.00 L755.99 199.00 L745.75 200.00 L744.13 201.00 L740.58 202.00 L737.72 203.00 L736.14 204.00 L735.37 205.00 L734.90 206.00 L734.36 207.00 L733.82 208.00 L733.28 209.00 L732.74 210.00 L733.27 211.00 L733.79 212.00 L734.32 213.00 L734.84 214.00 L737.51 215.00 L740.18 216.00 L742.86 217.00 L745.60 218.00 L746.22 219.00 L748.04 220.00 L752.26 221.00 L758.47 222.00 L762.91 223.00 L761.46 224.00 L752.63 225.00 L745.91 226.00 L747.56 227.00 L756.76 228.00 L770.31 229.00 L776.67 230.00 L770.25 231.00 L755.88 232.00 L744.77 233.00 L747.63 234.00 L752.70 235.00 L759.70 236.00 L761.15 237.00 L754.64 238.00 L745.41 239.00 L738.94 240.00 L735.95 241.00 L734.81 242.00 L734.76 243.00 L735.56 244.00 L737.42 245.00 L739.47 246.00 L739.82 247.00 L737.55 248.00 L734.57 249.00 L732.73 250.00 L732.45 251.00 L732.96 252.00 L734.35 253.00 L737.47 254.00 L742.29 255.00 L747.13 256.00 L748.02 257.00 L744.01 258.00 L738.31 259.00 L734.24 260.00 L732.29 261.00 L734.05 262.00 L733.71 263.00 L733.42 264.00 L733.13 265.00 L732.85 266.00 L732.81 267.00 L732.77 268.00 L732.79 269.00 L733.18 270.00 L738.16 271.00 L747.59 272.00 L763.43 273.00 L780.75 274.00 L788.33 275.00 L780.03 276.00 L761.66 277.00 L745.53 278.00 L738.43 279.00 L736.26 280.00 L735.77 281.00 L735.63 282.00 L735.40 283.00 L735.17 284.00 L734.94 285.00 L734.71 286.00 L734.23 287.00 L733.75 288.00 L733.27 289.00 L732.79 290.00 L732.91 291.00 L733.03 292.00 L733.15 293.00 L733.27 294.00 L736.39 295.00 L739.51 296.00 L742.63 297.00 L745.75 298.00 L742.96 299.00 L740.66 300.00 L739.99 301.00 L741.96 302.00 L744.79 303.00 L744.22 304.00 L741.22 305.00 L738.50 306.00 L738.88 307.00 L740.58 308.00 L742.67 309.00 L744.81 310.00 L742.90 311.00 L741.00 312.00 L739.09 313.00 L737.19 314.00 L736.15 315.00 L735.11 316.00 L734.07 317.00 L733.03 318.00 L732.95 319.00 L732.87 320.00 L732.80 321.00 L732.75 322.00 L733.06 323.00 L734.58 324.00 L740.30 325.00 L754.54 326.00 L776.10 327.00 L792.08 328.00 L788.46 329.00 L770.82 330.00 L762.21 331.00 L772.68 332.00 L785.57 333.00 L782.35 334.00 L764.74 335.00 L746.97 336.00 L737.18 337.00 L733.81 338.00 L733.29 339.00 L733.42 340.00 L733.65 341.00 L733.88 342.00 L734.24 343.00 L734.60 344.00 L734.96 345.00 L735.32 346.00 L735.09 347.00 L734.89 348.00 L734.91 349.00 L735.67 350.00 L738.15 351.00 L741.95 352.00 L744.78 353.00 L744.13 354.00 L740.78 355.00 L737.69 356.00 L731.91 357.00 L731.11 358.00 L730.77 359.00 L730.60 360.00 L730.46 361.00 L730.33 362.00 L730.94 363.00 L731.56 364.00 L732.23 365.00 L733.12 366.00 L733.59 367.00 L739.67 368.00 L739.37 369.00 L740.00 370.00 L739.04 371.00 L737.63 372.00 L737.26 373.00 L737.89 374.00 L736.97 375.00 L736.12 376.00 L735.28 377.00 L734.44 378.00 L734.90 379.00 L735.35 380.00 L735.81 381.00 L736.26 382.00 L735.37 383.00 L734.48 384.00 L733.58 385.00 L732.69 386.00 L736.10 387.00 L739.52 388.00 L742.93 389.00 L746.35 390.00 L745.51 391.00 L744.67 392.00 L743.83 393.00 L742.99 394.00 L740.42 395.00 L737.84 396.00 L735.27 397.00 L732.70 398.00 L732.90 399.00 L733.15 400.00 L733.68 401.00 L734.96 402.00 L738.76 403.00 L741.19 404.00 L741.67 405.00 L744.34 406.00 L743.36 407.00 L742.38 408.00 L741.41 409.00 L740.43 410.00 L739.48 411.00 L738.55 412.00 L737.61 413.00 L736.67 414.00 L737.95 415.00 L739.22 416.00 L740.50 417.00 L741.77 418.00 L739.53 419.00 L737.29 420.00 L735.05 421.00 L732.84 422.00 L734.83 423.00 L737.80 424.00 L744.07 425.00 L756.61 426.00 L772.83 427.00 L785.62 428.00 L782.48 429.00 L765.37 430.00 L752.27 431.00 L755.66 432.00 L770.91 433.00 L781.42 434.00 L776.10 435.00 L761.71 436.00 L750.75 437.00 L747.20 438.00 L743.22 439.00 L743.33 440.00 L742.20 441.00 L738.41 442.00 L736.24 443.00 L735.66 444.00 L735.93 445.00 L736.48 446.00 L736.87 447.00 L737.28 448.00 L737.68 449.00 L738.09 450.00 L737.30 451.00 L736.52 452.00 L735.73 453.00 L734.94 454.00 L736.55 455.00 L733.88 456.00 L734.68 457.00 L735.49 458.00 L735.97 459.00 L736.45 460.00 L736.94 461.00 L737.42 462.00 L736.36 463.00 L735.30 464.00 L734.24 465.00 L733.18 466.00 L732.86 467.00 L732.53 468.00 L732.20 469.00 L734.15 470.00 L736.03 471.00 L737.91 472.00 L739.80 473.00 L741.68 474.00 L739.62 475.00 L737.56 476.00 L735.50 477.00 L733.44 478.00 L733.25 479.00 L733.07 480.00 L732.89 481.00 L732.70 482.00 L735.32 483.00 L737.93 484.00 L740.55 485.00 L743.17 486.00 L740.70 487.00 L738.24 488.00 L735.77 489.00 L733.31 490.00 L733.16 491.00 L733.02 492.00 L732.87 493.00 L732.72 494.00 L734.20 495.00 L735.67 496.00 L737.15 497.00 L738.63 498.00 L737.14 499.00 L735.66 500.00 L734.06 501.00 L732.54 502.00 L733.98 503.00 L735.34 504.00 L736.61 505.00 L737.80 506.00 L738.10 507.00 L738.37 508.00 L738.61 509.00 L738.81 510.00 L736.92 511.00 L735.14 512.00 L733.47 513.00 L731.91 514.00 L733.16 515.00 L734.31 516.00 L735.36 517.00 L736.29 518.00 L735.38 519.00 L734.54 520.00 L733.74 521.00 L733.01 522.00 L732.39 523.00 L731.82 524.00 L731.30 525.00 L730.84 526.00 L730.73 527.00 L730.62 528.00 L730.52 529.00 L730.42 530.00 L730.34 531.00 L730.25 532.00 L730.17 533.00 L730.08 534.00 L730.09 535.00 L730.06 536.00 L730.00 537.00 L729.90 538.00 L729.80 539.00 L729.60 540.00 L729.60 541.00 L729.60 542.00 L729.60 543.00 L729.60 544.00 L729.60 545.00 L729.60 546.00" fill="none" stroke="#17becf" stroke-width="2.30"  stroke-linejoin="round"/>
</g>
<rect x="120.00" y="162.00" width="89.60" height="402.70" fill="none" stroke="#000" stroke-width="1.67"/>
<line x1="120.00" y1="546.25" x2="127.30" y2="546.25" stroke="#000" stroke-width="1.67"/>
<line x1="209.60" y1="546.25" x2="202.30" y2="546.25" stroke="#000" stroke-width="1.67"/>
<line x1="120.00" y1="466.15" x2="127.30" y2="466.15" stroke="#000" stroke-width="1.67"/>
<line x1="209.60" y1="466.15" x2="202.30" y2="466.15" stroke="#000" stroke-width="1.67"/>
<line x1="120.00" y1="386.05" x2="127.30" y2="386.05" stroke="#000" stroke-width="1.67"/>
<line x1="209.60" y1="386.05" x2="202.30" y2="386.05" stroke="#000" stroke-width="1.67"/>
<line x1="120.00" y1="305.95" x2="127.30" y2="305.95" stroke="#000" stroke-width="1.67"/>
<line x1="209.60" y1="305.95" x2="202.30" y2="305.95" stroke="#000" stroke-width="1.67"/>
<line x1="120.00" y1="225.85" x2="127.30" y2="225.85" stroke="#000" stroke-width="1.67"/>
<line x1="209.60" y1="225.85" x2="202.30" y2="225.85" stroke="#000" stroke-width="1.67"/>
<rect x="226.50" y="162.00" width="198.60" height="402.70" fill="none" stroke="#000" stroke-width="1.67"/>
<line x1="226.50" y1="546.25" x2="233.80" y2="546.25" stroke="#000" stroke-width="1.67"/>
<line x1="425.10" y1="546.25" x2="417.80" y2="546.25" stroke="#000" stroke-width="1.67"/>
<line x1="226.50" y1="466.15" x2="233.80" y2="466.15" stroke="#000" stroke-width="1.67"/>
<line x1="425.10" y1="466.15" x2="417.80" y2="466.15" stroke="#000" stroke-width="1.67"/>
<line x1="226.50" y1="386.05" x2="233.80" y2="386.05" stroke="#000" stroke-width="1.67"/>
<line x1="425.10" y1="386.05" x2="417.80" y2="386.05" stroke="#000" stroke-width="1.67"/>
<line x1="226.50" y1="305.95" x2="233.80" y2="305.95" stroke="#000" stroke-width="1.67"/>
<line x1="425.10" y1="305.95" x2="417.80" y2="305.95" stroke="#000" stroke-width="1.67"/>
<line x1="226.50" y1="225.85" x2="233.80" y2="225.85" stroke="#000" stroke-width="1.67"/>
<line x1="425.10" y1="225.85" x2="417.80" y2="225.85" stroke="#000" stroke-width="1.67"/>
<rect x="441.30" y="162.00" width="19.40" height="402.70" fill="none" stroke="#000" stroke-width="1.67"/>
<line x1="441.30" y1="546.25" x2="448.60" y2="546.25" stroke="#000" stroke-width="1.67"/>
<line x1="460.70" y1="546.25" x2="453.40" y2="546.25" stroke="#000" stroke-width="1.67"/>
<line x1="441.30" y1="466.15" x2="448.60" y2="466.15" stroke="#000" stroke-width="1.67"/>
<line x1="460.70" y1="466.15" x2="453.40" y2="466.15" stroke="#000" stroke-width="1.67"/>
<line x1="441.30" y1="386.05" x2="448.60" y2="386.05" stroke="#000" stroke-width="1.67"/>
<line x1="460.70" y1="386.05" x2="453.40" y2="386.05" stroke="#000" stroke-width="1.67"/>
<line x1="441.30" y1="305.95" x2="448.60" y2="305.95" stroke="#000" stroke-width="1.67"/>
<line x1="460.70" y1="305.95" x2="453.40" y2="305.95" stroke="#000" stroke-width="1.67"/>
<line x1="441.30" y1="225.85" x2="448.60" y2="225.85" stroke="#000" stroke-width="1.67"/>
<line x1="460.70" y1="225.85" x2="453.40" y2="225.85" stroke="#000" stroke-width="1.67"/>
<rect x="477.30" y="162.00" width="236.00" height="402.70" fill="none" stroke="#000" stroke-width="1.67"/>
<line x1="477.30" y1="546.25" x2="484.60" y2="546.25" stroke="#000" stroke-width="1.67"/>
<line x1="713.30" y1="546.25" x2="706.00" y2="546.25" stroke="#000" stroke-width="1.67"/>
<line x1="477.30" y1="466.15" x2="484.60" y2="466.15" stroke="#000" stroke-width="1.67"/>
<line x1="713.30" y1="466.15" x2="706.00" y2="466.15" stroke="#000" stroke-width="1.67"/>
<line x1="477.30" y1="386.05" x2="484.60" y2="386.05" stroke="#000" stroke-width="1.67"/>
<line x1="713.30" y1="386.05" x2="706.00" y2="386.05" stroke="#000" stroke-width="1.67"/>
<line x1="477.30" y1="305.95" x2="484.60" y2="305.95" stroke="#000" stroke-width="1.67"/>
<line x1="713.30" y1="305.95" x2="706.00" y2="305.95" stroke="#000" stroke-width="1.67"/>
<line x1="477.30" y1="225.85" x2="484.60" y2="225.85" stroke="#000" stroke-width="1.67"/>
<line x1="713.30" y1="225.85" x2="706.00" y2="225.85" stroke="#000" stroke-width="1.67"/>
<rect x="729.60" y="162.00" width="134.40" height="402.70" fill="none" stroke="#000" stroke-width="1.67"/>
<line x1="729.60" y1="546.25" x2="736.90" y2="546.25" stroke="#000" stroke-width="1.67"/>
<line x1="864.00" y1="546.25" x2="856.70" y2="546.25" stroke="#000" stroke-width="1.67"/>
<line x1="729.60" y1="466.15" x2="736.90" y2="466.15" stroke="#000" stroke-width="1.67"/>
<line x1="864.00" y1="466.15" x2="856.70" y2="466.15" stroke="#000" stroke-width="1.67"/>
<line x1="729.60" y1="386.05" x2="736.90" y2="386.05" stroke="#000" stroke-width="1.67"/>
<line x1="864.00" y1="386.05" x2="856.70" y2="386.05" stroke="#000" stroke-width="1.67"/>
<line x1="729.60" y1="305.95" x2="736.90" y2="305.95" stroke="#000" stroke-width="1.67"/>
<line x1="864.00" y1="305.95" x2="856.70" y2="305.95" stroke="#000" stroke-width="1.67"/>
<line x1="729.60" y1="225.85" x2="736.90" y2="225.85" stroke="#000" stroke-width="1.67"/>
<line x1="864.00" y1="225.85" x2="856.70" y2="225.85" stroke="#000" stroke-width="1.67"/>
<line x1="316.10" y1="564.70" x2="316.10" y2="557.40" stroke="#000" stroke-width="1.67"/>
<line x1="316.10" y1="162.00" x2="316.10" y2="169.30" stroke="#000" stroke-width="1.67"/>
<line x1="334.80" y1="564.70" x2="334.80" y2="557.40" stroke="#000" stroke-width="1.67"/>
<line x1="334.80" y1="162.00" x2="334.80" y2="169.30" stroke="#000" stroke-width="1.67"/>
<line x1="540.60" y1="564.70" x2="540.60" y2="557.40" stroke="#000" stroke-width="1.67"/>
<line x1="540.60" y1="162.00" x2="540.60" y2="169.30" stroke="#000" stroke-width="1.67"/>
<line x1="559.75" y1="564.70" x2="559.75" y2="557.40" stroke="#000" stroke-width="1.67"/>
<line x1="559.75" y1="162.00" x2="559.75" y2="169.30" stroke="#000" stroke-width="1.67"/>
<line x1="623.10" y1="564.70" x2="623.10" y2="557.40" stroke="#000" stroke-width="1.67"/>
<line x1="623.10" y1="162.00" x2="623.10" y2="169.30" stroke="#000" stroke-width="1.67"/>
<line x1="806.90" y1="564.70" x2="806.90" y2="557.40" stroke="#000" stroke-width="1.67"/>
<line x1="806.90" y1="162.00" x2="806.90" y2="169.30" stroke="#000" stroke-width="1.67"/>
<text x="111.00" y="553.75" font-size="22.00" text-anchor="end">0</text>
<text x="111.00" y="473.65" font-size="22.00" text-anchor="end">5</text>
<text x="111.00" y="393.55" font-size="22.00" text-anchor="end">10</text>
<text x="111.00" y="313.45" font-size="22.00" text-anchor="end">15</text>
<text x="111.00" y="233.35" font-size="22.00" text-anchor="end">20</text>
<text x="120.00" y="587.00" font-size="22.00" text-anchor="middle">Γ</text>
<text x="316.10" y="587.00" font-size="22.00" text-anchor="middle">Γ</text>
<text x="334.80" y="587.00" font-size="22.00" text-anchor="middle">Z</text>
<text x="477.30" y="587.00" font-size="22.00" text-anchor="middle">Γ</text>
<text x="540.60" y="587.00" font-size="22.00" text-anchor="middle">S</text>
<text x="559.75" y="587.00" font-size="22.00" text-anchor="middle">R</text>
<text x="623.10" y="587.00" font-size="22.00" text-anchor="middle">Z</text>
<text x="713.30" y="587.00" font-size="22.00" text-anchor="middle">T</text>
<text x="729.60" y="587.00" font-size="22.00" text-anchor="middle">0.0</text>
<text x="806.90" y="587.00" font-size="22.00" text-anchor="middle">2.5</text>
<text x="459.50" y="587.00" font-size="22.00" text-anchor="middle">Y</text>
<text x="442.50" y="587.00" font-size="22.00" text-anchor="middle">Γ</text>
<text x="197.50" y="587.00" font-size="22.00">C</text>
<text x="212.00" y="590.60" font-size="15.40">0</text>
<text x="202.50" y="587.00" font-size="22.00">Y</text>
<text x="215.50" y="587.00" font-size="22.00">Σ</text>
<text x="227.00" y="590.60" font-size="15.40">0</text>
<text x="412.50" y="587.00" font-size="22.00">A</text>
<text x="427.00" y="590.60" font-size="15.40">0</text>
<text x="430.00" y="587.00" font-size="22.00">E</text>
<text x="442.80" y="590.60" font-size="15.40">0</text>
<text transform="translate(74.00 363.40) rotate(-90)" font-size="22.00" text-anchor="middle">Frequency (THz)</text>
</svg></body></html>
